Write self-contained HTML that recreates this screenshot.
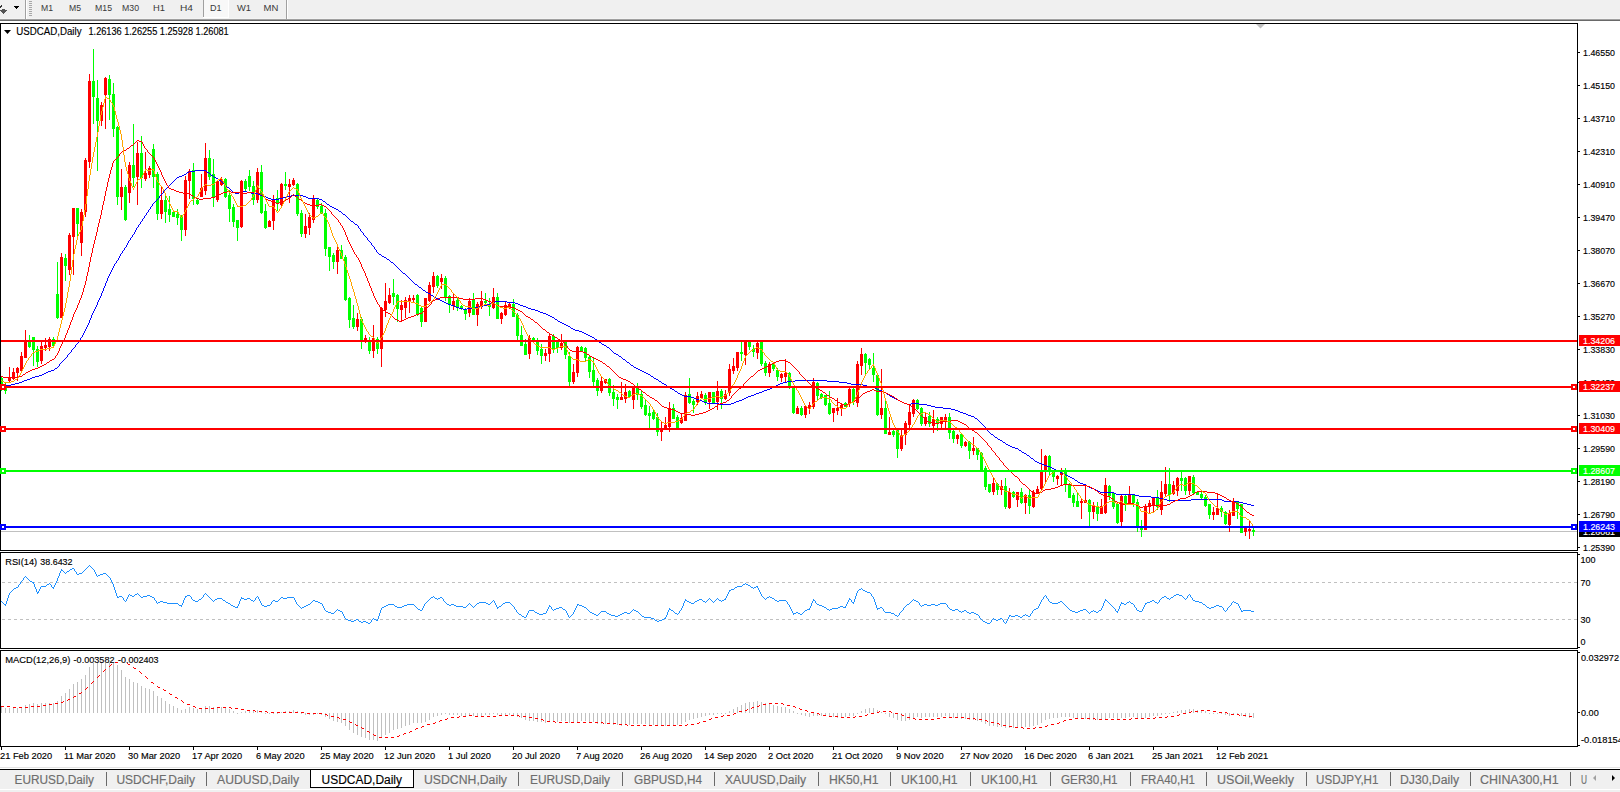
<!DOCTYPE html>
<html><head><meta charset="utf-8"><title>USDCAD,Daily</title>
<style>html,body{margin:0;padding:0;background:#fff;overflow:hidden;width:1620px;height:792px}svg{display:block}</style>
</head><body><svg width="1620" height="792" viewBox="0 0 1620 792" font-family='"Liberation Sans", sans-serif'><rect x="0" y="0" width="1620" height="19" fill="#f0f0f0"/><rect x="0" y="18" width="1620" height="1" fill="#f4f4f4"/><rect x="0" y="19" width="1620" height="1" fill="#a0a0a0"/><rect x="0" y="20" width="1620" height="1" fill="#696969"/><rect x="25" y="0" width="1" height="19" fill="#a0a0a0"/><rect x="26" y="0" width="1" height="19" fill="#ffffff"/><rect x="286" y="0" width="1" height="19" fill="#a0a0a0"/><rect x="287" y="0" width="1" height="19" fill="#ffffff"/><rect x="203" y="0" width="1" height="17" fill="#a0a0a0"/><rect x="29" y="1" width="3" height="1" fill="#a8a8a8"/><rect x="29" y="3" width="3" height="1" fill="#a8a8a8"/><rect x="29" y="5" width="3" height="1" fill="#a8a8a8"/><rect x="29" y="7" width="3" height="1" fill="#a8a8a8"/><rect x="29" y="9" width="3" height="1" fill="#a8a8a8"/><rect x="29" y="11" width="3" height="1" fill="#a8a8a8"/><rect x="29" y="13" width="3" height="1" fill="#a8a8a8"/><rect x="29" y="15" width="3" height="1" fill="#a8a8a8"/><rect x="204" y="0" width="24" height="17" fill="#f8f8f8"/><rect x="228" y="0" width="1" height="18" fill="#fff"/><rect x="203" y="17" width="26" height="1" fill="#fff"/><g shape-rendering="crispEdges" fill="#000"><rect x="14" y="6" width="5" height="1"/><rect x="15" y="7" width="3" height="1"/><rect x="16" y="8" width="1" height="1"/></g><g shape-rendering="crispEdges"><rect x="1" y="5" width="1" height="1" fill="#333"/><rect x="0" y="6" width="2" height="1" fill="#333"/><rect x="0" y="7" width="1" height="1" fill="#333"/><rect x="2" y="9" width="3" height="1" fill="#555"/><rect x="0" y="10" width="7" height="1" fill="#555"/><rect x="1" y="11" width="5" height="1" fill="#555"/><rect x="2" y="12" width="3" height="1" fill="#555"/><rect x="3" y="13" width="1" height="1" fill="#555"/></g><text x="41" y="11" font-size="9.6" fill="#3a3a3a" stroke="#3a3a3a" stroke-width="0" textLength="12.0" lengthAdjust="spacingAndGlyphs">M1</text><text x="69" y="11" font-size="9.6" fill="#3a3a3a" stroke="#3a3a3a" stroke-width="0" textLength="12.0" lengthAdjust="spacingAndGlyphs">M5</text><text x="95" y="11" font-size="9.6" fill="#3a3a3a" stroke="#3a3a3a" stroke-width="0" textLength="17.0" lengthAdjust="spacingAndGlyphs">M15</text><text x="122" y="11" font-size="9.6" fill="#3a3a3a" stroke="#3a3a3a" stroke-width="0" textLength="17.0" lengthAdjust="spacingAndGlyphs">M30</text><text x="153" y="11" font-size="9.6" fill="#3a3a3a" stroke="#3a3a3a" stroke-width="0" textLength="12.0" lengthAdjust="spacingAndGlyphs">H1</text><text x="180" y="11" font-size="9.6" fill="#3a3a3a" stroke="#3a3a3a" stroke-width="0" textLength="13.0" lengthAdjust="spacingAndGlyphs">H4</text><text x="210" y="11" font-size="9.6" fill="#3a3a3a" stroke="#3a3a3a" stroke-width="0" textLength="11.5" lengthAdjust="spacingAndGlyphs">D1</text><text x="237" y="11" font-size="9.6" fill="#3a3a3a" stroke="#3a3a3a" stroke-width="0" textLength="14.0" lengthAdjust="spacingAndGlyphs">W1</text><text x="263.5" y="11" font-size="9.6" fill="#3a3a3a" stroke="#3a3a3a" stroke-width="0" textLength="14.8" lengthAdjust="spacingAndGlyphs">MN</text><rect x="0" y="21" width="1620" height="746" fill="#ffffff"/><rect x="0" y="23" width="1578" height="1" fill="#000"/><rect x="0" y="550" width="1578" height="1" fill="#000"/><rect x="0" y="23" width="1" height="528" fill="#000"/><rect x="1577" y="23" width="1" height="528" fill="#000"/><rect x="0" y="552" width="1578" height="1" fill="#000"/><rect x="0" y="648" width="1578" height="1" fill="#000"/><rect x="0" y="552" width="1" height="97" fill="#000"/><rect x="1577" y="552" width="1" height="97" fill="#000"/><rect x="0" y="650" width="1578" height="1" fill="#000"/><rect x="0" y="746" width="1578" height="1" fill="#000"/><rect x="0" y="650" width="1" height="97" fill="#000"/><rect x="1577" y="650" width="1" height="97" fill="#000"/><path d="M1256 24 L1265 24 L1260.5 28.5 Z" fill="#c0c0c0"/><rect x="1578" y="52" width="2" height="1" fill="#000"/><text x="1583" y="56" font-size="9.5" fill="#000" stroke="#000" stroke-width="0.15" textLength="32.0" lengthAdjust="spacingAndGlyphs">1.46550</text><rect x="1578" y="85" width="2" height="1" fill="#000"/><text x="1583" y="89" font-size="9.5" fill="#000" stroke="#000" stroke-width="0.15" textLength="32.0" lengthAdjust="spacingAndGlyphs">1.45150</text><rect x="1578" y="118" width="2" height="1" fill="#000"/><text x="1583" y="122" font-size="9.5" fill="#000" stroke="#000" stroke-width="0.15" textLength="32.0" lengthAdjust="spacingAndGlyphs">1.43710</text><rect x="1578" y="151" width="2" height="1" fill="#000"/><text x="1583" y="155" font-size="9.5" fill="#000" stroke="#000" stroke-width="0.15" textLength="32.0" lengthAdjust="spacingAndGlyphs">1.42310</text><rect x="1578" y="184" width="2" height="1" fill="#000"/><text x="1583" y="188" font-size="9.5" fill="#000" stroke="#000" stroke-width="0.15" textLength="32.0" lengthAdjust="spacingAndGlyphs">1.40910</text><rect x="1578" y="217" width="2" height="1" fill="#000"/><text x="1583" y="221" font-size="9.5" fill="#000" stroke="#000" stroke-width="0.15" textLength="32.0" lengthAdjust="spacingAndGlyphs">1.39470</text><rect x="1578" y="250" width="2" height="1" fill="#000"/><text x="1583" y="254" font-size="9.5" fill="#000" stroke="#000" stroke-width="0.15" textLength="32.0" lengthAdjust="spacingAndGlyphs">1.38070</text><rect x="1578" y="283" width="2" height="1" fill="#000"/><text x="1583" y="287" font-size="9.5" fill="#000" stroke="#000" stroke-width="0.15" textLength="32.0" lengthAdjust="spacingAndGlyphs">1.36670</text><rect x="1578" y="316" width="2" height="1" fill="#000"/><text x="1583" y="320" font-size="9.5" fill="#000" stroke="#000" stroke-width="0.15" textLength="32.0" lengthAdjust="spacingAndGlyphs">1.35270</text><rect x="1578" y="349" width="2" height="1" fill="#000"/><text x="1583" y="353" font-size="9.5" fill="#000" stroke="#000" stroke-width="0.15" textLength="32.0" lengthAdjust="spacingAndGlyphs">1.33830</text><rect x="1578" y="382" width="2" height="1" fill="#000"/><text x="1583" y="386" font-size="9.5" fill="#000" stroke="#000" stroke-width="0.15" textLength="32.0" lengthAdjust="spacingAndGlyphs">1.32430</text><rect x="1578" y="415" width="2" height="1" fill="#000"/><text x="1583" y="419" font-size="9.5" fill="#000" stroke="#000" stroke-width="0.15" textLength="32.0" lengthAdjust="spacingAndGlyphs">1.31030</text><rect x="1578" y="448" width="2" height="1" fill="#000"/><text x="1583" y="452" font-size="9.5" fill="#000" stroke="#000" stroke-width="0.15" textLength="32.0" lengthAdjust="spacingAndGlyphs">1.29590</text><rect x="1578" y="481" width="2" height="1" fill="#000"/><text x="1583" y="485" font-size="9.5" fill="#000" stroke="#000" stroke-width="0.15" textLength="32.0" lengthAdjust="spacingAndGlyphs">1.28190</text><rect x="1578" y="514" width="2" height="1" fill="#000"/><text x="1583" y="518" font-size="9.5" fill="#000" stroke="#000" stroke-width="0.15" textLength="32.0" lengthAdjust="spacingAndGlyphs">1.26790</text><rect x="1578" y="547" width="2" height="1" fill="#000"/><text x="1583" y="551" font-size="9.5" fill="#000" stroke="#000" stroke-width="0.15" textLength="32.0" lengthAdjust="spacingAndGlyphs">1.25390</text><defs><clipPath id="cm"><rect x="1" y="24" width="1576" height="526"/></clipPath><clipPath id="cr"><rect x="1" y="553" width="1576" height="94"/></clipPath><clipPath id="cd"><rect x="1" y="651" width="1576" height="95"/></clipPath></defs><rect x="1" y="531" width="1576" height="1" fill="#c0c0c0"/><g clip-path="url(#cm)" shape-rendering="crispEdges"><rect x="1" y="376" width="1" height="15" fill="#00ff00"/><rect x="0" y="378" width="3" height="9" fill="#00ff00"/><rect x="5" y="383" width="1" height="11" fill="#00ff00"/><rect x="4" y="385" width="3" height="6" fill="#00ff00"/><rect x="9" y="367" width="1" height="16" fill="#ff0000"/><rect x="8" y="377" width="3" height="4" fill="#ff0000"/><rect x="13" y="368" width="1" height="12" fill="#ff0000"/><rect x="12" y="372" width="3" height="7" fill="#ff0000"/><rect x="17" y="367" width="1" height="14" fill="#ff0000"/><rect x="16" y="368" width="3" height="5" fill="#ff0000"/><rect x="21" y="352" width="1" height="19" fill="#ff0000"/><rect x="20" y="356" width="3" height="15" fill="#ff0000"/><rect x="25" y="330" width="1" height="28" fill="#ff0000"/><rect x="24" y="342" width="3" height="16" fill="#ff0000"/><rect x="29" y="335" width="1" height="13" fill="#00ff00"/><rect x="28" y="342" width="3" height="5" fill="#00ff00"/><rect x="33" y="337" width="1" height="29" fill="#00ff00"/><rect x="32" y="337" width="3" height="13" fill="#00ff00"/><rect x="37" y="346" width="1" height="21" fill="#00ff00"/><rect x="36" y="349" width="3" height="13" fill="#00ff00"/><rect x="41" y="342" width="1" height="22" fill="#ff0000"/><rect x="40" y="346" width="3" height="15" fill="#ff0000"/><rect x="45" y="338" width="1" height="13" fill="#ff0000"/><rect x="44" y="345" width="3" height="3" fill="#ff0000"/><rect x="49" y="337" width="1" height="14" fill="#ff0000"/><rect x="48" y="339" width="3" height="8" fill="#ff0000"/><rect x="53" y="337" width="1" height="9" fill="#00ff00"/><rect x="52" y="339" width="3" height="7" fill="#00ff00"/><rect x="57" y="262" width="1" height="57" fill="#00ff00"/><rect x="56" y="294" width="3" height="24" fill="#00ff00"/><rect x="61" y="253" width="1" height="65" fill="#ff0000"/><rect x="60" y="257" width="3" height="61" fill="#ff0000"/><rect x="65" y="254" width="1" height="27" fill="#00ff00"/><rect x="64" y="258" width="3" height="8" fill="#00ff00"/><rect x="69" y="233" width="1" height="42" fill="#ff0000"/><rect x="68" y="235" width="3" height="35" fill="#ff0000"/><rect x="73" y="208" width="1" height="67" fill="#ff0000"/><rect x="72" y="208" width="3" height="29" fill="#ff0000"/><rect x="77" y="208" width="1" height="28" fill="#00ff00"/><rect x="76" y="208" width="3" height="16" fill="#00ff00"/><rect x="81" y="209" width="1" height="47" fill="#ff0000"/><rect x="80" y="212" width="3" height="31" fill="#ff0000"/><rect x="85" y="158" width="1" height="59" fill="#ff0000"/><rect x="84" y="160" width="3" height="52" fill="#ff0000"/><rect x="89" y="74" width="1" height="94" fill="#ff0000"/><rect x="88" y="81" width="3" height="81" fill="#ff0000"/><rect x="93" y="49" width="1" height="75" fill="#00ff00"/><rect x="92" y="81" width="3" height="16" fill="#00ff00"/><rect x="97" y="80" width="1" height="91" fill="#00ff00"/><rect x="96" y="98" width="3" height="23" fill="#00ff00"/><rect x="101" y="102" width="1" height="24" fill="#ff0000"/><rect x="100" y="105" width="3" height="16" fill="#ff0000"/><rect x="105" y="77" width="1" height="52" fill="#ff0000"/><rect x="104" y="78" width="3" height="17" fill="#ff0000"/><rect x="109" y="75" width="1" height="45" fill="#00ff00"/><rect x="108" y="79" width="3" height="16" fill="#00ff00"/><rect x="113" y="83" width="1" height="54" fill="#00ff00"/><rect x="112" y="94" width="3" height="35" fill="#00ff00"/><rect x="117" y="126" width="1" height="79" fill="#00ff00"/><rect x="116" y="127" width="3" height="70" fill="#00ff00"/><rect x="121" y="169" width="1" height="41" fill="#ff0000"/><rect x="120" y="187" width="3" height="10" fill="#ff0000"/><rect x="125" y="185" width="1" height="36" fill="#00ff00"/><rect x="124" y="187" width="3" height="33" fill="#00ff00"/><rect x="129" y="162" width="1" height="41" fill="#ff0000"/><rect x="128" y="165" width="3" height="28" fill="#ff0000"/><rect x="133" y="124" width="1" height="63" fill="#00ff00"/><rect x="132" y="165" width="3" height="13" fill="#00ff00"/><rect x="137" y="142" width="1" height="63" fill="#ff0000"/><rect x="136" y="153" width="3" height="24" fill="#ff0000"/><rect x="141" y="136" width="1" height="52" fill="#00ff00"/><rect x="140" y="153" width="3" height="25" fill="#00ff00"/><rect x="145" y="152" width="1" height="29" fill="#ff0000"/><rect x="144" y="173" width="3" height="6" fill="#ff0000"/><rect x="149" y="166" width="1" height="12" fill="#ff0000"/><rect x="148" y="168" width="3" height="7" fill="#ff0000"/><rect x="153" y="144" width="1" height="44" fill="#00ff00"/><rect x="152" y="149" width="3" height="28" fill="#00ff00"/><rect x="157" y="172" width="1" height="48" fill="#00ff00"/><rect x="156" y="174" width="3" height="40" fill="#00ff00"/><rect x="161" y="186" width="1" height="33" fill="#ff0000"/><rect x="160" y="200" width="3" height="14" fill="#ff0000"/><rect x="165" y="194" width="1" height="29" fill="#00ff00"/><rect x="164" y="200" width="3" height="12" fill="#00ff00"/><rect x="169" y="196" width="1" height="26" fill="#00ff00"/><rect x="168" y="209" width="3" height="6" fill="#00ff00"/><rect x="173" y="212" width="1" height="5" fill="#00ff00"/><rect x="172" y="212" width="3" height="5" fill="#00ff00"/><rect x="177" y="209" width="1" height="16" fill="#00ff00"/><rect x="176" y="214" width="3" height="4" fill="#00ff00"/><rect x="181" y="215" width="1" height="26" fill="#00ff00"/><rect x="180" y="217" width="3" height="13" fill="#00ff00"/><rect x="185" y="176" width="1" height="60" fill="#ff0000"/><rect x="184" y="180" width="3" height="50" fill="#ff0000"/><rect x="189" y="169" width="1" height="30" fill="#ff0000"/><rect x="188" y="171" width="3" height="10" fill="#ff0000"/><rect x="193" y="163" width="1" height="42" fill="#00ff00"/><rect x="192" y="170" width="3" height="29" fill="#00ff00"/><rect x="197" y="198" width="1" height="7" fill="#00ff00"/><rect x="196" y="200" width="3" height="4" fill="#00ff00"/><rect x="201" y="174" width="1" height="21" fill="#ff0000"/><rect x="200" y="188" width="3" height="9" fill="#ff0000"/><rect x="205" y="143" width="1" height="52" fill="#ff0000"/><rect x="204" y="158" width="3" height="33" fill="#ff0000"/><rect x="209" y="150" width="1" height="30" fill="#00ff00"/><rect x="208" y="158" width="3" height="19" fill="#00ff00"/><rect x="213" y="159" width="1" height="48" fill="#00ff00"/><rect x="212" y="174" width="3" height="24" fill="#00ff00"/><rect x="217" y="181" width="1" height="21" fill="#ff0000"/><rect x="216" y="181" width="3" height="19" fill="#ff0000"/><rect x="221" y="177" width="1" height="9" fill="#ff0000"/><rect x="220" y="179" width="3" height="6" fill="#ff0000"/><rect x="225" y="178" width="1" height="20" fill="#00ff00"/><rect x="224" y="179" width="3" height="18" fill="#00ff00"/><rect x="229" y="190" width="1" height="32" fill="#00ff00"/><rect x="228" y="195" width="3" height="14" fill="#00ff00"/><rect x="233" y="204" width="1" height="23" fill="#00ff00"/><rect x="232" y="207" width="3" height="15" fill="#00ff00"/><rect x="237" y="220" width="1" height="21" fill="#00ff00"/><rect x="236" y="220" width="3" height="8" fill="#00ff00"/><rect x="241" y="180" width="1" height="48" fill="#ff0000"/><rect x="240" y="181" width="3" height="46" fill="#ff0000"/><rect x="245" y="179" width="1" height="12" fill="#00ff00"/><rect x="244" y="181" width="3" height="8" fill="#00ff00"/><rect x="249" y="170" width="1" height="21" fill="#00ff00"/><rect x="248" y="176" width="3" height="11" fill="#00ff00"/><rect x="253" y="181" width="1" height="24" fill="#00ff00"/><rect x="252" y="186" width="3" height="14" fill="#00ff00"/><rect x="257" y="168" width="1" height="35" fill="#ff0000"/><rect x="256" y="172" width="3" height="28" fill="#ff0000"/><rect x="261" y="165" width="1" height="49" fill="#00ff00"/><rect x="260" y="172" width="3" height="41" fill="#00ff00"/><rect x="265" y="204" width="1" height="25" fill="#00ff00"/><rect x="264" y="211" width="3" height="17" fill="#00ff00"/><rect x="269" y="220" width="1" height="7" fill="#ff0000"/><rect x="268" y="221" width="3" height="6" fill="#ff0000"/><rect x="273" y="195" width="1" height="35" fill="#ff0000"/><rect x="272" y="199" width="3" height="22" fill="#ff0000"/><rect x="277" y="190" width="1" height="21" fill="#00ff00"/><rect x="276" y="198" width="3" height="5" fill="#00ff00"/><rect x="281" y="183" width="1" height="23" fill="#ff0000"/><rect x="280" y="184" width="3" height="21" fill="#ff0000"/><rect x="285" y="172" width="1" height="18" fill="#00ff00"/><rect x="284" y="184" width="3" height="2" fill="#00ff00"/><rect x="289" y="179" width="1" height="24" fill="#ff0000"/><rect x="288" y="184" width="3" height="3" fill="#ff0000"/><rect x="293" y="178" width="1" height="8" fill="#ff0000"/><rect x="292" y="180" width="3" height="5" fill="#ff0000"/><rect x="297" y="183" width="1" height="33" fill="#00ff00"/><rect x="296" y="184" width="3" height="30" fill="#00ff00"/><rect x="301" y="210" width="1" height="27" fill="#00ff00"/><rect x="300" y="213" width="3" height="21" fill="#00ff00"/><rect x="305" y="214" width="1" height="24" fill="#ff0000"/><rect x="304" y="226" width="3" height="8" fill="#ff0000"/><rect x="309" y="213" width="1" height="22" fill="#ff0000"/><rect x="308" y="217" width="3" height="11" fill="#ff0000"/><rect x="313" y="195" width="1" height="28" fill="#ff0000"/><rect x="312" y="199" width="3" height="21" fill="#ff0000"/><rect x="317" y="199" width="1" height="10" fill="#00ff00"/><rect x="316" y="200" width="3" height="7" fill="#00ff00"/><rect x="321" y="203" width="1" height="11" fill="#00ff00"/><rect x="320" y="206" width="3" height="8" fill="#00ff00"/><rect x="325" y="209" width="1" height="47" fill="#00ff00"/><rect x="324" y="213" width="3" height="36" fill="#00ff00"/><rect x="329" y="247" width="1" height="24" fill="#00ff00"/><rect x="328" y="247" width="3" height="10" fill="#00ff00"/><rect x="333" y="253" width="1" height="16" fill="#00ff00"/><rect x="332" y="255" width="3" height="7" fill="#00ff00"/><rect x="337" y="247" width="1" height="27" fill="#ff0000"/><rect x="336" y="250" width="3" height="12" fill="#ff0000"/><rect x="341" y="245" width="1" height="14" fill="#00ff00"/><rect x="340" y="250" width="3" height="9" fill="#00ff00"/><rect x="345" y="255" width="1" height="46" fill="#00ff00"/><rect x="344" y="257" width="3" height="43" fill="#00ff00"/><rect x="349" y="297" width="1" height="31" fill="#00ff00"/><rect x="348" y="298" width="3" height="22" fill="#00ff00"/><rect x="353" y="305" width="1" height="24" fill="#00ff00"/><rect x="352" y="318" width="3" height="9" fill="#00ff00"/><rect x="357" y="313" width="1" height="18" fill="#ff0000"/><rect x="356" y="319" width="3" height="8" fill="#ff0000"/><rect x="361" y="317" width="1" height="32" fill="#00ff00"/><rect x="360" y="319" width="3" height="21" fill="#00ff00"/><rect x="365" y="335" width="1" height="8" fill="#ff0000"/><rect x="364" y="338" width="3" height="4" fill="#ff0000"/><rect x="369" y="337" width="1" height="17" fill="#00ff00"/><rect x="368" y="342" width="3" height="9" fill="#00ff00"/><rect x="373" y="325" width="1" height="33" fill="#ff0000"/><rect x="372" y="338" width="3" height="13" fill="#ff0000"/><rect x="377" y="337" width="1" height="17" fill="#00ff00"/><rect x="376" y="339" width="3" height="10" fill="#00ff00"/><rect x="381" y="307" width="1" height="60" fill="#ff0000"/><rect x="380" y="308" width="3" height="41" fill="#ff0000"/><rect x="385" y="283" width="1" height="34" fill="#ff0000"/><rect x="384" y="301" width="3" height="9" fill="#ff0000"/><rect x="389" y="288" width="1" height="16" fill="#ff0000"/><rect x="388" y="295" width="3" height="8" fill="#ff0000"/><rect x="393" y="279" width="1" height="26" fill="#00ff00"/><rect x="392" y="293" width="3" height="4" fill="#00ff00"/><rect x="397" y="294" width="1" height="28" fill="#00ff00"/><rect x="396" y="295" width="3" height="14" fill="#00ff00"/><rect x="401" y="300" width="1" height="21" fill="#ff0000"/><rect x="400" y="305" width="3" height="5" fill="#ff0000"/><rect x="405" y="297" width="1" height="21" fill="#ff0000"/><rect x="404" y="300" width="3" height="8" fill="#ff0000"/><rect x="409" y="295" width="1" height="18" fill="#ff0000"/><rect x="408" y="298" width="3" height="4" fill="#ff0000"/><rect x="413" y="295" width="1" height="7" fill="#ff0000"/><rect x="412" y="298" width="3" height="2" fill="#ff0000"/><rect x="417" y="294" width="1" height="22" fill="#00ff00"/><rect x="416" y="295" width="3" height="19" fill="#00ff00"/><rect x="421" y="307" width="1" height="20" fill="#00ff00"/><rect x="420" y="308" width="3" height="14" fill="#00ff00"/><rect x="425" y="298" width="1" height="24" fill="#ff0000"/><rect x="424" y="298" width="3" height="24" fill="#ff0000"/><rect x="429" y="282" width="1" height="20" fill="#ff0000"/><rect x="428" y="285" width="3" height="16" fill="#ff0000"/><rect x="433" y="272" width="1" height="21" fill="#ff0000"/><rect x="432" y="276" width="3" height="11" fill="#ff0000"/><rect x="437" y="275" width="1" height="13" fill="#00ff00"/><rect x="436" y="276" width="3" height="10" fill="#00ff00"/><rect x="441" y="274" width="1" height="15" fill="#ff0000"/><rect x="440" y="278" width="3" height="4" fill="#ff0000"/><rect x="445" y="276" width="1" height="25" fill="#00ff00"/><rect x="444" y="278" width="3" height="19" fill="#00ff00"/><rect x="449" y="295" width="1" height="18" fill="#00ff00"/><rect x="448" y="296" width="3" height="8" fill="#00ff00"/><rect x="453" y="294" width="1" height="16" fill="#ff0000"/><rect x="452" y="301" width="3" height="5" fill="#ff0000"/><rect x="457" y="298" width="1" height="13" fill="#00ff00"/><rect x="456" y="300" width="3" height="8" fill="#00ff00"/><rect x="461" y="305" width="1" height="5" fill="#00ff00"/><rect x="460" y="306" width="3" height="2" fill="#00ff00"/><rect x="465" y="308" width="1" height="12" fill="#00ff00"/><rect x="464" y="309" width="3" height="5" fill="#00ff00"/><rect x="469" y="298" width="1" height="19" fill="#ff0000"/><rect x="468" y="301" width="3" height="12" fill="#ff0000"/><rect x="473" y="293" width="1" height="22" fill="#00ff00"/><rect x="472" y="300" width="3" height="15" fill="#00ff00"/><rect x="477" y="302" width="1" height="24" fill="#ff0000"/><rect x="476" y="304" width="3" height="11" fill="#ff0000"/><rect x="481" y="291" width="1" height="18" fill="#ff0000"/><rect x="480" y="301" width="3" height="6" fill="#ff0000"/><rect x="485" y="293" width="1" height="11" fill="#00ff00"/><rect x="484" y="301" width="3" height="2" fill="#00ff00"/><rect x="489" y="298" width="1" height="18" fill="#00ff00"/><rect x="488" y="304" width="3" height="3" fill="#00ff00"/><rect x="493" y="288" width="1" height="21" fill="#ff0000"/><rect x="492" y="297" width="3" height="11" fill="#ff0000"/><rect x="497" y="293" width="1" height="26" fill="#00ff00"/><rect x="496" y="297" width="3" height="22" fill="#00ff00"/><rect x="501" y="312" width="1" height="12" fill="#ff0000"/><rect x="500" y="313" width="3" height="6" fill="#ff0000"/><rect x="505" y="302" width="1" height="14" fill="#ff0000"/><rect x="504" y="305" width="3" height="10" fill="#ff0000"/><rect x="509" y="303" width="1" height="6" fill="#ff0000"/><rect x="508" y="304" width="3" height="4" fill="#ff0000"/><rect x="513" y="299" width="1" height="18" fill="#00ff00"/><rect x="512" y="304" width="3" height="13" fill="#00ff00"/><rect x="517" y="313" width="1" height="27" fill="#00ff00"/><rect x="516" y="315" width="3" height="21" fill="#00ff00"/><rect x="521" y="326" width="1" height="20" fill="#00ff00"/><rect x="520" y="335" width="3" height="11" fill="#00ff00"/><rect x="525" y="339" width="1" height="16" fill="#00ff00"/><rect x="524" y="344" width="3" height="11" fill="#00ff00"/><rect x="529" y="335" width="1" height="24" fill="#ff0000"/><rect x="528" y="338" width="3" height="16" fill="#ff0000"/><rect x="533" y="337" width="1" height="4" fill="#00ff00"/><rect x="532" y="338" width="3" height="3" fill="#00ff00"/><rect x="537" y="338" width="1" height="17" fill="#00ff00"/><rect x="536" y="342" width="3" height="9" fill="#00ff00"/><rect x="541" y="344" width="1" height="20" fill="#00ff00"/><rect x="540" y="349" width="3" height="7" fill="#00ff00"/><rect x="545" y="349" width="1" height="12" fill="#ff0000"/><rect x="544" y="353" width="3" height="3" fill="#ff0000"/><rect x="549" y="333" width="1" height="29" fill="#ff0000"/><rect x="548" y="336" width="3" height="18" fill="#ff0000"/><rect x="553" y="334" width="1" height="19" fill="#00ff00"/><rect x="552" y="336" width="3" height="14" fill="#00ff00"/><rect x="557" y="340" width="1" height="13" fill="#00ff00"/><rect x="556" y="341" width="3" height="7" fill="#00ff00"/><rect x="561" y="334" width="1" height="16" fill="#ff0000"/><rect x="560" y="343" width="3" height="5" fill="#ff0000"/><rect x="565" y="342" width="1" height="17" fill="#00ff00"/><rect x="564" y="342" width="3" height="13" fill="#00ff00"/><rect x="569" y="352" width="1" height="34" fill="#00ff00"/><rect x="568" y="356" width="3" height="26" fill="#00ff00"/><rect x="573" y="364" width="1" height="20" fill="#ff0000"/><rect x="572" y="372" width="3" height="10" fill="#ff0000"/><rect x="577" y="346" width="1" height="31" fill="#ff0000"/><rect x="576" y="347" width="3" height="26" fill="#ff0000"/><rect x="581" y="346" width="1" height="6" fill="#00ff00"/><rect x="580" y="347" width="3" height="4" fill="#00ff00"/><rect x="585" y="347" width="1" height="14" fill="#00ff00"/><rect x="584" y="348" width="3" height="10" fill="#00ff00"/><rect x="589" y="355" width="1" height="23" fill="#00ff00"/><rect x="588" y="357" width="3" height="15" fill="#00ff00"/><rect x="593" y="358" width="1" height="29" fill="#00ff00"/><rect x="592" y="370" width="3" height="12" fill="#00ff00"/><rect x="597" y="378" width="1" height="18" fill="#00ff00"/><rect x="596" y="380" width="3" height="11" fill="#00ff00"/><rect x="601" y="376" width="1" height="17" fill="#ff0000"/><rect x="600" y="381" width="3" height="10" fill="#ff0000"/><rect x="605" y="379" width="1" height="5" fill="#ff0000"/><rect x="604" y="379" width="3" height="4" fill="#ff0000"/><rect x="609" y="378" width="1" height="18" fill="#00ff00"/><rect x="608" y="379" width="3" height="14" fill="#00ff00"/><rect x="613" y="385" width="1" height="21" fill="#00ff00"/><rect x="612" y="392" width="3" height="7" fill="#00ff00"/><rect x="617" y="394" width="1" height="15" fill="#00ff00"/><rect x="616" y="397" width="3" height="3" fill="#00ff00"/><rect x="621" y="382" width="1" height="18" fill="#ff0000"/><rect x="620" y="397" width="3" height="3" fill="#ff0000"/><rect x="625" y="384" width="1" height="19" fill="#ff0000"/><rect x="624" y="392" width="3" height="7" fill="#ff0000"/><rect x="629" y="390" width="1" height="8" fill="#00ff00"/><rect x="628" y="391" width="3" height="6" fill="#00ff00"/><rect x="633" y="387" width="1" height="22" fill="#ff0000"/><rect x="632" y="387" width="3" height="13" fill="#ff0000"/><rect x="637" y="383" width="1" height="17" fill="#00ff00"/><rect x="636" y="387" width="3" height="8" fill="#00ff00"/><rect x="641" y="391" width="1" height="18" fill="#00ff00"/><rect x="640" y="394" width="3" height="13" fill="#00ff00"/><rect x="645" y="399" width="1" height="17" fill="#00ff00"/><rect x="644" y="405" width="3" height="10" fill="#00ff00"/><rect x="649" y="406" width="1" height="23" fill="#00ff00"/><rect x="648" y="413" width="3" height="3" fill="#00ff00"/><rect x="653" y="410" width="1" height="10" fill="#00ff00"/><rect x="652" y="412" width="3" height="7" fill="#00ff00"/><rect x="657" y="413" width="1" height="23" fill="#00ff00"/><rect x="656" y="417" width="3" height="15" fill="#00ff00"/><rect x="661" y="422" width="1" height="19" fill="#ff0000"/><rect x="660" y="428" width="3" height="4" fill="#ff0000"/><rect x="665" y="417" width="1" height="13" fill="#ff0000"/><rect x="664" y="425" width="3" height="5" fill="#ff0000"/><rect x="669" y="402" width="1" height="30" fill="#ff0000"/><rect x="668" y="408" width="3" height="19" fill="#ff0000"/><rect x="673" y="404" width="1" height="15" fill="#00ff00"/><rect x="672" y="408" width="3" height="11" fill="#00ff00"/><rect x="677" y="415" width="1" height="14" fill="#00ff00"/><rect x="676" y="417" width="3" height="12" fill="#00ff00"/><rect x="681" y="413" width="1" height="11" fill="#ff0000"/><rect x="680" y="418" width="3" height="5" fill="#ff0000"/><rect x="685" y="392" width="1" height="29" fill="#ff0000"/><rect x="684" y="395" width="3" height="26" fill="#ff0000"/><rect x="689" y="378" width="1" height="26" fill="#00ff00"/><rect x="688" y="394" width="3" height="9" fill="#00ff00"/><rect x="693" y="399" width="1" height="14" fill="#00ff00"/><rect x="692" y="401" width="3" height="4" fill="#00ff00"/><rect x="697" y="392" width="1" height="13" fill="#ff0000"/><rect x="696" y="396" width="3" height="6" fill="#ff0000"/><rect x="701" y="391" width="1" height="8" fill="#ff0000"/><rect x="700" y="394" width="3" height="4" fill="#ff0000"/><rect x="705" y="393" width="1" height="12" fill="#00ff00"/><rect x="704" y="395" width="3" height="8" fill="#00ff00"/><rect x="709" y="392" width="1" height="17" fill="#ff0000"/><rect x="708" y="392" width="3" height="10" fill="#ff0000"/><rect x="713" y="392" width="1" height="11" fill="#00ff00"/><rect x="712" y="392" width="3" height="11" fill="#00ff00"/><rect x="717" y="381" width="1" height="29" fill="#ff0000"/><rect x="716" y="391" width="3" height="11" fill="#ff0000"/><rect x="721" y="389" width="1" height="20" fill="#00ff00"/><rect x="720" y="391" width="3" height="8" fill="#00ff00"/><rect x="725" y="390" width="1" height="10" fill="#ff0000"/><rect x="724" y="394" width="3" height="5" fill="#ff0000"/><rect x="729" y="364" width="1" height="32" fill="#ff0000"/><rect x="728" y="369" width="3" height="24" fill="#ff0000"/><rect x="733" y="358" width="1" height="16" fill="#ff0000"/><rect x="732" y="366" width="3" height="5" fill="#ff0000"/><rect x="737" y="352" width="1" height="19" fill="#ff0000"/><rect x="736" y="352" width="3" height="16" fill="#ff0000"/><rect x="741" y="342" width="1" height="19" fill="#00ff00"/><rect x="740" y="352" width="3" height="2" fill="#00ff00"/><rect x="745" y="341" width="1" height="24" fill="#ff0000"/><rect x="744" y="342" width="3" height="13" fill="#ff0000"/><rect x="749" y="342" width="1" height="8" fill="#00ff00"/><rect x="748" y="342" width="3" height="5" fill="#00ff00"/><rect x="753" y="345" width="1" height="12" fill="#00ff00"/><rect x="752" y="349" width="3" height="3" fill="#00ff00"/><rect x="757" y="342" width="1" height="17" fill="#ff0000"/><rect x="756" y="343" width="3" height="10" fill="#ff0000"/><rect x="761" y="342" width="1" height="24" fill="#00ff00"/><rect x="760" y="342" width="3" height="22" fill="#00ff00"/><rect x="765" y="361" width="1" height="15" fill="#00ff00"/><rect x="764" y="363" width="3" height="10" fill="#00ff00"/><rect x="769" y="362" width="1" height="15" fill="#ff0000"/><rect x="768" y="364" width="3" height="9" fill="#ff0000"/><rect x="773" y="363" width="1" height="8" fill="#00ff00"/><rect x="772" y="364" width="3" height="5" fill="#00ff00"/><rect x="777" y="368" width="1" height="13" fill="#00ff00"/><rect x="776" y="370" width="3" height="7" fill="#00ff00"/><rect x="781" y="373" width="1" height="9" fill="#ff0000"/><rect x="780" y="374" width="3" height="4" fill="#ff0000"/><rect x="785" y="359" width="1" height="23" fill="#ff0000"/><rect x="784" y="373" width="3" height="4" fill="#ff0000"/><rect x="789" y="372" width="1" height="17" fill="#00ff00"/><rect x="788" y="373" width="3" height="13" fill="#00ff00"/><rect x="793" y="386" width="1" height="28" fill="#00ff00"/><rect x="792" y="388" width="3" height="25" fill="#00ff00"/><rect x="797" y="406" width="1" height="8" fill="#ff0000"/><rect x="796" y="408" width="3" height="6" fill="#ff0000"/><rect x="801" y="406" width="1" height="10" fill="#00ff00"/><rect x="800" y="408" width="3" height="7" fill="#00ff00"/><rect x="805" y="406" width="1" height="12" fill="#ff0000"/><rect x="804" y="406" width="3" height="9" fill="#ff0000"/><rect x="809" y="402" width="1" height="12" fill="#ff0000"/><rect x="808" y="405" width="3" height="4" fill="#ff0000"/><rect x="813" y="378" width="1" height="31" fill="#ff0000"/><rect x="812" y="382" width="3" height="25" fill="#ff0000"/><rect x="817" y="382" width="1" height="18" fill="#00ff00"/><rect x="816" y="383" width="3" height="13" fill="#00ff00"/><rect x="821" y="393" width="1" height="6" fill="#00ff00"/><rect x="820" y="394" width="3" height="4" fill="#00ff00"/><rect x="825" y="395" width="1" height="11" fill="#00ff00"/><rect x="824" y="395" width="3" height="10" fill="#00ff00"/><rect x="829" y="391" width="1" height="24" fill="#00ff00"/><rect x="828" y="403" width="3" height="11" fill="#00ff00"/><rect x="833" y="408" width="1" height="14" fill="#ff0000"/><rect x="832" y="408" width="3" height="5" fill="#ff0000"/><rect x="837" y="398" width="1" height="17" fill="#ff0000"/><rect x="836" y="408" width="3" height="3" fill="#ff0000"/><rect x="841" y="404" width="1" height="12" fill="#ff0000"/><rect x="840" y="405" width="3" height="4" fill="#ff0000"/><rect x="845" y="402" width="1" height="5" fill="#00ff00"/><rect x="844" y="403" width="3" height="4" fill="#00ff00"/><rect x="849" y="388" width="1" height="19" fill="#ff0000"/><rect x="848" y="389" width="3" height="14" fill="#ff0000"/><rect x="853" y="388" width="1" height="17" fill="#00ff00"/><rect x="852" y="389" width="3" height="13" fill="#00ff00"/><rect x="857" y="361" width="1" height="46" fill="#ff0000"/><rect x="856" y="364" width="3" height="39" fill="#ff0000"/><rect x="861" y="348" width="1" height="27" fill="#ff0000"/><rect x="860" y="354" width="3" height="12" fill="#ff0000"/><rect x="865" y="353" width="1" height="22" fill="#00ff00"/><rect x="864" y="354" width="3" height="9" fill="#00ff00"/><rect x="869" y="358" width="1" height="12" fill="#00ff00"/><rect x="868" y="359" width="3" height="6" fill="#00ff00"/><rect x="873" y="353" width="1" height="29" fill="#00ff00"/><rect x="872" y="368" width="3" height="7" fill="#00ff00"/><rect x="877" y="374" width="1" height="42" fill="#00ff00"/><rect x="876" y="375" width="3" height="40" fill="#00ff00"/><rect x="881" y="369" width="1" height="50" fill="#ff0000"/><rect x="880" y="408" width="3" height="7" fill="#ff0000"/><rect x="885" y="401" width="1" height="33" fill="#00ff00"/><rect x="884" y="408" width="3" height="26" fill="#00ff00"/><rect x="889" y="417" width="1" height="18" fill="#ff0000"/><rect x="888" y="432" width="3" height="3" fill="#ff0000"/><rect x="893" y="429" width="1" height="8" fill="#00ff00"/><rect x="892" y="431" width="3" height="4" fill="#00ff00"/><rect x="897" y="430" width="1" height="28" fill="#00ff00"/><rect x="896" y="430" width="3" height="19" fill="#00ff00"/><rect x="901" y="428" width="1" height="23" fill="#ff0000"/><rect x="900" y="436" width="3" height="13" fill="#ff0000"/><rect x="905" y="421" width="1" height="24" fill="#ff0000"/><rect x="904" y="423" width="3" height="12" fill="#ff0000"/><rect x="909" y="404" width="1" height="26" fill="#ff0000"/><rect x="908" y="412" width="3" height="13" fill="#ff0000"/><rect x="913" y="399" width="1" height="18" fill="#ff0000"/><rect x="912" y="400" width="3" height="14" fill="#ff0000"/><rect x="917" y="399" width="1" height="11" fill="#00ff00"/><rect x="916" y="400" width="3" height="9" fill="#00ff00"/><rect x="921" y="407" width="1" height="19" fill="#00ff00"/><rect x="920" y="408" width="3" height="16" fill="#00ff00"/><rect x="925" y="413" width="1" height="13" fill="#ff0000"/><rect x="924" y="417" width="3" height="7" fill="#ff0000"/><rect x="929" y="412" width="1" height="15" fill="#00ff00"/><rect x="928" y="416" width="3" height="8" fill="#00ff00"/><rect x="933" y="410" width="1" height="23" fill="#ff0000"/><rect x="932" y="419" width="3" height="7" fill="#ff0000"/><rect x="937" y="417" width="1" height="14" fill="#00ff00"/><rect x="936" y="419" width="3" height="5" fill="#00ff00"/><rect x="941" y="417" width="1" height="11" fill="#ff0000"/><rect x="940" y="417" width="3" height="7" fill="#ff0000"/><rect x="945" y="414" width="1" height="15" fill="#ff0000"/><rect x="944" y="417" width="3" height="3" fill="#ff0000"/><rect x="949" y="413" width="1" height="26" fill="#00ff00"/><rect x="948" y="417" width="3" height="16" fill="#00ff00"/><rect x="953" y="430" width="1" height="13" fill="#00ff00"/><rect x="952" y="431" width="3" height="8" fill="#00ff00"/><rect x="957" y="434" width="1" height="10" fill="#ff0000"/><rect x="956" y="435" width="3" height="4" fill="#ff0000"/><rect x="961" y="434" width="1" height="14" fill="#00ff00"/><rect x="960" y="434" width="3" height="12" fill="#00ff00"/><rect x="965" y="441" width="1" height="6" fill="#ff0000"/><rect x="964" y="442" width="3" height="4" fill="#ff0000"/><rect x="969" y="441" width="1" height="18" fill="#00ff00"/><rect x="968" y="442" width="3" height="9" fill="#00ff00"/><rect x="973" y="437" width="1" height="18" fill="#ff0000"/><rect x="972" y="448" width="3" height="3" fill="#ff0000"/><rect x="977" y="448" width="1" height="12" fill="#00ff00"/><rect x="976" y="448" width="3" height="7" fill="#00ff00"/><rect x="981" y="452" width="1" height="20" fill="#00ff00"/><rect x="980" y="453" width="3" height="19" fill="#00ff00"/><rect x="985" y="466" width="1" height="24" fill="#00ff00"/><rect x="984" y="468" width="3" height="19" fill="#00ff00"/><rect x="989" y="484" width="1" height="9" fill="#00ff00"/><rect x="988" y="484" width="3" height="8" fill="#00ff00"/><rect x="993" y="478" width="1" height="17" fill="#ff0000"/><rect x="992" y="483" width="3" height="9" fill="#ff0000"/><rect x="997" y="483" width="1" height="12" fill="#00ff00"/><rect x="996" y="484" width="3" height="6" fill="#00ff00"/><rect x="1001" y="480" width="1" height="15" fill="#ff0000"/><rect x="1000" y="486" width="3" height="4" fill="#ff0000"/><rect x="1005" y="478" width="1" height="31" fill="#00ff00"/><rect x="1004" y="486" width="3" height="21" fill="#00ff00"/><rect x="1009" y="488" width="1" height="21" fill="#ff0000"/><rect x="1008" y="492" width="3" height="16" fill="#ff0000"/><rect x="1013" y="491" width="1" height="7" fill="#00ff00"/><rect x="1012" y="492" width="3" height="5" fill="#00ff00"/><rect x="1017" y="492" width="1" height="15" fill="#ff0000"/><rect x="1016" y="492" width="3" height="8" fill="#ff0000"/><rect x="1021" y="488" width="1" height="16" fill="#00ff00"/><rect x="1020" y="492" width="3" height="11" fill="#00ff00"/><rect x="1025" y="494" width="1" height="20" fill="#ff0000"/><rect x="1024" y="495" width="3" height="8" fill="#ff0000"/><rect x="1029" y="489" width="1" height="25" fill="#00ff00"/><rect x="1028" y="495" width="3" height="11" fill="#00ff00"/><rect x="1033" y="490" width="1" height="18" fill="#ff0000"/><rect x="1032" y="492" width="3" height="15" fill="#ff0000"/><rect x="1037" y="486" width="1" height="8" fill="#ff0000"/><rect x="1036" y="489" width="3" height="4" fill="#ff0000"/><rect x="1041" y="449" width="1" height="41" fill="#ff0000"/><rect x="1040" y="470" width="3" height="19" fill="#ff0000"/><rect x="1045" y="455" width="1" height="27" fill="#ff0000"/><rect x="1044" y="456" width="3" height="15" fill="#ff0000"/><rect x="1049" y="455" width="1" height="20" fill="#00ff00"/><rect x="1048" y="456" width="3" height="16" fill="#00ff00"/><rect x="1053" y="471" width="1" height="11" fill="#00ff00"/><rect x="1052" y="472" width="3" height="5" fill="#00ff00"/><rect x="1057" y="475" width="1" height="10" fill="#ff0000"/><rect x="1056" y="476" width="3" height="3" fill="#ff0000"/><rect x="1061" y="468" width="1" height="17" fill="#ff0000"/><rect x="1060" y="471" width="3" height="4" fill="#ff0000"/><rect x="1065" y="468" width="1" height="24" fill="#00ff00"/><rect x="1064" y="472" width="3" height="13" fill="#00ff00"/><rect x="1069" y="483" width="1" height="15" fill="#00ff00"/><rect x="1068" y="484" width="3" height="14" fill="#00ff00"/><rect x="1073" y="493" width="1" height="14" fill="#00ff00"/><rect x="1072" y="495" width="3" height="8" fill="#00ff00"/><rect x="1077" y="493" width="1" height="14" fill="#00ff00"/><rect x="1076" y="501" width="3" height="6" fill="#00ff00"/><rect x="1081" y="499" width="1" height="20" fill="#ff0000"/><rect x="1080" y="501" width="3" height="2" fill="#ff0000"/><rect x="1085" y="485" width="1" height="18" fill="#ff0000"/><rect x="1084" y="500" width="3" height="3" fill="#ff0000"/><rect x="1089" y="499" width="1" height="28" fill="#00ff00"/><rect x="1088" y="500" width="3" height="12" fill="#00ff00"/><rect x="1093" y="502" width="1" height="17" fill="#ff0000"/><rect x="1092" y="505" width="3" height="7" fill="#ff0000"/><rect x="1097" y="502" width="1" height="19" fill="#00ff00"/><rect x="1096" y="506" width="3" height="8" fill="#00ff00"/><rect x="1101" y="499" width="1" height="15" fill="#ff0000"/><rect x="1100" y="506" width="3" height="8" fill="#ff0000"/><rect x="1105" y="478" width="1" height="36" fill="#ff0000"/><rect x="1104" y="485" width="3" height="28" fill="#ff0000"/><rect x="1109" y="485" width="1" height="15" fill="#00ff00"/><rect x="1108" y="486" width="3" height="10" fill="#00ff00"/><rect x="1113" y="492" width="1" height="17" fill="#00ff00"/><rect x="1112" y="493" width="3" height="14" fill="#00ff00"/><rect x="1117" y="503" width="1" height="21" fill="#00ff00"/><rect x="1116" y="504" width="3" height="19" fill="#00ff00"/><rect x="1121" y="495" width="1" height="32" fill="#ff0000"/><rect x="1120" y="496" width="3" height="26" fill="#ff0000"/><rect x="1125" y="495" width="1" height="16" fill="#00ff00"/><rect x="1124" y="496" width="3" height="9" fill="#00ff00"/><rect x="1129" y="486" width="1" height="19" fill="#ff0000"/><rect x="1128" y="495" width="3" height="9" fill="#ff0000"/><rect x="1133" y="494" width="1" height="13" fill="#00ff00"/><rect x="1132" y="495" width="3" height="8" fill="#00ff00"/><rect x="1137" y="499" width="1" height="33" fill="#00ff00"/><rect x="1136" y="502" width="3" height="25" fill="#00ff00"/><rect x="1141" y="520" width="1" height="17" fill="#00ff00"/><rect x="1140" y="527" width="3" height="3" fill="#00ff00"/><rect x="1145" y="504" width="1" height="26" fill="#ff0000"/><rect x="1144" y="506" width="3" height="24" fill="#ff0000"/><rect x="1149" y="500" width="1" height="13" fill="#ff0000"/><rect x="1148" y="503" width="3" height="4" fill="#ff0000"/><rect x="1153" y="497" width="1" height="16" fill="#ff0000"/><rect x="1152" y="498" width="3" height="8" fill="#ff0000"/><rect x="1157" y="490" width="1" height="20" fill="#00ff00"/><rect x="1156" y="497" width="3" height="10" fill="#00ff00"/><rect x="1161" y="481" width="1" height="34" fill="#ff0000"/><rect x="1160" y="492" width="3" height="18" fill="#ff0000"/><rect x="1165" y="467" width="1" height="30" fill="#ff0000"/><rect x="1164" y="484" width="3" height="10" fill="#ff0000"/><rect x="1169" y="468" width="1" height="34" fill="#00ff00"/><rect x="1168" y="484" width="3" height="11" fill="#00ff00"/><rect x="1173" y="481" width="1" height="14" fill="#ff0000"/><rect x="1172" y="485" width="3" height="9" fill="#ff0000"/><rect x="1177" y="477" width="1" height="19" fill="#ff0000"/><rect x="1176" y="478" width="3" height="13" fill="#ff0000"/><rect x="1181" y="472" width="1" height="19" fill="#00ff00"/><rect x="1180" y="478" width="3" height="3" fill="#00ff00"/><rect x="1185" y="477" width="1" height="18" fill="#00ff00"/><rect x="1184" y="478" width="3" height="13" fill="#00ff00"/><rect x="1189" y="476" width="1" height="19" fill="#ff0000"/><rect x="1188" y="476" width="3" height="15" fill="#ff0000"/><rect x="1193" y="475" width="1" height="19" fill="#00ff00"/><rect x="1192" y="477" width="3" height="16" fill="#00ff00"/><rect x="1197" y="491" width="1" height="4" fill="#00ff00"/><rect x="1196" y="492" width="3" height="3" fill="#00ff00"/><rect x="1201" y="492" width="1" height="8" fill="#00ff00"/><rect x="1200" y="494" width="3" height="4" fill="#00ff00"/><rect x="1205" y="495" width="1" height="12" fill="#00ff00"/><rect x="1204" y="497" width="3" height="9" fill="#00ff00"/><rect x="1209" y="504" width="1" height="15" fill="#00ff00"/><rect x="1208" y="504" width="3" height="11" fill="#00ff00"/><rect x="1213" y="507" width="1" height="13" fill="#ff0000"/><rect x="1212" y="512" width="3" height="3" fill="#ff0000"/><rect x="1217" y="493" width="1" height="22" fill="#ff0000"/><rect x="1216" y="508" width="3" height="7" fill="#ff0000"/><rect x="1221" y="506" width="1" height="11" fill="#00ff00"/><rect x="1220" y="508" width="3" height="4" fill="#00ff00"/><rect x="1225" y="511" width="1" height="14" fill="#00ff00"/><rect x="1224" y="512" width="3" height="12" fill="#00ff00"/><rect x="1229" y="510" width="1" height="22" fill="#ff0000"/><rect x="1228" y="513" width="3" height="12" fill="#ff0000"/><rect x="1233" y="498" width="1" height="18" fill="#ff0000"/><rect x="1232" y="502" width="3" height="14" fill="#ff0000"/><rect x="1237" y="501" width="1" height="18" fill="#00ff00"/><rect x="1236" y="502" width="3" height="7" fill="#00ff00"/><rect x="1241" y="504" width="1" height="29" fill="#00ff00"/><rect x="1240" y="504" width="3" height="29" fill="#00ff00"/><rect x="1245" y="528" width="1" height="8" fill="#ff0000"/><rect x="1244" y="528" width="3" height="4" fill="#ff0000"/><rect x="1249" y="520" width="1" height="19" fill="#ff0000"/><rect x="1248" y="529" width="3" height="2" fill="#ff0000"/><rect x="1253" y="527" width="1" height="9" fill="#00ff00"/><rect x="1252" y="530" width="3" height="2" fill="#00ff00"/></g><g clip-path="url(#cm)"><path d="M1 386h1v1h-1zM2 386h1v1h-1zM3 385h1v1h-1zM4 385h1v1h-1zM5 385h1v1h-1zM6 385h1v1h-1zM7 385h1v1h-1zM8 385h1v1h-1zM9 385h1v1h-1zM10 385h1v1h-1zM11 384h1v1h-1zM12 384h1v1h-1zM13 384h1v1h-1zM14 384h1v1h-1zM15 383h1v1h-1zM16 383h1v1h-1zM17 383h1v1h-1zM18 383h1v1h-1zM19 382h1v1h-1zM20 382h1v1h-1zM21 382h1v1h-1zM22 381h1v1h-1zM23 381h1v1h-1zM24 380h1v1h-1zM25 380h1v1h-1zM26 380h1v1h-1zM27 379h1v1h-1zM28 379h1v1h-1zM29 379h1v1h-1zM30 378h1v1h-1zM31 378h1v1h-1zM32 377h1v1h-1zM33 377h1v1h-1zM34 377h1v1h-1zM35 376h1v1h-1zM36 376h1v1h-1zM37 376h1v1h-1zM38 376h1v1h-1zM39 375h1v1h-1zM40 375h1v1h-1zM41 375h1v1h-1zM42 374h1v1h-1zM43 374h1v1h-1zM44 373h1v1h-1zM45 373h1v1h-1zM46 372h1v1h-1zM47 372h1v1h-1zM48 371h1v1h-1zM49 371h1v1h-1zM50 371h1v1h-1zM51 370h1v1h-1zM52 370h1v1h-1zM53 370h1v1h-1zM54 369h1v1h-1zM55 368h1v1h-1zM56 368h1v1h-1zM57 367h1v1h-1zM58 366h1v1h-1zM59 364h1v2h-1zM60 363h1v1h-1zM61 362h1v1h-1zM62 361h1v1h-1zM63 360h1v1h-1zM64 359h1v1h-1zM65 358h1v1h-1zM66 357h1v1h-1zM67 355h1v2h-1zM68 354h1v1h-1zM69 353h1v1h-1zM70 352h1v1h-1zM71 350h1v2h-1zM72 349h1v1h-1zM73 348h1v1h-1zM74 347h1v1h-1zM75 345h1v2h-1zM76 344h1v1h-1zM77 343h1v1h-1zM78 341h1v2h-1zM79 340h1v1h-1zM80 338h1v2h-1zM81 337h1v1h-1zM82 335h1v2h-1zM83 333h1v2h-1zM84 331h1v2h-1zM85 329h1v2h-1zM86 327h1v2h-1zM87 325h1v2h-1zM88 323h1v2h-1zM89 320h1v3h-1zM90 318h1v2h-1zM91 315h1v3h-1zM92 313h1v2h-1zM93 311h1v2h-1zM94 309h1v2h-1zM95 307h1v2h-1zM96 305h1v2h-1zM97 302h1v3h-1zM98 300h1v2h-1zM99 298h1v2h-1zM100 296h1v2h-1zM101 293h1v3h-1zM102 291h1v2h-1zM103 288h1v3h-1zM104 286h1v2h-1zM105 283h1v3h-1zM106 281h1v2h-1zM107 278h1v3h-1zM108 276h1v2h-1zM109 274h1v2h-1zM110 272h1v2h-1zM111 270h1v2h-1zM112 268h1v2h-1zM113 266h1v2h-1zM114 264h1v2h-1zM115 263h1v1h-1zM116 261h1v2h-1zM117 260h1v1h-1zM118 258h1v2h-1zM119 256h1v2h-1zM120 254h1v2h-1zM121 253h1v1h-1zM122 251h1v2h-1zM123 250h1v1h-1zM124 248h1v2h-1zM125 247h1v1h-1zM126 245h1v2h-1zM127 243h1v2h-1zM128 241h1v2h-1zM129 240h1v1h-1zM130 238h1v2h-1zM131 237h1v1h-1zM132 235h1v2h-1zM133 234h1v1h-1zM134 232h1v2h-1zM135 230h1v2h-1zM136 228h1v2h-1zM137 227h1v1h-1zM138 225h1v2h-1zM139 224h1v1h-1zM140 222h1v2h-1zM141 221h1v1h-1zM142 219h1v2h-1zM143 218h1v1h-1zM144 216h1v2h-1zM145 215h1v1h-1zM146 213h1v2h-1zM147 212h1v1h-1zM148 210h1v2h-1zM149 209h1v1h-1zM150 207h1v2h-1zM151 206h1v1h-1zM152 204h1v2h-1zM153 203h1v1h-1zM154 202h1v1h-1zM155 201h1v1h-1zM156 200h1v1h-1zM157 199h1v1h-1zM158 198h1v1h-1zM159 196h1v2h-1zM160 195h1v1h-1zM161 194h1v1h-1zM162 193h1v1h-1zM163 191h1v2h-1zM164 190h1v1h-1zM165 189h1v1h-1zM166 188h1v1h-1zM167 187h1v1h-1zM168 186h1v1h-1zM169 185h1v1h-1zM170 184h1v1h-1zM171 183h1v1h-1zM172 182h1v1h-1zM173 181h1v1h-1zM174 180h1v1h-1zM175 179h1v1h-1zM176 178h1v1h-1zM177 177h1v1h-1zM178 177h1v1h-1zM179 176h1v1h-1zM180 176h1v1h-1zM181 176h1v1h-1zM182 175h1v1h-1zM183 175h1v1h-1zM184 174h1v1h-1zM185 174h1v1h-1zM186 173h1v1h-1zM187 172h1v1h-1zM188 172h1v1h-1zM189 171h1v1h-1zM190 171h1v1h-1zM191 171h1v1h-1zM192 171h1v1h-1zM193 171h1v1h-1zM194 171h1v1h-1zM195 170h1v1h-1zM196 170h1v1h-1zM197 170h1v1h-1zM198 170h1v1h-1zM199 170h1v1h-1zM200 170h1v1h-1zM201 170h1v1h-1zM202 170h1v1h-1zM203 170h1v1h-1zM204 170h1v1h-1zM205 170h1v1h-1zM206 171h1v1h-1zM207 172h1v1h-1zM208 172h1v1h-1zM209 173h1v1h-1zM210 174h1v1h-1zM211 175h1v1h-1zM212 175h1v1h-1zM213 176h1v1h-1zM214 177h1v1h-1zM215 177h1v1h-1zM216 178h1v1h-1zM217 178h1v1h-1zM218 179h1v1h-1zM219 180h1v1h-1zM220 180h1v1h-1zM221 181h1v1h-1zM222 182h1v1h-1zM223 183h1v1h-1zM224 184h1v1h-1zM225 185h1v1h-1zM226 186h1v1h-1zM227 187h1v1h-1zM228 187h1v1h-1zM229 188h1v1h-1zM230 189h1v1h-1zM231 190h1v1h-1zM232 191h1v1h-1zM233 192h1v1h-1zM234 192h1v1h-1zM235 193h1v1h-1zM236 193h1v1h-1zM237 193h1v1h-1zM238 193h1v1h-1zM239 192h1v1h-1zM240 192h1v1h-1zM241 192h1v1h-1zM242 192h1v1h-1zM243 191h1v1h-1zM244 191h1v1h-1zM245 191h1v1h-1zM246 191h1v1h-1zM247 192h1v1h-1zM248 192h1v1h-1zM249 192h1v1h-1zM250 192h1v1h-1zM251 193h1v1h-1zM252 193h1v1h-1zM253 193h1v1h-1zM254 193h1v1h-1zM255 193h1v1h-1zM256 193h1v1h-1zM257 193h1v1h-1zM258 194h1v1h-1zM259 194h1v1h-1zM260 195h1v1h-1zM261 195h1v1h-1zM262 195h1v1h-1zM263 196h1v1h-1zM264 196h1v1h-1zM265 196h1v1h-1zM266 197h1v1h-1zM267 197h1v1h-1zM268 198h1v1h-1zM269 198h1v1h-1zM270 198h1v1h-1zM271 199h1v1h-1zM272 199h1v1h-1zM273 199h1v1h-1zM274 199h1v1h-1zM275 199h1v1h-1zM276 199h1v1h-1zM277 199h1v1h-1zM278 199h1v1h-1zM279 198h1v1h-1zM280 198h1v1h-1zM281 198h1v1h-1zM282 198h1v1h-1zM283 197h1v1h-1zM284 197h1v1h-1zM285 197h1v1h-1zM286 197h1v1h-1zM287 196h1v1h-1zM288 196h1v1h-1zM289 196h1v1h-1zM290 196h1v1h-1zM291 195h1v1h-1zM292 195h1v1h-1zM293 195h1v1h-1zM294 195h1v1h-1zM295 195h1v1h-1zM296 195h1v1h-1zM297 195h1v1h-1zM298 195h1v1h-1zM299 195h1v1h-1zM300 195h1v1h-1zM301 195h1v1h-1zM302 195h1v1h-1zM303 196h1v1h-1zM304 196h1v1h-1zM305 196h1v1h-1zM306 197h1v1h-1zM307 197h1v1h-1zM308 198h1v1h-1zM309 198h1v1h-1zM310 198h1v1h-1zM311 198h1v1h-1zM312 198h1v1h-1zM313 198h1v1h-1zM314 198h1v1h-1zM315 198h1v1h-1zM316 198h1v1h-1zM317 198h1v1h-1zM318 198h1v1h-1zM319 199h1v1h-1zM320 199h1v1h-1zM321 199h1v1h-1zM322 200h1v1h-1zM323 201h1v1h-1zM324 201h1v1h-1zM325 202h1v1h-1zM326 203h1v1h-1zM327 204h1v1h-1zM328 204h1v1h-1zM329 205h1v1h-1zM330 206h1v1h-1zM331 206h1v1h-1zM332 207h1v1h-1zM333 207h1v1h-1zM334 208h1v1h-1zM335 208h1v1h-1zM336 209h1v1h-1zM337 209h1v1h-1zM338 210h1v1h-1zM339 211h1v1h-1zM340 211h1v1h-1zM341 212h1v1h-1zM342 213h1v1h-1zM343 214h1v1h-1zM344 214h1v1h-1zM345 215h1v1h-1zM346 216h1v1h-1zM347 217h1v1h-1zM348 218h1v1h-1zM349 219h1v1h-1zM350 220h1v1h-1zM351 221h1v1h-1zM352 221h1v1h-1zM353 222h1v1h-1zM354 223h1v1h-1zM355 224h1v1h-1zM356 224h1v1h-1zM357 225h1v1h-1zM358 226h1v2h-1zM359 228h1v1h-1zM360 229h1v2h-1zM361 231h1v1h-1zM362 232h1v1h-1zM363 233h1v2h-1zM364 235h1v1h-1zM365 236h1v1h-1zM366 237h1v1h-1zM367 238h1v2h-1zM368 240h1v1h-1zM369 241h1v1h-1zM370 242h1v1h-1zM371 243h1v2h-1zM372 245h1v1h-1zM373 246h1v1h-1zM374 247h1v2h-1zM375 249h1v1h-1zM376 250h1v2h-1zM377 252h1v1h-1zM378 253h1v1h-1zM379 254h1v1h-1zM380 254h1v1h-1zM381 255h1v1h-1zM382 256h1v1h-1zM383 256h1v1h-1zM384 257h1v1h-1zM385 257h1v1h-1zM386 258h1v1h-1zM387 259h1v1h-1zM388 259h1v1h-1zM389 260h1v1h-1zM390 261h1v1h-1zM391 262h1v1h-1zM392 262h1v1h-1zM393 263h1v1h-1zM394 264h1v1h-1zM395 265h1v1h-1zM396 266h1v1h-1zM397 267h1v1h-1zM398 268h1v1h-1zM399 269h1v1h-1zM400 270h1v1h-1zM401 271h1v1h-1zM402 272h1v1h-1zM403 273h1v1h-1zM404 273h1v1h-1zM405 274h1v1h-1zM406 275h1v1h-1zM407 276h1v1h-1zM408 277h1v1h-1zM409 278h1v1h-1zM410 279h1v1h-1zM411 280h1v1h-1zM412 281h1v1h-1zM413 282h1v1h-1zM414 283h1v1h-1zM415 284h1v1h-1zM416 284h1v1h-1zM417 285h1v1h-1zM418 286h1v1h-1zM419 287h1v1h-1zM420 287h1v1h-1zM421 288h1v1h-1zM422 289h1v1h-1zM423 290h1v1h-1zM424 290h1v1h-1zM425 291h1v1h-1zM426 292h1v1h-1zM427 292h1v1h-1zM428 293h1v1h-1zM429 293h1v1h-1zM430 294h1v1h-1zM431 295h1v1h-1zM432 295h1v1h-1zM433 296h1v1h-1zM434 297h1v1h-1zM435 297h1v1h-1zM436 298h1v1h-1zM437 298h1v1h-1zM438 299h1v1h-1zM439 299h1v1h-1zM440 300h1v1h-1zM441 300h1v1h-1zM442 301h1v1h-1zM443 301h1v1h-1zM444 302h1v1h-1zM445 302h1v1h-1zM446 303h1v1h-1zM447 303h1v1h-1zM448 304h1v1h-1zM449 304h1v1h-1zM450 304h1v1h-1zM451 305h1v1h-1zM452 305h1v1h-1zM453 305h1v1h-1zM454 306h1v1h-1zM455 306h1v1h-1zM456 307h1v1h-1zM457 307h1v1h-1zM458 307h1v1h-1zM459 308h1v1h-1zM460 308h1v1h-1zM461 308h1v1h-1zM462 308h1v1h-1zM463 309h1v1h-1zM464 309h1v1h-1zM465 309h1v1h-1zM466 309h1v1h-1zM467 308h1v1h-1zM468 308h1v1h-1zM469 308h1v1h-1zM470 308h1v1h-1zM471 308h1v1h-1zM472 308h1v1h-1zM473 308h1v1h-1zM474 308h1v1h-1zM475 307h1v1h-1zM476 307h1v1h-1zM477 307h1v1h-1zM478 307h1v1h-1zM479 306h1v1h-1zM480 306h1v1h-1zM481 306h1v1h-1zM482 306h1v1h-1zM483 305h1v1h-1zM484 305h1v1h-1zM485 305h1v1h-1zM486 305h1v1h-1zM487 304h1v1h-1zM488 304h1v1h-1zM489 304h1v1h-1zM490 303h1v1h-1zM491 303h1v1h-1zM492 302h1v1h-1zM493 302h1v1h-1zM494 302h1v1h-1zM495 301h1v1h-1zM496 301h1v1h-1zM497 301h1v1h-1zM498 301h1v1h-1zM499 301h1v1h-1zM500 301h1v1h-1zM501 301h1v1h-1zM502 301h1v1h-1zM503 301h1v1h-1zM504 301h1v1h-1zM505 301h1v1h-1zM506 301h1v1h-1zM507 302h1v1h-1zM508 302h1v1h-1zM509 302h1v1h-1zM510 302h1v1h-1zM511 302h1v1h-1zM512 302h1v1h-1zM513 302h1v1h-1zM514 302h1v1h-1zM515 303h1v1h-1zM516 303h1v1h-1zM517 303h1v1h-1zM518 304h1v1h-1zM519 304h1v1h-1zM520 305h1v1h-1zM521 305h1v1h-1zM522 305h1v1h-1zM523 306h1v1h-1zM524 306h1v1h-1zM525 306h1v1h-1zM526 307h1v1h-1zM527 307h1v1h-1zM528 308h1v1h-1zM529 308h1v1h-1zM530 308h1v1h-1zM531 309h1v1h-1zM532 309h1v1h-1zM533 309h1v1h-1zM534 309h1v1h-1zM535 310h1v1h-1zM536 310h1v1h-1zM537 310h1v1h-1zM538 311h1v1h-1zM539 311h1v1h-1zM540 312h1v1h-1zM541 312h1v1h-1zM542 312h1v1h-1zM543 313h1v1h-1zM544 313h1v1h-1zM545 313h1v1h-1zM546 314h1v1h-1zM547 314h1v1h-1zM548 315h1v1h-1zM549 315h1v1h-1zM550 316h1v1h-1zM551 316h1v1h-1zM552 317h1v1h-1zM553 317h1v1h-1zM554 318h1v1h-1zM555 319h1v1h-1zM556 319h1v1h-1zM557 320h1v1h-1zM558 321h1v1h-1zM559 321h1v1h-1zM560 322h1v1h-1zM561 322h1v1h-1zM562 323h1v1h-1zM563 323h1v1h-1zM564 324h1v1h-1zM565 324h1v1h-1zM566 325h1v1h-1zM567 325h1v1h-1zM568 326h1v1h-1zM569 326h1v1h-1zM570 327h1v1h-1zM571 328h1v1h-1zM572 328h1v1h-1zM573 329h1v1h-1zM574 329h1v1h-1zM575 330h1v1h-1zM576 330h1v1h-1zM577 330h1v1h-1zM578 330h1v1h-1zM579 331h1v1h-1zM580 331h1v1h-1zM581 331h1v1h-1zM582 332h1v1h-1zM583 332h1v1h-1zM584 333h1v1h-1zM585 333h1v1h-1zM586 334h1v1h-1zM587 334h1v1h-1zM588 335h1v1h-1zM589 335h1v1h-1zM590 336h1v1h-1zM591 336h1v1h-1zM592 337h1v1h-1zM593 337h1v1h-1zM594 338h1v1h-1zM595 339h1v1h-1zM596 339h1v1h-1zM597 340h1v1h-1zM598 341h1v1h-1zM599 342h1v1h-1zM600 342h1v1h-1zM601 343h1v1h-1zM602 344h1v1h-1zM603 344h1v1h-1zM604 345h1v1h-1zM605 345h1v1h-1zM606 346h1v1h-1zM607 347h1v1h-1zM608 347h1v1h-1zM609 348h1v1h-1zM610 349h1v1h-1zM611 350h1v1h-1zM612 351h1v1h-1zM613 352h1v1h-1zM614 353h1v1h-1zM615 353h1v1h-1zM616 354h1v1h-1zM617 354h1v1h-1zM618 355h1v1h-1zM619 356h1v1h-1zM620 356h1v1h-1zM621 357h1v1h-1zM622 358h1v1h-1zM623 359h1v1h-1zM624 359h1v1h-1zM625 360h1v1h-1zM626 361h1v1h-1zM627 362h1v1h-1zM628 362h1v1h-1zM629 363h1v1h-1zM630 364h1v1h-1zM631 365h1v1h-1zM632 365h1v1h-1zM633 366h1v1h-1zM634 367h1v1h-1zM635 367h1v1h-1zM636 368h1v1h-1zM637 368h1v1h-1zM638 369h1v1h-1zM639 369h1v1h-1zM640 370h1v1h-1zM641 370h1v1h-1zM642 371h1v1h-1zM643 371h1v1h-1zM644 372h1v1h-1zM645 372h1v1h-1zM646 373h1v1h-1zM647 373h1v1h-1zM648 374h1v1h-1zM649 374h1v1h-1zM650 375h1v1h-1zM651 376h1v1h-1zM652 376h1v1h-1zM653 377h1v1h-1zM654 378h1v1h-1zM655 378h1v1h-1zM656 379h1v1h-1zM657 379h1v1h-1zM658 380h1v1h-1zM659 381h1v1h-1zM660 381h1v1h-1zM661 382h1v1h-1zM662 383h1v1h-1zM663 383h1v1h-1zM664 384h1v1h-1zM665 384h1v1h-1zM666 385h1v1h-1zM667 386h1v1h-1zM668 386h1v1h-1zM669 387h1v1h-1zM670 388h1v1h-1zM671 388h1v1h-1zM672 389h1v1h-1zM673 389h1v1h-1zM674 390h1v1h-1zM675 391h1v1h-1zM676 391h1v1h-1zM677 392h1v1h-1zM678 393h1v1h-1zM679 393h1v1h-1zM680 394h1v1h-1zM681 394h1v1h-1zM682 395h1v1h-1zM683 395h1v1h-1zM684 396h1v1h-1zM685 396h1v1h-1zM686 396h1v1h-1zM687 396h1v1h-1zM688 396h1v1h-1zM689 396h1v1h-1zM690 396h1v1h-1zM691 397h1v1h-1zM692 397h1v1h-1zM693 397h1v1h-1zM694 398h1v1h-1zM695 398h1v1h-1zM696 399h1v1h-1zM697 399h1v1h-1zM698 399h1v1h-1zM699 400h1v1h-1zM700 400h1v1h-1zM701 400h1v1h-1zM702 401h1v1h-1zM703 401h1v1h-1zM704 402h1v1h-1zM705 402h1v1h-1zM706 402h1v1h-1zM707 403h1v1h-1zM708 403h1v1h-1zM709 403h1v1h-1zM710 403h1v1h-1zM711 403h1v1h-1zM712 403h1v1h-1zM713 403h1v1h-1zM714 403h1v1h-1zM715 403h1v1h-1zM716 403h1v1h-1zM717 403h1v1h-1zM718 403h1v1h-1zM719 404h1v1h-1zM720 404h1v1h-1zM721 404h1v1h-1zM722 404h1v1h-1zM723 404h1v1h-1zM724 404h1v1h-1zM725 404h1v1h-1zM726 404h1v1h-1zM727 404h1v1h-1zM728 404h1v1h-1zM729 404h1v1h-1zM730 404h1v1h-1zM731 403h1v1h-1zM732 403h1v1h-1zM733 403h1v1h-1zM734 402h1v1h-1zM735 402h1v1h-1zM736 401h1v1h-1zM737 401h1v1h-1zM738 401h1v1h-1zM739 400h1v1h-1zM740 400h1v1h-1zM741 400h1v1h-1zM742 399h1v1h-1zM743 399h1v1h-1zM744 398h1v1h-1zM745 398h1v1h-1zM746 397h1v1h-1zM747 397h1v1h-1zM748 396h1v1h-1zM749 396h1v1h-1zM750 396h1v1h-1zM751 395h1v1h-1zM752 395h1v1h-1zM753 395h1v1h-1zM754 394h1v1h-1zM755 394h1v1h-1zM756 393h1v1h-1zM757 393h1v1h-1zM758 393h1v1h-1zM759 392h1v1h-1zM760 392h1v1h-1zM761 392h1v1h-1zM762 391h1v1h-1zM763 391h1v1h-1zM764 390h1v1h-1zM765 390h1v1h-1zM766 390h1v1h-1zM767 389h1v1h-1zM768 389h1v1h-1zM769 389h1v1h-1zM770 388h1v1h-1zM771 388h1v1h-1zM772 387h1v1h-1zM773 387h1v1h-1zM774 386h1v1h-1zM775 386h1v1h-1zM776 385h1v1h-1zM777 385h1v1h-1zM778 384h1v1h-1zM779 384h1v1h-1zM780 383h1v1h-1zM781 383h1v1h-1zM782 383h1v1h-1zM783 382h1v1h-1zM784 382h1v1h-1zM785 382h1v1h-1zM786 382h1v1h-1zM787 381h1v1h-1zM788 381h1v1h-1zM789 381h1v1h-1zM790 381h1v1h-1zM791 381h1v1h-1zM792 381h1v1h-1zM793 381h1v1h-1zM794 381h1v1h-1zM795 380h1v1h-1zM796 380h1v1h-1zM797 380h1v1h-1zM798 380h1v1h-1zM799 380h1v1h-1zM800 380h1v1h-1zM801 380h1v1h-1zM802 380h1v1h-1zM803 380h1v1h-1zM804 380h1v1h-1zM805 380h1v1h-1zM806 380h1v1h-1zM807 380h1v1h-1zM808 380h1v1h-1zM809 380h1v1h-1zM810 380h1v1h-1zM811 380h1v1h-1zM812 380h1v1h-1zM813 380h1v1h-1zM814 380h1v1h-1zM815 380h1v1h-1zM816 380h1v1h-1zM817 380h1v1h-1zM818 380h1v1h-1zM819 380h1v1h-1zM820 380h1v1h-1zM821 380h1v1h-1zM822 380h1v1h-1zM823 380h1v1h-1zM824 380h1v1h-1zM825 380h1v1h-1zM826 380h1v1h-1zM827 381h1v1h-1zM828 381h1v1h-1zM829 381h1v1h-1zM830 381h1v1h-1zM831 381h1v1h-1zM832 381h1v1h-1zM833 381h1v1h-1zM834 381h1v1h-1zM835 381h1v1h-1zM836 381h1v1h-1zM837 381h1v1h-1zM838 381h1v1h-1zM839 382h1v1h-1zM840 382h1v1h-1zM841 382h1v1h-1zM842 382h1v1h-1zM843 382h1v1h-1zM844 382h1v1h-1zM845 382h1v1h-1zM846 382h1v1h-1zM847 383h1v1h-1zM848 383h1v1h-1zM849 383h1v1h-1zM850 383h1v1h-1zM851 384h1v1h-1zM852 384h1v1h-1zM853 384h1v1h-1zM854 384h1v1h-1zM855 384h1v1h-1zM856 384h1v1h-1zM857 384h1v1h-1zM858 384h1v1h-1zM859 384h1v1h-1zM860 384h1v1h-1zM861 384h1v1h-1zM862 384h1v1h-1zM863 385h1v1h-1zM864 385h1v1h-1zM865 385h1v1h-1zM866 385h1v1h-1zM867 386h1v1h-1zM868 386h1v1h-1zM869 386h1v1h-1zM870 386h1v1h-1zM871 386h1v1h-1zM872 386h1v1h-1zM873 386h1v1h-1zM874 387h1v1h-1zM875 388h1v1h-1zM876 388h1v1h-1zM877 389h1v1h-1zM878 389h1v1h-1zM879 390h1v1h-1zM880 390h1v1h-1zM881 390h1v1h-1zM882 391h1v1h-1zM883 391h1v1h-1zM884 392h1v1h-1zM885 392h1v1h-1zM886 393h1v1h-1zM887 394h1v1h-1zM888 394h1v1h-1zM889 395h1v1h-1zM890 396h1v1h-1zM891 396h1v1h-1zM892 397h1v1h-1zM893 397h1v1h-1zM894 398h1v1h-1zM895 398h1v1h-1zM896 399h1v1h-1zM897 399h1v1h-1zM898 400h1v1h-1zM899 400h1v1h-1zM900 401h1v1h-1zM901 401h1v1h-1zM902 402h1v1h-1zM903 402h1v1h-1zM904 403h1v1h-1zM905 403h1v1h-1zM906 403h1v1h-1zM907 404h1v1h-1zM908 404h1v1h-1zM909 404h1v1h-1zM910 404h1v1h-1zM911 403h1v1h-1zM912 403h1v1h-1zM913 403h1v1h-1zM914 403h1v1h-1zM915 403h1v1h-1zM916 403h1v1h-1zM917 403h1v1h-1zM918 403h1v1h-1zM919 404h1v1h-1zM920 404h1v1h-1zM921 404h1v1h-1zM922 404h1v1h-1zM923 404h1v1h-1zM924 404h1v1h-1zM925 404h1v1h-1zM926 404h1v1h-1zM927 405h1v1h-1zM928 405h1v1h-1zM929 405h1v1h-1zM930 405h1v1h-1zM931 406h1v1h-1zM932 406h1v1h-1zM933 406h1v1h-1zM934 406h1v1h-1zM935 407h1v1h-1zM936 407h1v1h-1zM937 407h1v1h-1zM938 407h1v1h-1zM939 407h1v1h-1zM940 407h1v1h-1zM941 407h1v1h-1zM942 407h1v1h-1zM943 408h1v1h-1zM944 408h1v1h-1zM945 408h1v1h-1zM946 408h1v1h-1zM947 408h1v1h-1zM948 408h1v1h-1zM949 408h1v1h-1zM950 408h1v1h-1zM951 409h1v1h-1zM952 409h1v1h-1zM953 409h1v1h-1zM954 409h1v1h-1zM955 410h1v1h-1zM956 410h1v1h-1zM957 410h1v1h-1zM958 411h1v1h-1zM959 411h1v1h-1zM960 412h1v1h-1zM961 412h1v1h-1zM962 412h1v1h-1zM963 413h1v1h-1zM964 413h1v1h-1zM965 413h1v1h-1zM966 414h1v1h-1zM967 414h1v1h-1zM968 415h1v1h-1zM969 415h1v1h-1zM970 415h1v1h-1zM971 416h1v1h-1zM972 416h1v1h-1zM973 416h1v1h-1zM974 417h1v1h-1zM975 418h1v1h-1zM976 418h1v1h-1zM977 419h1v1h-1zM978 420h1v1h-1zM979 421h1v1h-1zM980 422h1v1h-1zM981 423h1v1h-1zM982 424h1v1h-1zM983 425h1v1h-1zM984 426h1v1h-1zM985 427h1v1h-1zM986 428h1v1h-1zM987 429h1v2h-1zM988 431h1v1h-1zM989 432h1v1h-1zM990 433h1v1h-1zM991 434h1v1h-1zM992 434h1v1h-1zM993 435h1v1h-1zM994 436h1v1h-1zM995 437h1v1h-1zM996 437h1v1h-1zM997 438h1v1h-1zM998 439h1v1h-1zM999 439h1v1h-1zM1000 440h1v1h-1zM1001 440h1v1h-1zM1002 441h1v1h-1zM1003 442h1v1h-1zM1004 442h1v1h-1zM1005 443h1v1h-1zM1006 444h1v1h-1zM1007 444h1v1h-1zM1008 445h1v1h-1zM1009 445h1v1h-1zM1010 446h1v1h-1zM1011 446h1v1h-1zM1012 447h1v1h-1zM1013 447h1v1h-1zM1014 447h1v1h-1zM1015 448h1v1h-1zM1016 448h1v1h-1zM1017 448h1v1h-1zM1018 449h1v1h-1zM1019 450h1v1h-1zM1020 450h1v1h-1zM1021 451h1v1h-1zM1022 452h1v1h-1zM1023 452h1v1h-1zM1024 453h1v1h-1zM1025 453h1v1h-1zM1026 454h1v1h-1zM1027 455h1v1h-1zM1028 455h1v1h-1zM1029 456h1v1h-1zM1030 457h1v1h-1zM1031 458h1v1h-1zM1032 458h1v1h-1zM1033 459h1v1h-1zM1034 460h1v1h-1zM1035 461h1v1h-1zM1036 461h1v1h-1zM1037 462h1v1h-1zM1038 462h1v1h-1zM1039 463h1v1h-1zM1040 463h1v1h-1zM1041 463h1v1h-1zM1042 464h1v1h-1zM1043 464h1v1h-1zM1044 465h1v1h-1zM1045 465h1v1h-1zM1046 465h1v1h-1zM1047 466h1v1h-1zM1048 466h1v1h-1zM1049 466h1v1h-1zM1050 467h1v1h-1zM1051 467h1v1h-1zM1052 468h1v1h-1zM1053 468h1v1h-1zM1054 469h1v1h-1zM1055 469h1v1h-1zM1056 470h1v1h-1zM1057 470h1v1h-1zM1058 471h1v1h-1zM1059 471h1v1h-1zM1060 472h1v1h-1zM1061 472h1v1h-1zM1062 473h1v1h-1zM1063 473h1v1h-1zM1064 474h1v1h-1zM1065 474h1v1h-1zM1066 475h1v1h-1zM1067 475h1v1h-1zM1068 476h1v1h-1zM1069 476h1v1h-1zM1070 477h1v1h-1zM1071 477h1v1h-1zM1072 478h1v1h-1zM1073 478h1v1h-1zM1074 479h1v1h-1zM1075 480h1v1h-1zM1076 480h1v1h-1zM1077 481h1v1h-1zM1078 482h1v1h-1zM1079 482h1v1h-1zM1080 483h1v1h-1zM1081 483h1v1h-1zM1082 483h1v1h-1zM1083 484h1v1h-1zM1084 484h1v1h-1zM1085 484h1v1h-1zM1086 485h1v1h-1zM1087 486h1v1h-1zM1088 486h1v1h-1zM1089 487h1v1h-1zM1090 487h1v1h-1zM1091 488h1v1h-1zM1092 488h1v1h-1zM1093 488h1v1h-1zM1094 489h1v1h-1zM1095 489h1v1h-1zM1096 490h1v1h-1zM1097 490h1v1h-1zM1098 491h1v1h-1zM1099 491h1v1h-1zM1100 492h1v1h-1zM1101 492h1v1h-1zM1102 492h1v1h-1zM1103 492h1v1h-1zM1104 492h1v1h-1zM1105 492h1v1h-1zM1106 492h1v1h-1zM1107 492h1v1h-1zM1108 492h1v1h-1zM1109 492h1v1h-1zM1110 492h1v1h-1zM1111 492h1v1h-1zM1112 492h1v1h-1zM1113 492h1v1h-1zM1114 493h1v1h-1zM1115 493h1v1h-1zM1116 494h1v1h-1zM1117 494h1v1h-1zM1118 494h1v1h-1zM1119 494h1v1h-1zM1120 494h1v1h-1zM1121 494h1v1h-1zM1122 494h1v1h-1zM1123 494h1v1h-1zM1124 494h1v1h-1zM1125 494h1v1h-1zM1126 494h1v1h-1zM1127 494h1v1h-1zM1128 494h1v1h-1zM1129 494h1v1h-1zM1130 494h1v1h-1zM1131 494h1v1h-1zM1132 494h1v1h-1zM1133 494h1v1h-1zM1134 494h1v1h-1zM1135 495h1v1h-1zM1136 495h1v1h-1zM1137 495h1v1h-1zM1138 495h1v1h-1zM1139 496h1v1h-1zM1140 496h1v1h-1zM1141 496h1v1h-1zM1142 496h1v1h-1zM1143 496h1v1h-1zM1144 496h1v1h-1zM1145 496h1v1h-1zM1146 496h1v1h-1zM1147 496h1v1h-1zM1148 496h1v1h-1zM1149 496h1v1h-1zM1150 496h1v1h-1zM1151 497h1v1h-1zM1152 497h1v1h-1zM1153 497h1v1h-1zM1154 497h1v1h-1zM1155 497h1v1h-1zM1156 497h1v1h-1zM1157 497h1v1h-1zM1158 497h1v1h-1zM1159 498h1v1h-1zM1160 498h1v1h-1zM1161 498h1v1h-1zM1162 498h1v1h-1zM1163 499h1v1h-1zM1164 499h1v1h-1zM1165 499h1v1h-1zM1166 499h1v1h-1zM1167 500h1v1h-1zM1168 500h1v1h-1zM1169 500h1v1h-1zM1170 500h1v1h-1zM1171 500h1v1h-1zM1172 500h1v1h-1zM1173 500h1v1h-1zM1174 500h1v1h-1zM1175 500h1v1h-1zM1176 500h1v1h-1zM1177 500h1v1h-1zM1178 500h1v1h-1zM1179 500h1v1h-1zM1180 500h1v1h-1zM1181 500h1v1h-1zM1182 500h1v1h-1zM1183 500h1v1h-1zM1184 500h1v1h-1zM1185 500h1v1h-1zM1186 500h1v1h-1zM1187 500h1v1h-1zM1188 500h1v1h-1zM1189 500h1v1h-1zM1190 500h1v1h-1zM1191 499h1v1h-1zM1192 499h1v1h-1zM1193 499h1v1h-1zM1194 499h1v1h-1zM1195 499h1v1h-1zM1196 499h1v1h-1zM1197 499h1v1h-1zM1198 499h1v1h-1zM1199 499h1v1h-1zM1200 499h1v1h-1zM1201 499h1v1h-1zM1202 499h1v1h-1zM1203 499h1v1h-1zM1204 499h1v1h-1zM1205 499h1v1h-1zM1206 499h1v1h-1zM1207 499h1v1h-1zM1208 499h1v1h-1zM1209 499h1v1h-1zM1210 499h1v1h-1zM1211 499h1v1h-1zM1212 499h1v1h-1zM1213 499h1v1h-1zM1214 499h1v1h-1zM1215 499h1v1h-1zM1216 499h1v1h-1zM1217 499h1v1h-1zM1218 499h1v1h-1zM1219 499h1v1h-1zM1220 499h1v1h-1zM1221 499h1v1h-1zM1222 500h1v1h-1zM1223 500h1v1h-1zM1224 501h1v1h-1zM1225 501h1v1h-1zM1226 501h1v1h-1zM1227 501h1v1h-1zM1228 501h1v1h-1zM1229 501h1v1h-1zM1230 501h1v1h-1zM1231 501h1v1h-1zM1232 501h1v1h-1zM1233 501h1v1h-1zM1234 501h1v1h-1zM1235 501h1v1h-1zM1236 501h1v1h-1zM1237 501h1v1h-1zM1238 501h1v1h-1zM1239 502h1v1h-1zM1240 502h1v1h-1zM1241 502h1v1h-1zM1242 502h1v1h-1zM1243 503h1v1h-1zM1244 503h1v1h-1zM1245 503h1v1h-1zM1246 503h1v1h-1zM1247 504h1v1h-1zM1248 504h1v1h-1zM1249 504h1v1h-1zM1250 504h1v1h-1zM1251 505h1v1h-1zM1252 505h1v1h-1zM1253 505h1v1h-1z" fill="#0000ff" shape-rendering="crispEdges"/><path d="M1 376h1v1h-1zM2 376h1v1h-1zM3 377h1v1h-1zM4 377h1v1h-1zM5 377h1v1h-1zM6 377h1v1h-1zM7 377h1v1h-1zM8 377h1v1h-1zM9 377h1v1h-1zM10 377h1v1h-1zM11 377h1v1h-1zM12 377h1v1h-1zM13 377h1v1h-1zM14 377h1v1h-1zM15 377h1v1h-1zM16 377h1v1h-1zM17 377h1v1h-1zM18 377h1v1h-1zM19 376h1v1h-1zM20 376h1v1h-1zM21 376h1v1h-1zM22 375h1v1h-1zM23 374h1v1h-1zM24 374h1v1h-1zM25 373h1v1h-1zM26 372h1v1h-1zM27 372h1v1h-1zM28 371h1v1h-1zM29 371h1v1h-1zM30 370h1v1h-1zM31 370h1v1h-1zM32 369h1v1h-1zM33 369h1v1h-1zM34 369h1v1h-1zM35 368h1v1h-1zM36 368h1v1h-1zM37 368h1v1h-1zM38 367h1v1h-1zM39 367h1v1h-1zM40 366h1v1h-1zM41 366h1v1h-1zM42 365h1v1h-1zM43 365h1v1h-1zM44 364h1v1h-1zM45 364h1v1h-1zM46 363h1v1h-1zM47 362h1v1h-1zM48 362h1v1h-1zM49 361h1v1h-1zM50 360h1v1h-1zM51 360h1v1h-1zM52 359h1v1h-1zM53 359h1v1h-1zM54 358h1v1h-1zM55 356h1v2h-1zM56 355h1v1h-1zM57 353h1v2h-1zM58 351h1v2h-1zM59 348h1v3h-1zM60 346h1v2h-1zM61 344h1v2h-1zM62 342h1v2h-1zM63 340h1v2h-1zM64 338h1v2h-1zM65 335h1v3h-1zM66 333h1v2h-1zM67 330h1v3h-1zM68 328h1v2h-1zM69 325h1v3h-1zM70 322h1v3h-1zM71 320h1v2h-1zM72 317h1v3h-1zM73 314h1v3h-1zM74 312h1v2h-1zM75 310h1v2h-1zM76 308h1v2h-1zM77 305h1v3h-1zM78 303h1v2h-1zM79 300h1v3h-1zM80 298h1v2h-1zM81 295h1v3h-1zM82 292h1v3h-1zM83 288h1v4h-1zM84 285h1v3h-1zM85 281h1v4h-1zM86 276h1v5h-1zM87 272h1v4h-1zM88 267h1v5h-1zM89 262h1v5h-1zM90 257h1v5h-1zM91 253h1v4h-1zM92 248h1v5h-1zM93 244h1v4h-1zM94 240h1v4h-1zM95 236h1v4h-1zM96 232h1v4h-1zM97 227h1v5h-1zM98 223h1v4h-1zM99 219h1v4h-1zM100 215h1v4h-1zM101 210h1v5h-1zM102 205h1v5h-1zM103 201h1v4h-1zM104 196h1v5h-1zM105 191h1v5h-1zM106 187h1v4h-1zM107 182h1v5h-1zM108 178h1v4h-1zM109 174h1v4h-1zM110 170h1v4h-1zM111 167h1v3h-1zM112 163h1v4h-1zM113 161h1v2h-1zM114 160h1v1h-1zM115 159h1v1h-1zM116 158h1v1h-1zM117 157h1v1h-1zM118 156h1v1h-1zM119 154h1v2h-1zM120 153h1v1h-1zM121 152h1v1h-1zM122 151h1v1h-1zM123 151h1v1h-1zM124 150h1v1h-1zM125 150h1v1h-1zM126 149h1v1h-1zM127 148h1v1h-1zM128 148h1v1h-1zM129 147h1v1h-1zM130 146h1v1h-1zM131 145h1v1h-1zM132 145h1v1h-1zM133 144h1v1h-1zM134 143h1v1h-1zM135 142h1v1h-1zM136 141h1v1h-1zM137 140h1v1h-1zM138 140h1v1h-1zM139 141h1v1h-1zM140 141h1v1h-1zM141 141h1v1h-1zM142 142h1v2h-1zM143 144h1v2h-1zM144 146h1v2h-1zM145 148h1v1h-1zM146 149h1v1h-1zM147 150h1v2h-1zM148 152h1v1h-1zM149 153h1v1h-1zM150 154h1v1h-1zM151 155h1v1h-1zM152 156h1v1h-1zM153 157h1v1h-1zM154 158h1v2h-1zM155 160h1v2h-1zM156 162h1v2h-1zM157 164h1v2h-1zM158 166h1v2h-1zM159 168h1v2h-1zM160 170h1v2h-1zM161 172h1v3h-1zM162 175h1v2h-1zM163 177h1v2h-1zM164 179h1v2h-1zM165 181h1v2h-1zM166 183h1v2h-1zM167 185h1v1h-1zM168 186h1v2h-1zM169 188h1v1h-1zM170 188h1v1h-1zM171 189h1v1h-1zM172 189h1v1h-1zM173 189h1v1h-1zM174 190h1v1h-1zM175 190h1v1h-1zM176 191h1v1h-1zM177 191h1v1h-1zM178 191h1v1h-1zM179 192h1v1h-1zM180 192h1v1h-1zM181 192h1v1h-1zM182 192h1v1h-1zM183 193h1v1h-1zM184 193h1v1h-1zM185 193h1v1h-1zM186 193h1v1h-1zM187 193h1v1h-1zM188 193h1v1h-1zM189 193h1v1h-1zM190 194h1v1h-1zM191 195h1v1h-1zM192 195h1v1h-1zM193 196h1v1h-1zM194 197h1v1h-1zM195 197h1v1h-1zM196 198h1v1h-1zM197 198h1v1h-1zM198 198h1v1h-1zM199 199h1v1h-1zM200 199h1v1h-1zM201 199h1v1h-1zM202 199h1v1h-1zM203 198h1v1h-1zM204 198h1v1h-1zM205 198h1v1h-1zM206 198h1v1h-1zM207 198h1v1h-1zM208 198h1v1h-1zM209 198h1v1h-1zM210 198h1v1h-1zM211 197h1v1h-1zM212 197h1v1h-1zM213 197h1v1h-1zM214 197h1v1h-1zM215 196h1v1h-1zM216 196h1v1h-1zM217 196h1v1h-1zM218 195h1v1h-1zM219 194h1v1h-1zM220 194h1v1h-1zM221 193h1v1h-1zM222 193h1v1h-1zM223 192h1v1h-1zM224 192h1v1h-1zM225 192h1v1h-1zM226 192h1v1h-1zM227 191h1v1h-1zM228 191h1v1h-1zM229 191h1v1h-1zM230 191h1v1h-1zM231 192h1v1h-1zM232 192h1v1h-1zM233 192h1v1h-1zM234 192h1v1h-1zM235 192h1v1h-1zM236 192h1v1h-1zM237 192h1v1h-1zM238 192h1v1h-1zM239 192h1v1h-1zM240 192h1v1h-1zM241 192h1v1h-1zM242 192h1v1h-1zM243 193h1v1h-1zM244 193h1v1h-1zM245 193h1v1h-1zM246 193h1v1h-1zM247 192h1v1h-1zM248 192h1v1h-1zM249 192h1v1h-1zM250 192h1v1h-1zM251 192h1v1h-1zM252 192h1v1h-1zM253 192h1v1h-1zM254 192h1v1h-1zM255 191h1v1h-1zM256 191h1v1h-1zM257 191h1v1h-1zM258 192h1v1h-1zM259 193h1v1h-1zM260 193h1v1h-1zM261 194h1v1h-1zM262 195h1v1h-1zM263 196h1v1h-1zM264 197h1v1h-1zM265 198h1v1h-1zM266 199h1v1h-1zM267 199h1v1h-1zM268 200h1v1h-1zM269 200h1v1h-1zM270 200h1v1h-1zM271 201h1v1h-1zM272 201h1v1h-1zM273 201h1v1h-1zM274 202h1v1h-1zM275 202h1v1h-1zM276 203h1v1h-1zM277 203h1v1h-1zM278 203h1v1h-1zM279 202h1v1h-1zM280 202h1v1h-1zM281 202h1v1h-1zM282 201h1v1h-1zM283 201h1v1h-1zM284 200h1v1h-1zM285 200h1v1h-1zM286 199h1v1h-1zM287 199h1v1h-1zM288 198h1v1h-1zM289 198h1v1h-1zM290 197h1v1h-1zM291 196h1v1h-1zM292 195h1v1h-1zM293 194h1v1h-1zM294 195h1v1h-1zM295 196h1v1h-1zM296 196h1v1h-1zM297 197h1v1h-1zM298 198h1v1h-1zM299 199h1v1h-1zM300 199h1v1h-1zM301 200h1v1h-1zM302 201h1v1h-1zM303 202h1v1h-1zM304 202h1v1h-1zM305 203h1v1h-1zM306 203h1v1h-1zM307 204h1v1h-1zM308 204h1v1h-1zM309 204h1v1h-1zM310 205h1v1h-1zM311 205h1v1h-1zM312 206h1v1h-1zM313 206h1v1h-1zM314 206h1v1h-1zM315 205h1v1h-1zM316 205h1v1h-1zM317 205h1v1h-1zM318 205h1v1h-1zM319 204h1v1h-1zM320 204h1v1h-1zM321 204h1v1h-1zM322 205h1v1h-1zM323 205h1v1h-1zM324 206h1v1h-1zM325 206h1v1h-1zM326 207h1v1h-1zM327 208h1v1h-1zM328 209h1v1h-1zM329 210h1v1h-1zM330 211h1v1h-1zM331 212h1v2h-1zM332 214h1v1h-1zM333 215h1v1h-1zM334 216h1v1h-1zM335 217h1v1h-1zM336 218h1v1h-1zM337 219h1v1h-1zM338 220h1v2h-1zM339 222h1v1h-1zM340 223h1v2h-1zM341 225h1v1h-1zM342 226h1v2h-1zM343 228h1v2h-1zM344 230h1v2h-1zM345 232h1v3h-1zM346 235h1v2h-1zM347 237h1v3h-1zM348 240h1v2h-1zM349 242h1v2h-1zM350 244h1v2h-1zM351 246h1v2h-1zM352 248h1v2h-1zM353 250h1v2h-1zM354 252h1v2h-1zM355 254h1v1h-1zM356 255h1v2h-1zM357 257h1v1h-1zM358 258h1v2h-1zM359 260h1v2h-1zM360 262h1v2h-1zM361 264h1v3h-1zM362 267h1v2h-1zM363 269h1v2h-1zM364 271h1v2h-1zM365 273h1v3h-1zM366 276h1v2h-1zM367 278h1v3h-1zM368 281h1v2h-1zM369 283h1v3h-1zM370 286h1v2h-1zM371 288h1v3h-1zM372 291h1v2h-1zM373 293h1v3h-1zM374 296h1v2h-1zM375 298h1v2h-1zM376 300h1v2h-1zM377 302h1v2h-1zM378 304h1v1h-1zM379 305h1v2h-1zM380 307h1v1h-1zM381 308h1v1h-1zM382 309h1v1h-1zM383 310h1v1h-1zM384 310h1v1h-1zM385 311h1v1h-1zM386 312h1v1h-1zM387 312h1v1h-1zM388 313h1v1h-1zM389 313h1v1h-1zM390 314h1v1h-1zM391 315h1v1h-1zM392 316h1v1h-1zM393 317h1v1h-1zM394 318h1v1h-1zM395 319h1v1h-1zM396 319h1v1h-1zM397 320h1v1h-1zM398 320h1v1h-1zM399 321h1v1h-1zM400 321h1v1h-1zM401 321h1v1h-1zM402 320h1v1h-1zM403 320h1v1h-1zM404 319h1v1h-1zM405 319h1v1h-1zM406 318h1v1h-1zM407 318h1v1h-1zM408 317h1v1h-1zM409 317h1v1h-1zM410 317h1v1h-1zM411 316h1v1h-1zM412 316h1v1h-1zM413 316h1v1h-1zM414 315h1v1h-1zM415 315h1v1h-1zM416 314h1v1h-1zM417 314h1v1h-1zM418 314h1v1h-1zM419 313h1v1h-1zM420 313h1v1h-1zM421 313h1v1h-1zM422 312h1v1h-1zM423 311h1v1h-1zM424 310h1v1h-1zM425 309h1v1h-1zM426 308h1v1h-1zM427 307h1v1h-1zM428 306h1v1h-1zM429 305h1v1h-1zM430 304h1v1h-1zM431 302h1v2h-1zM432 301h1v1h-1zM433 300h1v1h-1zM434 300h1v1h-1zM435 299h1v1h-1zM436 299h1v1h-1zM437 299h1v1h-1zM438 298h1v1h-1zM439 298h1v1h-1zM440 297h1v1h-1zM441 297h1v1h-1zM442 297h1v1h-1zM443 297h1v1h-1zM444 297h1v1h-1zM445 297h1v1h-1zM446 297h1v1h-1zM447 297h1v1h-1zM448 297h1v1h-1zM449 297h1v1h-1zM450 297h1v1h-1zM451 297h1v1h-1zM452 297h1v1h-1zM453 297h1v1h-1zM454 297h1v1h-1zM455 297h1v1h-1zM456 297h1v1h-1zM457 297h1v1h-1zM458 297h1v1h-1zM459 298h1v1h-1zM460 298h1v1h-1zM461 298h1v1h-1zM462 298h1v1h-1zM463 299h1v1h-1zM464 299h1v1h-1zM465 299h1v1h-1zM466 299h1v1h-1zM467 299h1v1h-1zM468 299h1v1h-1zM469 299h1v1h-1zM470 299h1v1h-1zM471 299h1v1h-1zM472 299h1v1h-1zM473 299h1v1h-1zM474 299h1v1h-1zM475 298h1v1h-1zM476 298h1v1h-1zM477 298h1v1h-1zM478 298h1v1h-1zM479 298h1v1h-1zM480 298h1v1h-1zM481 298h1v1h-1zM482 298h1v1h-1zM483 299h1v1h-1zM484 299h1v1h-1zM485 299h1v1h-1zM486 300h1v1h-1zM487 300h1v1h-1zM488 301h1v1h-1zM489 301h1v1h-1zM490 301h1v1h-1zM491 302h1v1h-1zM492 302h1v1h-1zM493 302h1v1h-1zM494 303h1v1h-1zM495 304h1v1h-1zM496 304h1v1h-1zM497 305h1v1h-1zM498 305h1v1h-1zM499 306h1v1h-1zM500 306h1v1h-1zM501 306h1v1h-1zM502 306h1v1h-1zM503 306h1v1h-1zM504 306h1v1h-1zM505 306h1v1h-1zM506 306h1v1h-1zM507 306h1v1h-1zM508 306h1v1h-1zM509 306h1v1h-1zM510 306h1v1h-1zM511 307h1v1h-1zM512 307h1v1h-1zM513 307h1v1h-1zM514 308h1v1h-1zM515 308h1v1h-1zM516 309h1v1h-1zM517 309h1v1h-1zM518 310h1v1h-1zM519 310h1v1h-1zM520 311h1v1h-1zM521 311h1v1h-1zM522 312h1v1h-1zM523 313h1v1h-1zM524 314h1v1h-1zM525 315h1v1h-1zM526 316h1v1h-1zM527 316h1v1h-1zM528 317h1v1h-1zM529 317h1v1h-1zM530 318h1v1h-1zM531 319h1v1h-1zM532 319h1v1h-1zM533 320h1v1h-1zM534 321h1v1h-1zM535 322h1v1h-1zM536 322h1v1h-1zM537 323h1v1h-1zM538 324h1v1h-1zM539 325h1v1h-1zM540 326h1v1h-1zM541 327h1v1h-1zM542 328h1v1h-1zM543 329h1v1h-1zM544 329h1v1h-1zM545 330h1v1h-1zM546 331h1v1h-1zM547 332h1v1h-1zM548 332h1v1h-1zM549 333h1v1h-1zM550 334h1v1h-1zM551 334h1v1h-1zM552 335h1v1h-1zM553 335h1v1h-1zM554 336h1v1h-1zM555 337h1v1h-1zM556 337h1v1h-1zM557 338h1v1h-1zM558 339h1v1h-1zM559 339h1v1h-1zM560 340h1v1h-1zM561 340h1v1h-1zM562 341h1v1h-1zM563 342h1v1h-1zM564 343h1v1h-1zM565 344h1v1h-1zM566 345h1v1h-1zM567 346h1v2h-1zM568 348h1v1h-1zM569 349h1v1h-1zM570 350h1v1h-1zM571 350h1v1h-1zM572 351h1v1h-1zM573 351h1v1h-1zM574 351h1v1h-1zM575 351h1v1h-1zM576 351h1v1h-1zM577 351h1v1h-1zM578 351h1v1h-1zM579 351h1v1h-1zM580 351h1v1h-1zM581 351h1v1h-1zM582 351h1v1h-1zM583 352h1v1h-1zM584 352h1v1h-1zM585 352h1v1h-1zM586 353h1v1h-1zM587 354h1v1h-1zM588 354h1v1h-1zM589 355h1v1h-1zM590 356h1v1h-1zM591 356h1v1h-1zM592 357h1v1h-1zM593 357h1v1h-1zM594 358h1v1h-1zM595 358h1v1h-1zM596 359h1v1h-1zM597 359h1v1h-1zM598 360h1v1h-1zM599 360h1v1h-1zM600 361h1v1h-1zM601 361h1v1h-1zM602 362h1v1h-1zM603 363h1v1h-1zM604 363h1v1h-1zM605 364h1v1h-1zM606 365h1v1h-1zM607 366h1v1h-1zM608 366h1v1h-1zM609 367h1v1h-1zM610 368h1v1h-1zM611 369h1v1h-1zM612 370h1v1h-1zM613 371h1v1h-1zM614 372h1v1h-1zM615 373h1v1h-1zM616 374h1v1h-1zM617 375h1v1h-1zM618 376h1v1h-1zM619 377h1v1h-1zM620 377h1v1h-1zM621 378h1v1h-1zM622 378h1v1h-1zM623 379h1v1h-1zM624 379h1v1h-1zM625 379h1v1h-1zM626 380h1v1h-1zM627 380h1v1h-1zM628 381h1v1h-1zM629 381h1v1h-1zM630 382h1v1h-1zM631 383h1v1h-1zM632 383h1v1h-1zM633 384h1v1h-1zM634 385h1v1h-1zM635 386h1v1h-1zM636 386h1v1h-1zM637 387h1v1h-1zM638 388h1v1h-1zM639 389h1v1h-1zM640 389h1v1h-1zM641 390h1v1h-1zM642 391h1v1h-1zM643 392h1v1h-1zM644 392h1v1h-1zM645 393h1v1h-1zM646 394h1v1h-1zM647 395h1v1h-1zM648 395h1v1h-1zM649 396h1v1h-1zM650 397h1v1h-1zM651 397h1v1h-1zM652 398h1v1h-1zM653 398h1v1h-1zM654 399h1v1h-1zM655 400h1v1h-1zM656 400h1v1h-1zM657 401h1v1h-1zM658 402h1v1h-1zM659 403h1v1h-1zM660 404h1v1h-1zM661 405h1v1h-1zM662 406h1v1h-1zM663 406h1v1h-1zM664 407h1v1h-1zM665 407h1v1h-1zM666 407h1v1h-1zM667 408h1v1h-1zM668 408h1v1h-1zM669 408h1v1h-1zM670 408h1v1h-1zM671 409h1v1h-1zM672 409h1v1h-1zM673 409h1v1h-1zM674 410h1v1h-1zM675 410h1v1h-1zM676 411h1v1h-1zM677 411h1v1h-1zM678 412h1v1h-1zM679 412h1v1h-1zM680 413h1v1h-1zM681 413h1v1h-1zM682 413h1v1h-1zM683 413h1v1h-1zM684 413h1v1h-1zM685 413h1v1h-1zM686 413h1v1h-1zM687 414h1v1h-1zM688 414h1v1h-1zM689 414h1v1h-1zM690 414h1v1h-1zM691 415h1v1h-1zM692 415h1v1h-1zM693 415h1v1h-1zM694 415h1v1h-1zM695 414h1v1h-1zM696 414h1v1h-1zM697 414h1v1h-1zM698 414h1v1h-1zM699 413h1v1h-1zM700 413h1v1h-1zM701 413h1v1h-1zM702 413h1v1h-1zM703 412h1v1h-1zM704 412h1v1h-1zM705 412h1v1h-1zM706 411h1v1h-1zM707 411h1v1h-1zM708 410h1v1h-1zM709 410h1v1h-1zM710 409h1v1h-1zM711 409h1v1h-1zM712 408h1v1h-1zM713 408h1v1h-1zM714 407h1v1h-1zM715 406h1v1h-1zM716 406h1v1h-1zM717 405h1v1h-1zM718 404h1v1h-1zM719 404h1v1h-1zM720 403h1v1h-1zM721 403h1v1h-1zM722 403h1v1h-1zM723 402h1v1h-1zM724 402h1v1h-1zM725 402h1v1h-1zM726 401h1v1h-1zM727 400h1v1h-1zM728 400h1v1h-1zM729 399h1v1h-1zM730 398h1v1h-1zM731 396h1v2h-1zM732 395h1v1h-1zM733 394h1v1h-1zM734 393h1v1h-1zM735 392h1v1h-1zM736 391h1v1h-1zM737 390h1v1h-1zM738 389h1v1h-1zM739 388h1v1h-1zM740 388h1v1h-1zM741 387h1v1h-1zM742 386h1v1h-1zM743 384h1v2h-1zM744 383h1v1h-1zM745 382h1v1h-1zM746 381h1v1h-1zM747 380h1v1h-1zM748 379h1v1h-1zM749 378h1v1h-1zM750 377h1v1h-1zM751 376h1v1h-1zM752 376h1v1h-1zM753 375h1v1h-1zM754 374h1v1h-1zM755 373h1v1h-1zM756 372h1v1h-1zM757 371h1v1h-1zM758 370h1v1h-1zM759 370h1v1h-1zM760 369h1v1h-1zM761 369h1v1h-1zM762 368h1v1h-1zM763 368h1v1h-1zM764 367h1v1h-1zM765 367h1v1h-1zM766 366h1v1h-1zM767 366h1v1h-1zM768 365h1v1h-1zM769 365h1v1h-1zM770 364h1v1h-1zM771 364h1v1h-1zM772 363h1v1h-1zM773 363h1v1h-1zM774 362h1v1h-1zM775 362h1v1h-1zM776 361h1v1h-1zM777 361h1v1h-1zM778 361h1v1h-1zM779 360h1v1h-1zM780 360h1v1h-1zM781 360h1v1h-1zM782 360h1v1h-1zM783 360h1v1h-1zM784 360h1v1h-1zM785 360h1v1h-1zM786 361h1v1h-1zM787 361h1v1h-1zM788 362h1v1h-1zM789 362h1v1h-1zM790 363h1v1h-1zM791 364h1v1h-1zM792 365h1v1h-1zM793 366h1v1h-1zM794 367h1v1h-1zM795 368h1v1h-1zM796 369h1v1h-1zM797 370h1v1h-1zM798 371h1v1h-1zM799 372h1v2h-1zM800 374h1v1h-1zM801 375h1v1h-1zM802 376h1v1h-1zM803 377h1v1h-1zM804 378h1v1h-1zM805 379h1v1h-1zM806 380h1v1h-1zM807 381h1v1h-1zM808 382h1v1h-1zM809 383h1v1h-1zM810 384h1v1h-1zM811 385h1v1h-1zM812 385h1v1h-1zM813 386h1v1h-1zM814 387h1v1h-1zM815 387h1v1h-1zM816 388h1v1h-1zM817 388h1v1h-1zM818 389h1v1h-1zM819 389h1v1h-1zM820 390h1v1h-1zM821 390h1v1h-1zM822 391h1v1h-1zM823 392h1v1h-1zM824 392h1v1h-1zM825 393h1v1h-1zM826 394h1v1h-1zM827 395h1v1h-1zM828 395h1v1h-1zM829 396h1v1h-1zM830 397h1v1h-1zM831 397h1v1h-1zM832 398h1v1h-1zM833 398h1v1h-1zM834 399h1v1h-1zM835 400h1v1h-1zM836 400h1v1h-1zM837 401h1v1h-1zM838 402h1v1h-1zM839 402h1v1h-1zM840 403h1v1h-1zM841 403h1v1h-1zM842 404h1v1h-1zM843 404h1v1h-1zM844 405h1v1h-1zM845 405h1v1h-1zM846 404h1v1h-1zM847 404h1v1h-1zM848 403h1v1h-1zM849 403h1v1h-1zM850 403h1v1h-1zM851 402h1v1h-1zM852 402h1v1h-1zM853 402h1v1h-1zM854 401h1v1h-1zM855 400h1v1h-1zM856 400h1v1h-1zM857 399h1v1h-1zM858 398h1v1h-1zM859 397h1v1h-1zM860 396h1v1h-1zM861 395h1v1h-1zM862 394h1v1h-1zM863 393h1v1h-1zM864 393h1v1h-1zM865 392h1v1h-1zM866 392h1v1h-1zM867 391h1v1h-1zM868 391h1v1h-1zM869 391h1v1h-1zM870 390h1v1h-1zM871 390h1v1h-1zM872 389h1v1h-1zM873 389h1v1h-1zM874 390h1v1h-1zM875 390h1v1h-1zM876 391h1v1h-1zM877 391h1v1h-1zM878 391h1v1h-1zM879 391h1v1h-1zM880 391h1v1h-1zM881 391h1v1h-1zM882 391h1v1h-1zM883 392h1v1h-1zM884 392h1v1h-1zM885 392h1v1h-1zM886 393h1v1h-1zM887 393h1v1h-1zM888 394h1v1h-1zM889 394h1v1h-1zM890 395h1v1h-1zM891 395h1v1h-1zM892 396h1v1h-1zM893 396h1v1h-1zM894 397h1v1h-1zM895 398h1v1h-1zM896 398h1v1h-1zM897 399h1v1h-1zM898 400h1v1h-1zM899 400h1v1h-1zM900 401h1v1h-1zM901 401h1v1h-1zM902 402h1v1h-1zM903 402h1v1h-1zM904 403h1v1h-1zM905 403h1v1h-1zM906 403h1v1h-1zM907 404h1v1h-1zM908 404h1v1h-1zM909 404h1v1h-1zM910 405h1v1h-1zM911 406h1v1h-1zM912 406h1v1h-1zM913 407h1v1h-1zM914 408h1v1h-1zM915 409h1v1h-1zM916 410h1v1h-1zM917 411h1v1h-1zM918 412h1v1h-1zM919 413h1v1h-1zM920 414h1v1h-1zM921 415h1v1h-1zM922 416h1v1h-1zM923 417h1v1h-1zM924 418h1v1h-1zM925 419h1v1h-1zM926 420h1v1h-1zM927 421h1v1h-1zM928 421h1v1h-1zM929 422h1v1h-1zM930 422h1v1h-1zM931 422h1v1h-1zM932 422h1v1h-1zM933 422h1v1h-1zM934 422h1v1h-1zM935 423h1v1h-1zM936 423h1v1h-1zM937 423h1v1h-1zM938 423h1v1h-1zM939 422h1v1h-1zM940 422h1v1h-1zM941 422h1v1h-1zM942 422h1v1h-1zM943 421h1v1h-1zM944 421h1v1h-1zM945 421h1v1h-1zM946 421h1v1h-1zM947 421h1v1h-1zM948 421h1v1h-1zM949 421h1v1h-1zM950 421h1v1h-1zM951 420h1v1h-1zM952 420h1v1h-1zM953 420h1v1h-1zM954 420h1v1h-1zM955 420h1v1h-1zM956 420h1v1h-1zM957 420h1v1h-1zM958 421h1v1h-1zM959 421h1v1h-1zM960 422h1v1h-1zM961 422h1v1h-1zM962 423h1v1h-1zM963 423h1v1h-1zM964 424h1v1h-1zM965 424h1v1h-1zM966 425h1v1h-1zM967 426h1v1h-1zM968 427h1v1h-1zM969 428h1v1h-1zM970 429h1v1h-1zM971 429h1v1h-1zM972 430h1v1h-1zM973 430h1v1h-1zM974 431h1v1h-1zM975 432h1v1h-1zM976 432h1v1h-1zM977 433h1v1h-1zM978 434h1v1h-1zM979 435h1v1h-1zM980 436h1v1h-1zM981 437h1v1h-1zM982 438h1v1h-1zM983 439h1v1h-1zM984 440h1v1h-1zM985 441h1v1h-1zM986 442h1v1h-1zM987 443h1v2h-1zM988 445h1v1h-1zM989 446h1v1h-1zM990 447h1v1h-1zM991 448h1v2h-1zM992 450h1v1h-1zM993 451h1v1h-1zM994 452h1v1h-1zM995 453h1v2h-1zM996 455h1v1h-1zM997 456h1v1h-1zM998 457h1v1h-1zM999 458h1v2h-1zM1000 460h1v1h-1zM1001 461h1v1h-1zM1002 462h1v1h-1zM1003 463h1v2h-1zM1004 465h1v1h-1zM1005 466h1v1h-1zM1006 467h1v1h-1zM1007 468h1v1h-1zM1008 469h1v1h-1zM1009 470h1v1h-1zM1010 471h1v1h-1zM1011 472h1v1h-1zM1012 473h1v1h-1zM1013 474h1v1h-1zM1014 475h1v1h-1zM1015 476h1v1h-1zM1016 476h1v1h-1zM1017 477h1v1h-1zM1018 478h1v1h-1zM1019 479h1v2h-1zM1020 481h1v1h-1zM1021 482h1v1h-1zM1022 483h1v1h-1zM1023 484h1v1h-1zM1024 484h1v1h-1zM1025 485h1v1h-1zM1026 486h1v1h-1zM1027 487h1v1h-1zM1028 488h1v1h-1zM1029 489h1v1h-1zM1030 490h1v1h-1zM1031 491h1v1h-1zM1032 491h1v1h-1zM1033 492h1v1h-1zM1034 492h1v1h-1zM1035 493h1v1h-1zM1036 493h1v1h-1zM1037 493h1v1h-1zM1038 493h1v1h-1zM1039 492h1v1h-1zM1040 492h1v1h-1zM1041 492h1v1h-1zM1042 491h1v1h-1zM1043 490h1v1h-1zM1044 490h1v1h-1zM1045 489h1v1h-1zM1046 489h1v1h-1zM1047 489h1v1h-1zM1048 489h1v1h-1zM1049 489h1v1h-1zM1050 489h1v1h-1zM1051 488h1v1h-1zM1052 488h1v1h-1zM1053 488h1v1h-1zM1054 488h1v1h-1zM1055 487h1v1h-1zM1056 487h1v1h-1zM1057 487h1v1h-1zM1058 486h1v1h-1zM1059 486h1v1h-1zM1060 485h1v1h-1zM1061 485h1v1h-1zM1062 485h1v1h-1zM1063 484h1v1h-1zM1064 484h1v1h-1zM1065 484h1v1h-1zM1066 484h1v1h-1zM1067 484h1v1h-1zM1068 484h1v1h-1zM1069 484h1v1h-1zM1070 484h1v1h-1zM1071 485h1v1h-1zM1072 485h1v1h-1zM1073 485h1v1h-1zM1074 485h1v1h-1zM1075 485h1v1h-1zM1076 485h1v1h-1zM1077 485h1v1h-1zM1078 485h1v1h-1zM1079 485h1v1h-1zM1080 485h1v1h-1zM1081 485h1v1h-1zM1082 485h1v1h-1zM1083 485h1v1h-1zM1084 485h1v1h-1zM1085 485h1v1h-1zM1086 485h1v1h-1zM1087 486h1v1h-1zM1088 486h1v1h-1zM1089 486h1v1h-1zM1090 487h1v1h-1zM1091 487h1v1h-1zM1092 488h1v1h-1zM1093 488h1v1h-1zM1094 489h1v1h-1zM1095 490h1v1h-1zM1096 490h1v1h-1zM1097 491h1v1h-1zM1098 492h1v1h-1zM1099 493h1v1h-1zM1100 493h1v1h-1zM1101 494h1v1h-1zM1102 494h1v1h-1zM1103 495h1v1h-1zM1104 495h1v1h-1zM1105 495h1v1h-1zM1106 495h1v1h-1zM1107 496h1v1h-1zM1108 496h1v1h-1zM1109 496h1v1h-1zM1110 497h1v1h-1zM1111 498h1v1h-1zM1112 498h1v1h-1zM1113 499h1v1h-1zM1114 500h1v1h-1zM1115 501h1v1h-1zM1116 501h1v1h-1zM1117 502h1v1h-1zM1118 502h1v1h-1zM1119 503h1v1h-1zM1120 503h1v1h-1zM1121 503h1v1h-1zM1122 503h1v1h-1zM1123 504h1v1h-1zM1124 504h1v1h-1zM1125 504h1v1h-1zM1126 504h1v1h-1zM1127 503h1v1h-1zM1128 503h1v1h-1zM1129 503h1v1h-1zM1130 503h1v1h-1zM1131 503h1v1h-1zM1132 503h1v1h-1zM1133 503h1v1h-1zM1134 504h1v1h-1zM1135 504h1v1h-1zM1136 505h1v1h-1zM1137 505h1v1h-1zM1138 506h1v1h-1zM1139 506h1v1h-1zM1140 507h1v1h-1zM1141 507h1v1h-1zM1142 507h1v1h-1zM1143 506h1v1h-1zM1144 506h1v1h-1zM1145 506h1v1h-1zM1146 506h1v1h-1zM1147 506h1v1h-1zM1148 506h1v1h-1zM1149 506h1v1h-1zM1150 506h1v1h-1zM1151 505h1v1h-1zM1152 505h1v1h-1zM1153 505h1v1h-1zM1154 505h1v1h-1zM1155 505h1v1h-1zM1156 505h1v1h-1zM1157 505h1v1h-1zM1158 505h1v1h-1zM1159 506h1v1h-1zM1160 506h1v1h-1zM1161 506h1v1h-1zM1162 506h1v1h-1zM1163 505h1v1h-1zM1164 505h1v1h-1zM1165 505h1v1h-1zM1166 505h1v1h-1zM1167 504h1v1h-1zM1168 504h1v1h-1zM1169 504h1v1h-1zM1170 503h1v1h-1zM1171 502h1v1h-1zM1172 502h1v1h-1zM1173 501h1v1h-1zM1174 501h1v1h-1zM1175 500h1v1h-1zM1176 500h1v1h-1zM1177 500h1v1h-1zM1178 499h1v1h-1zM1179 499h1v1h-1zM1180 498h1v1h-1zM1181 498h1v1h-1zM1182 498h1v1h-1zM1183 498h1v1h-1zM1184 498h1v1h-1zM1185 498h1v1h-1zM1186 497h1v1h-1zM1187 497h1v1h-1zM1188 496h1v1h-1zM1189 496h1v1h-1zM1190 495h1v1h-1zM1191 495h1v1h-1zM1192 494h1v1h-1zM1193 494h1v1h-1zM1194 493h1v1h-1zM1195 492h1v1h-1zM1196 492h1v1h-1zM1197 491h1v1h-1zM1198 491h1v1h-1zM1199 491h1v1h-1zM1200 491h1v1h-1zM1201 491h1v1h-1zM1202 491h1v1h-1zM1203 491h1v1h-1zM1204 491h1v1h-1zM1205 491h1v1h-1zM1206 491h1v1h-1zM1207 492h1v1h-1zM1208 492h1v1h-1zM1209 492h1v1h-1zM1210 492h1v1h-1zM1211 492h1v1h-1zM1212 492h1v1h-1zM1213 492h1v1h-1zM1214 492h1v1h-1zM1215 493h1v1h-1zM1216 493h1v1h-1zM1217 493h1v1h-1zM1218 494h1v1h-1zM1219 494h1v1h-1zM1220 495h1v1h-1zM1221 495h1v1h-1zM1222 496h1v1h-1zM1223 496h1v1h-1zM1224 497h1v1h-1zM1225 497h1v1h-1zM1226 498h1v1h-1zM1227 499h1v1h-1zM1228 499h1v1h-1zM1229 500h1v1h-1zM1230 500h1v1h-1zM1231 501h1v1h-1zM1232 501h1v1h-1zM1233 501h1v1h-1zM1234 502h1v1h-1zM1235 502h1v1h-1zM1236 503h1v1h-1zM1237 503h1v1h-1zM1238 504h1v1h-1zM1239 505h1v1h-1zM1240 505h1v1h-1zM1241 506h1v1h-1zM1242 507h1v1h-1zM1243 508h1v1h-1zM1244 509h1v1h-1zM1245 510h1v1h-1zM1246 511h1v1h-1zM1247 512h1v1h-1zM1248 512h1v1h-1zM1249 513h1v1h-1zM1250 514h1v1h-1zM1251 514h1v1h-1zM1252 515h1v1h-1zM1253 515h1v1h-1z" fill="#ff0000" shape-rendering="crispEdges"/><path d="M1 380h1v1h-1zM2 381h1v1h-1zM3 381h1v1h-1zM4 382h1v1h-1zM5 382h1v1h-1zM6 382h1v1h-1zM7 382h1v1h-1zM8 382h1v1h-1zM9 382h1v1h-1zM10 382h1v1h-1zM11 381h1v1h-1zM12 381h1v1h-1zM13 381h1v1h-1zM14 380h1v1h-1zM15 379h1v1h-1zM16 379h1v1h-1zM17 378h1v1h-1zM18 376h1v2h-1zM19 375h1v1h-1zM20 373h1v2h-1zM21 371h1v2h-1zM22 369h1v2h-1zM23 367h1v2h-1zM24 365h1v2h-1zM25 363h1v2h-1zM26 361h1v2h-1zM27 360h1v1h-1zM28 358h1v2h-1zM29 357h1v1h-1zM30 356h1v1h-1zM31 354h1v2h-1zM32 353h1v1h-1zM33 352h1v1h-1zM34 352h1v1h-1zM35 351h1v1h-1zM36 351h1v1h-1zM37 351h1v1h-1zM38 350h1v1h-1zM39 350h1v1h-1zM40 349h1v1h-1zM41 349h1v1h-1zM42 349h1v1h-1zM43 349h1v1h-1zM44 349h1v1h-1zM45 349h1v1h-1zM46 349h1v1h-1zM47 348h1v1h-1zM48 348h1v1h-1zM49 348h1v1h-1zM50 348h1v1h-1zM51 347h1v1h-1zM52 347h1v1h-1zM53 346h1v2h-1zM54 344h1v2h-1zM55 342h1v2h-1zM56 340h1v2h-1zM57 336h1v4h-1zM58 332h1v4h-1zM59 328h1v4h-1zM60 324h1v4h-1zM61 320h1v4h-1zM62 316h1v4h-1zM63 312h1v4h-1zM64 308h1v4h-1zM65 303h1v5h-1zM66 298h1v5h-1zM67 292h1v6h-1zM68 287h1v5h-1zM69 281h1v6h-1zM70 274h1v7h-1zM71 267h1v7h-1zM72 260h1v7h-1zM73 254h1v6h-1zM74 249h1v5h-1zM75 245h1v4h-1zM76 240h1v5h-1zM77 236h1v4h-1zM78 234h1v2h-1zM79 232h1v2h-1zM80 230h1v2h-1zM81 226h1v4h-1zM82 221h1v5h-1zM83 215h1v6h-1zM84 210h1v5h-1zM85 204h1v6h-1zM86 196h1v8h-1zM87 189h1v7h-1zM88 181h1v8h-1zM89 175h1v6h-1zM90 169h1v6h-1zM91 163h1v6h-1zM92 157h1v6h-1zM93 152h1v5h-1zM94 147h1v5h-1zM95 142h1v5h-1zM96 137h1v5h-1zM97 132h1v5h-1zM98 126h1v6h-1zM99 121h1v5h-1zM100 115h1v6h-1zM101 111h1v4h-1zM102 107h1v4h-1zM103 103h1v4h-1zM104 99h1v4h-1zM105 96h1v3h-1zM106 97h1v1h-1zM107 98h1v1h-1zM108 98h1v1h-1zM109 99h1v1h-1zM110 100h1v2h-1zM111 102h1v1h-1zM112 103h1v2h-1zM113 105h1v2h-1zM114 107h1v4h-1zM115 111h1v4h-1zM116 115h1v4h-1zM117 119h1v3h-1zM118 122h1v4h-1zM119 126h1v4h-1zM120 130h1v4h-1zM121 134h1v6h-1zM122 140h1v7h-1zM123 147h1v8h-1zM124 155h1v7h-1zM125 162h1v5h-1zM126 167h1v4h-1zM127 171h1v3h-1zM128 174h1v4h-1zM129 178h1v3h-1zM130 181h1v2h-1zM131 183h1v3h-1zM132 186h1v2h-1zM133 188h1v2h-1zM133 188h1v1h-1zM134 186h1v2h-1zM135 184h1v2h-1zM136 182h1v2h-1zM137 180h1v2h-1zM138 179h1v1h-1zM139 179h1v1h-1zM140 178h1v1h-1zM141 177h1v2h-1zM142 175h1v2h-1zM143 173h1v2h-1zM144 171h1v2h-1zM145 169h1v2h-1zM146 169h1v1h-1zM147 170h1v1h-1zM148 170h1v1h-1zM149 170h1v1h-1zM150 170h1v1h-1zM151 169h1v1h-1zM152 169h1v1h-1zM153 169h1v2h-1zM154 171h1v3h-1zM155 174h1v3h-1zM156 177h1v3h-1zM157 180h1v2h-1zM158 182h1v1h-1zM159 183h1v2h-1zM160 185h1v1h-1zM161 186h1v1h-1zM162 187h1v2h-1zM163 189h1v2h-1zM164 191h1v2h-1zM165 193h1v3h-1zM166 196h1v2h-1zM167 198h1v2h-1zM168 200h1v2h-1zM169 202h1v2h-1zM170 204h1v2h-1zM171 206h1v2h-1zM172 208h1v2h-1zM173 210h1v2h-1zM174 211h1v1h-1zM175 211h1v1h-1zM176 211h1v1h-1zM177 211h1v1h-1zM178 212h1v2h-1zM179 214h1v1h-1zM180 215h1v2h-1zM181 217h1v1h-1zM182 215h1v2h-1zM183 214h1v1h-1zM184 212h1v2h-1zM185 210h1v2h-1zM186 208h1v2h-1zM187 206h1v2h-1zM188 204h1v2h-1zM189 202h1v2h-1zM190 201h1v1h-1zM191 200h1v1h-1zM192 200h1v1h-1zM193 199h1v1h-1zM194 198h1v1h-1zM195 197h1v1h-1zM196 197h1v1h-1zM197 196h1v1h-1zM198 194h1v2h-1zM199 192h1v2h-1zM200 190h1v2h-1zM201 188h1v2h-1zM202 187h1v1h-1zM203 186h1v1h-1zM204 185h1v1h-1zM205 184h1v1h-1zM206 184h1v1h-1zM207 185h1v1h-1zM208 185h1v1h-1zM209 185h1v1h-1zM210 185h1v1h-1zM211 184h1v1h-1zM212 184h1v1h-1zM213 184h1v1h-1zM214 183h1v1h-1zM215 182h1v1h-1zM216 181h1v1h-1zM217 180h1v1h-1zM218 179h1v1h-1zM219 179h1v1h-1zM220 178h1v1h-1zM221 178h1v1h-1zM222 179h1v2h-1zM223 181h1v2h-1zM224 183h1v2h-1zM225 185h1v2h-1zM226 187h1v2h-1zM227 189h1v1h-1zM228 190h1v2h-1zM229 192h1v1h-1zM230 193h1v1h-1zM231 194h1v2h-1zM232 196h1v1h-1zM233 197h1v2h-1zM234 199h1v2h-1zM235 201h1v2h-1zM236 203h1v2h-1zM237 205h1v2h-1zM238 206h1v1h-1zM239 206h1v1h-1zM240 206h1v1h-1zM241 206h1v1h-1zM242 206h1v1h-1zM243 205h1v1h-1zM244 205h1v1h-1zM245 205h1v1h-1zM246 204h1v1h-1zM247 203h1v1h-1zM248 202h1v1h-1zM249 201h1v1h-1zM250 200h1v1h-1zM251 198h1v2h-1zM252 197h1v1h-1zM253 195h1v2h-1zM254 192h1v3h-1zM255 190h1v2h-1zM256 187h1v3h-1zM257 185h1v2h-1zM258 186h1v2h-1zM259 188h1v1h-1zM260 189h1v2h-1zM261 191h1v1h-1zM262 192h1v2h-1zM263 194h1v2h-1zM264 196h1v2h-1zM265 198h1v2h-1zM266 200h1v2h-1zM267 202h1v2h-1zM268 204h1v2h-1zM269 206h1v1h-1zM270 206h1v1h-1zM271 206h1v1h-1zM272 206h1v1h-1zM273 206h1v1h-1zM274 207h1v2h-1zM275 209h1v1h-1zM276 210h1v2h-1zM277 212h1v1h-1zM278 211h1v1h-1zM279 209h1v2h-1zM280 208h1v1h-1zM281 206h1v2h-1zM282 204h1v2h-1zM283 202h1v2h-1zM284 200h1v2h-1zM285 198h1v2h-1zM286 196h1v2h-1zM287 194h1v2h-1zM288 192h1v2h-1zM289 191h1v1h-1zM290 190h1v1h-1zM291 189h1v1h-1zM292 188h1v1h-1zM293 187h1v1h-1zM294 188h1v1h-1zM295 188h1v1h-1zM296 189h1v1h-1zM297 189h1v2h-1zM298 191h1v2h-1zM299 193h1v3h-1zM300 196h1v2h-1zM301 198h1v2h-1zM302 200h1v2h-1zM303 202h1v2h-1zM304 204h1v2h-1zM305 206h1v2h-1zM306 208h1v2h-1zM307 210h1v2h-1zM308 212h1v2h-1zM309 214h1v1h-1zM310 215h1v1h-1zM311 216h1v1h-1zM312 217h1v1h-1zM313 218h1v1h-1zM314 217h1v1h-1zM315 217h1v1h-1zM316 216h1v1h-1zM317 216h1v1h-1zM318 215h1v1h-1zM319 214h1v1h-1zM320 213h1v1h-1zM321 212h1v1h-1zM322 213h1v1h-1zM323 214h1v2h-1zM324 216h1v1h-1zM325 217h1v1h-1zM326 218h1v2h-1zM327 220h1v2h-1zM328 222h1v2h-1zM329 224h1v3h-1zM330 227h1v3h-1zM331 230h1v3h-1zM332 233h1v3h-1zM333 236h1v2h-1zM334 238h1v2h-1zM335 240h1v2h-1zM336 242h1v2h-1zM337 244h1v3h-1zM338 247h1v2h-1zM339 249h1v2h-1zM340 251h1v2h-1zM341 253h1v3h-1zM342 256h1v3h-1zM343 259h1v2h-1zM344 261h1v3h-1zM345 264h1v3h-1zM346 267h1v3h-1zM347 270h1v3h-1zM348 273h1v3h-1zM349 276h1v3h-1zM350 279h1v3h-1zM351 282h1v4h-1zM352 286h1v3h-1zM353 289h1v3h-1zM354 292h1v4h-1zM355 296h1v3h-1zM356 299h1v4h-1zM357 303h1v3h-1zM358 306h1v4h-1zM359 310h1v4h-1zM360 314h1v4h-1zM361 318h1v3h-1zM362 321h1v2h-1zM363 323h1v2h-1zM364 325h1v2h-1zM365 327h1v2h-1zM366 329h1v2h-1zM367 331h1v1h-1zM368 332h1v2h-1zM369 334h1v1h-1zM370 335h1v1h-1zM371 336h1v1h-1zM372 336h1v1h-1zM373 337h1v1h-1zM374 338h1v2h-1zM375 340h1v1h-1zM376 341h1v2h-1zM377 343h1v1h-1zM378 341h1v2h-1zM379 340h1v1h-1zM380 338h1v2h-1zM381 337h1v1h-1zM382 335h1v2h-1zM383 333h1v2h-1zM384 331h1v2h-1zM385 328h1v3h-1zM386 325h1v3h-1zM387 323h1v2h-1zM388 320h1v3h-1zM389 318h1v2h-1zM390 316h1v2h-1zM391 314h1v2h-1zM392 312h1v2h-1zM393 309h1v3h-1zM394 307h1v2h-1zM395 305h1v2h-1zM396 303h1v2h-1zM397 301h1v2h-1zM398 301h1v1h-1zM399 301h1v1h-1zM400 301h1v1h-1zM401 301h1v1h-1zM402 301h1v1h-1zM403 301h1v1h-1zM404 301h1v1h-1zM405 301h1v1h-1zM406 301h1v1h-1zM407 301h1v1h-1zM408 301h1v1h-1zM409 301h1v1h-1zM410 301h1v1h-1zM411 302h1v1h-1zM412 302h1v1h-1zM413 302h1v1h-1zM414 302h1v1h-1zM415 303h1v1h-1zM416 303h1v1h-1zM417 303h1v1h-1zM418 304h1v1h-1zM419 305h1v1h-1zM420 305h1v1h-1zM421 306h1v1h-1zM422 306h1v1h-1zM423 306h1v1h-1zM424 306h1v1h-1zM425 306h1v1h-1zM426 305h1v1h-1zM427 304h1v1h-1zM428 304h1v1h-1zM429 303h1v1h-1zM430 302h1v1h-1zM431 301h1v1h-1zM432 300h1v1h-1zM433 299h1v1h-1zM434 297h1v2h-1zM435 296h1v1h-1zM436 294h1v2h-1zM437 292h1v2h-1zM438 290h1v2h-1zM439 288h1v2h-1zM440 286h1v2h-1zM441 284h1v2h-1zM442 284h1v1h-1zM443 284h1v1h-1zM444 284h1v1h-1zM445 284h1v1h-1zM446 285h1v1h-1zM447 286h1v1h-1zM448 287h1v1h-1zM449 288h1v1h-1zM450 289h1v1h-1zM451 290h1v2h-1zM452 292h1v1h-1zM453 293h1v1h-1zM454 294h1v1h-1zM455 295h1v1h-1zM456 296h1v1h-1zM457 297h1v1h-1zM458 298h1v2h-1zM459 300h1v1h-1zM460 301h1v2h-1zM461 303h1v1h-1zM462 304h1v1h-1zM463 305h1v1h-1zM464 305h1v1h-1zM465 306h1v1h-1zM466 306h1v1h-1zM467 306h1v1h-1zM468 306h1v1h-1zM469 306h1v1h-1zM470 307h1v1h-1zM471 307h1v1h-1zM472 308h1v1h-1zM473 308h1v1h-1zM474 308h1v1h-1zM475 308h1v1h-1zM476 308h1v1h-1zM477 308h1v1h-1zM478 307h1v1h-1zM479 307h1v1h-1zM480 306h1v1h-1zM481 306h1v1h-1zM482 305h1v1h-1zM483 305h1v1h-1zM484 304h1v1h-1zM485 304h1v1h-1zM486 304h1v1h-1zM487 305h1v1h-1zM488 305h1v1h-1zM489 305h1v1h-1zM490 304h1v1h-1zM491 303h1v1h-1zM492 303h1v1h-1zM493 302h1v1h-1zM494 303h1v1h-1zM495 304h1v1h-1zM496 304h1v1h-1zM497 305h1v1h-1zM498 306h1v1h-1zM499 306h1v1h-1zM500 307h1v1h-1zM501 307h1v1h-1zM502 307h1v1h-1zM503 308h1v1h-1zM504 308h1v1h-1zM505 308h1v1h-1zM506 308h1v1h-1zM507 307h1v1h-1zM508 307h1v1h-1zM509 307h1v1h-1zM510 308h1v1h-1zM511 309h1v1h-1zM512 310h1v1h-1zM513 311h1v1h-1zM514 312h1v1h-1zM515 313h1v1h-1zM516 314h1v1h-1zM517 315h1v1h-1zM518 316h1v2h-1zM519 318h1v1h-1zM520 319h1v2h-1zM521 321h1v2h-1zM522 323h1v2h-1zM523 325h1v3h-1zM524 328h1v2h-1zM525 330h1v2h-1zM526 332h1v2h-1zM527 334h1v2h-1zM528 336h1v2h-1zM529 338h1v1h-1zM530 339h1v1h-1zM531 340h1v1h-1zM532 341h1v1h-1zM533 342h1v1h-1zM534 343h1v1h-1zM535 344h1v1h-1zM536 344h1v1h-1zM537 345h1v1h-1zM538 346h1v1h-1zM539 346h1v1h-1zM540 347h1v1h-1zM541 347h1v1h-1zM542 347h1v1h-1zM543 347h1v1h-1zM544 347h1v1h-1zM545 347h1v1h-1zM546 347h1v1h-1zM547 347h1v1h-1zM548 347h1v1h-1zM549 347h1v1h-1zM550 348h1v1h-1zM551 348h1v1h-1zM552 349h1v1h-1zM553 349h1v1h-1zM554 349h1v1h-1zM555 348h1v1h-1zM556 348h1v1h-1zM557 348h1v1h-1zM558 347h1v1h-1zM559 347h1v1h-1zM560 346h1v1h-1zM561 346h1v1h-1zM562 346h1v1h-1zM563 346h1v1h-1zM564 346h1v1h-1zM565 346h1v2h-1zM566 348h1v2h-1zM567 350h1v2h-1zM568 352h1v2h-1zM569 354h1v2h-1zM570 356h1v1h-1zM571 357h1v1h-1zM572 358h1v1h-1zM573 359h1v1h-1zM574 359h1v1h-1zM575 359h1v1h-1zM576 359h1v1h-1zM577 359h1v1h-1zM578 360h1v1h-1zM579 360h1v1h-1zM580 361h1v1h-1zM581 361h1v1h-1zM582 361h1v1h-1zM583 361h1v1h-1zM584 361h1v1h-1zM585 361h1v1h-1zM586 360h1v1h-1zM587 360h1v1h-1zM588 359h1v1h-1zM589 359h1v1h-1zM590 360h1v1h-1zM591 360h1v1h-1zM592 361h1v1h-1zM593 361h1v2h-1zM594 363h1v2h-1zM595 365h1v2h-1zM596 367h1v2h-1zM597 369h1v2h-1zM598 371h1v2h-1zM599 373h1v1h-1zM600 374h1v2h-1zM601 376h1v1h-1zM602 377h1v1h-1zM603 378h1v1h-1zM604 379h1v1h-1zM605 380h1v1h-1zM606 381h1v1h-1zM607 382h1v2h-1zM608 384h1v1h-1zM609 385h1v1h-1zM610 386h1v1h-1zM611 387h1v1h-1zM612 387h1v1h-1zM613 388h1v1h-1zM614 389h1v1h-1zM615 389h1v1h-1zM616 390h1v1h-1zM617 390h1v1h-1zM618 391h1v1h-1zM619 392h1v1h-1zM620 392h1v1h-1zM621 393h1v1h-1zM622 394h1v1h-1zM623 395h1v1h-1zM624 395h1v1h-1zM625 396h1v1h-1zM626 396h1v1h-1zM627 397h1v1h-1zM628 397h1v1h-1zM629 397h1v1h-1zM630 396h1v1h-1zM631 395h1v1h-1zM632 395h1v1h-1zM633 394h1v1h-1zM634 394h1v1h-1zM635 393h1v1h-1zM636 393h1v1h-1zM637 393h1v1h-1zM638 394h1v1h-1zM639 394h1v1h-1zM640 395h1v1h-1zM641 395h1v1h-1zM642 396h1v1h-1zM643 397h1v1h-1zM644 398h1v1h-1zM645 399h1v1h-1zM646 400h1v1h-1zM647 401h1v1h-1zM648 402h1v1h-1zM649 403h1v1h-1zM650 404h1v2h-1zM651 406h1v1h-1zM652 407h1v2h-1zM653 409h1v1h-1zM654 410h1v2h-1zM655 412h1v2h-1zM656 414h1v2h-1zM657 416h1v2h-1zM658 418h1v1h-1zM659 419h1v1h-1zM660 420h1v1h-1zM661 421h1v1h-1zM662 422h1v1h-1zM663 422h1v1h-1zM664 423h1v1h-1zM665 423h1v1h-1zM666 423h1v1h-1zM667 422h1v1h-1zM668 422h1v1h-1zM669 422h1v1h-1zM670 422h1v1h-1zM671 422h1v1h-1zM672 422h1v1h-1zM673 422h1v1h-1zM674 422h1v1h-1zM675 421h1v1h-1zM676 421h1v1h-1zM677 421h1v1h-1zM678 420h1v1h-1zM679 420h1v1h-1zM680 419h1v1h-1zM681 419h1v1h-1zM682 417h1v2h-1zM683 416h1v1h-1zM684 414h1v2h-1zM685 413h1v1h-1zM686 413h1v1h-1zM687 412h1v1h-1zM688 412h1v1h-1zM689 412h1v1h-1zM690 411h1v1h-1zM691 410h1v1h-1zM692 410h1v1h-1zM693 409h1v1h-1zM694 407h1v2h-1zM695 406h1v1h-1zM696 404h1v2h-1zM697 403h1v1h-1zM698 402h1v1h-1zM699 400h1v2h-1zM700 399h1v1h-1zM701 398h1v1h-1zM702 398h1v1h-1zM703 399h1v1h-1zM704 399h1v1h-1zM705 399h1v1h-1zM706 399h1v1h-1zM707 398h1v1h-1zM708 398h1v1h-1zM709 398h1v1h-1zM710 398h1v1h-1zM711 397h1v1h-1zM712 397h1v1h-1zM713 397h1v1h-1zM714 397h1v1h-1zM715 396h1v1h-1zM716 396h1v1h-1zM717 396h1v1h-1zM718 396h1v1h-1zM719 397h1v1h-1zM720 397h1v1h-1zM721 397h1v1h-1zM722 396h1v1h-1zM723 396h1v1h-1zM724 395h1v1h-1zM725 395h1v1h-1zM726 394h1v1h-1zM727 393h1v1h-1zM728 392h1v1h-1zM729 391h1v1h-1zM730 389h1v2h-1zM731 387h1v2h-1zM732 385h1v2h-1zM733 384h1v1h-1zM734 382h1v2h-1zM735 380h1v2h-1zM736 378h1v2h-1zM737 375h1v3h-1zM738 373h1v2h-1zM739 371h1v2h-1zM740 369h1v2h-1zM741 366h1v3h-1zM742 363h1v3h-1zM743 361h1v2h-1zM744 358h1v3h-1zM745 356h1v2h-1zM746 355h1v1h-1zM747 354h1v1h-1zM748 353h1v1h-1zM749 352h1v1h-1zM750 351h1v1h-1zM751 350h1v1h-1zM752 350h1v1h-1zM753 349h1v1h-1zM754 348h1v1h-1zM755 348h1v1h-1zM756 347h1v1h-1zM757 347h1v1h-1zM758 348h1v1h-1zM759 348h1v1h-1zM760 349h1v1h-1zM761 349h1v1h-1zM762 350h1v2h-1zM763 352h1v1h-1zM764 353h1v2h-1zM765 355h1v1h-1zM766 356h1v1h-1zM767 357h1v1h-1zM768 358h1v1h-1zM769 359h1v1h-1zM770 360h1v1h-1zM771 361h1v1h-1zM772 361h1v1h-1zM773 362h1v1h-1zM774 363h1v2h-1zM775 365h1v2h-1zM776 367h1v2h-1zM777 369h1v1h-1zM778 370h1v1h-1zM779 370h1v1h-1zM780 371h1v1h-1zM781 371h1v1h-1zM782 371h1v1h-1zM783 371h1v1h-1zM784 371h1v1h-1zM785 371h1v1h-1zM786 372h1v1h-1zM787 373h1v1h-1zM788 374h1v1h-1zM789 375h1v2h-1zM790 377h1v2h-1zM791 379h1v2h-1zM792 381h1v2h-1zM793 383h1v2h-1zM794 385h1v2h-1zM795 387h1v1h-1zM796 388h1v2h-1zM797 390h1v1h-1zM798 391h1v2h-1zM799 393h1v2h-1zM800 395h1v2h-1zM801 397h1v2h-1zM802 399h1v2h-1zM803 401h1v2h-1zM804 403h1v2h-1zM805 405h1v1h-1zM806 406h1v1h-1zM807 407h1v1h-1zM808 408h1v1h-1zM809 409h1v1h-1zM810 407h1v2h-1zM811 406h1v1h-1zM812 404h1v2h-1zM813 403h1v1h-1zM814 402h1v1h-1zM815 401h1v1h-1zM816 401h1v1h-1zM817 400h1v1h-1zM818 399h1v1h-1zM819 398h1v1h-1zM820 398h1v1h-1zM821 397h1v1h-1zM822 397h1v1h-1zM823 397h1v1h-1zM824 397h1v1h-1zM825 397h1v1h-1zM826 397h1v1h-1zM827 398h1v1h-1zM828 398h1v1h-1zM829 398h1v1h-1zM830 399h1v1h-1zM831 400h1v2h-1zM832 402h1v1h-1zM833 403h1v1h-1zM834 404h1v1h-1zM835 405h1v1h-1zM836 405h1v1h-1zM837 406h1v1h-1zM838 407h1v1h-1zM839 407h1v1h-1zM840 408h1v1h-1zM841 408h1v1h-1zM842 408h1v1h-1zM843 408h1v1h-1zM844 408h1v1h-1zM845 408h1v1h-1zM846 407h1v1h-1zM847 405h1v2h-1zM848 404h1v1h-1zM849 403h1v1h-1zM850 403h1v1h-1zM851 402h1v1h-1zM852 402h1v1h-1zM853 401h1v2h-1zM854 399h1v2h-1zM855 397h1v2h-1zM856 395h1v2h-1zM857 392h1v3h-1zM858 390h1v2h-1zM859 387h1v3h-1zM860 385h1v2h-1zM861 382h1v3h-1zM862 380h1v2h-1zM863 378h1v2h-1zM864 376h1v2h-1zM865 374h1v2h-1zM866 373h1v1h-1zM867 371h1v2h-1zM868 370h1v1h-1zM869 369h1v1h-1zM870 368h1v1h-1zM871 366h1v2h-1zM872 365h1v1h-1zM873 364h1v2h-1zM874 366h1v2h-1zM875 368h1v3h-1zM876 371h1v2h-1zM877 373h1v3h-1zM878 376h1v2h-1zM879 378h1v3h-1zM880 381h1v2h-1zM881 383h1v3h-1zM882 386h1v4h-1zM883 390h1v4h-1zM884 394h1v4h-1zM885 398h1v3h-1zM886 401h1v3h-1zM887 404h1v4h-1zM888 408h1v3h-1zM889 411h1v3h-1zM890 414h1v3h-1zM891 417h1v3h-1zM892 420h1v3h-1zM893 423h1v2h-1zM894 425h1v2h-1zM895 427h1v2h-1zM896 429h1v2h-1zM897 431h1v1h-1zM898 432h1v1h-1zM899 433h1v2h-1zM900 435h1v1h-1zM901 436h1v1h-1zM902 435h1v1h-1zM903 435h1v1h-1zM904 434h1v1h-1zM905 434h1v1h-1zM906 433h1v1h-1zM907 432h1v1h-1zM908 431h1v1h-1zM909 430h1v1h-1zM910 428h1v2h-1zM911 427h1v1h-1zM912 425h1v2h-1zM913 424h1v1h-1zM914 422h1v2h-1zM915 420h1v2h-1zM916 418h1v2h-1zM917 416h1v2h-1zM918 415h1v1h-1zM919 414h1v1h-1zM920 414h1v1h-1zM921 413h1v1h-1zM922 413h1v1h-1zM923 412h1v1h-1zM924 412h1v1h-1zM925 412h1v1h-1zM926 413h1v1h-1zM927 413h1v1h-1zM928 414h1v1h-1zM929 414h1v1h-1zM930 415h1v1h-1zM931 416h1v1h-1zM932 417h1v1h-1zM933 418h1v1h-1zM934 419h1v1h-1zM935 420h1v1h-1zM936 420h1v1h-1zM937 421h1v1h-1zM938 421h1v1h-1zM939 420h1v1h-1zM940 420h1v1h-1zM941 420h1v1h-1zM942 420h1v1h-1zM943 420h1v1h-1zM944 420h1v1h-1zM945 420h1v1h-1zM946 420h1v1h-1zM947 421h1v1h-1zM948 421h1v1h-1zM949 421h1v1h-1zM950 422h1v1h-1zM951 423h1v1h-1zM952 424h1v1h-1zM953 425h1v1h-1zM954 426h1v1h-1zM955 427h1v1h-1zM956 427h1v1h-1zM957 428h1v1h-1zM958 429h1v1h-1zM959 430h1v2h-1zM960 432h1v1h-1zM961 433h1v1h-1zM962 434h1v1h-1zM963 435h1v2h-1zM964 437h1v1h-1zM965 438h1v1h-1zM966 439h1v1h-1zM967 440h1v1h-1zM968 441h1v1h-1zM969 442h1v1h-1zM970 443h1v1h-1zM971 443h1v1h-1zM972 444h1v1h-1zM973 444h1v1h-1zM974 445h1v1h-1zM975 446h1v1h-1zM976 447h1v1h-1zM977 448h1v1h-1zM978 449h1v1h-1zM979 450h1v2h-1zM980 452h1v1h-1zM981 453h1v2h-1zM982 455h1v2h-1zM983 457h1v2h-1zM984 459h1v2h-1zM985 461h1v2h-1zM986 463h1v2h-1zM987 465h1v2h-1zM988 467h1v2h-1zM989 469h1v2h-1zM990 471h1v2h-1zM991 473h1v2h-1zM992 475h1v2h-1zM993 477h1v1h-1zM994 478h1v2h-1zM995 480h1v2h-1zM996 482h1v2h-1zM997 484h1v1h-1zM998 485h1v1h-1zM999 486h1v1h-1zM1000 486h1v1h-1zM1001 487h1v1h-1zM1002 488h1v1h-1zM1003 489h1v1h-1zM1004 490h1v1h-1zM1005 491h1v1h-1zM1006 491h1v1h-1zM1007 491h1v1h-1zM1008 491h1v1h-1zM1009 491h1v1h-1zM1010 492h1v1h-1zM1011 493h1v1h-1zM1012 493h1v1h-1zM1013 494h1v1h-1zM1014 494h1v1h-1zM1015 494h1v1h-1zM1016 494h1v1h-1zM1017 494h1v1h-1zM1018 495h1v1h-1zM1019 496h1v1h-1zM1020 497h1v1h-1zM1021 498h1v1h-1zM1022 497h1v1h-1zM1023 496h1v1h-1zM1024 496h1v1h-1zM1025 495h1v1h-1zM1026 496h1v1h-1zM1027 497h1v1h-1zM1028 497h1v1h-1zM1029 498h1v1h-1zM1030 498h1v1h-1zM1031 497h1v1h-1zM1032 497h1v1h-1zM1033 497h1v1h-1zM1034 497h1v1h-1zM1035 497h1v1h-1zM1036 497h1v1h-1zM1037 497h1v1h-1zM1038 495h1v2h-1zM1039 493h1v2h-1zM1040 491h1v2h-1zM1041 490h1v1h-1zM1042 488h1v2h-1zM1043 486h1v2h-1zM1044 484h1v2h-1zM1045 482h1v2h-1zM1046 480h1v2h-1zM1047 478h1v2h-1zM1048 476h1v2h-1zM1049 475h1v1h-1zM1050 474h1v1h-1zM1051 473h1v1h-1zM1052 473h1v1h-1zM1053 472h1v1h-1zM1054 471h1v1h-1zM1055 471h1v1h-1zM1056 470h1v1h-1zM1057 470h1v1h-1zM1058 470h1v1h-1zM1059 470h1v1h-1zM1060 470h1v1h-1zM1061 470h1v1h-1zM1062 471h1v2h-1zM1063 473h1v1h-1zM1064 474h1v2h-1zM1065 476h1v1h-1zM1066 477h1v1h-1zM1067 478h1v2h-1zM1068 480h1v1h-1zM1069 481h1v1h-1zM1070 482h1v1h-1zM1071 483h1v2h-1zM1072 485h1v1h-1zM1073 486h1v1h-1zM1074 487h1v2h-1zM1075 489h1v1h-1zM1076 490h1v2h-1zM1077 492h1v1h-1zM1078 493h1v2h-1zM1079 495h1v1h-1zM1080 496h1v2h-1zM1081 498h1v1h-1zM1082 499h1v1h-1zM1083 500h1v1h-1zM1084 500h1v1h-1zM1085 501h1v1h-1zM1086 502h1v1h-1zM1087 503h1v1h-1zM1088 503h1v1h-1zM1089 504h1v1h-1zM1090 504h1v1h-1zM1091 505h1v1h-1zM1092 505h1v1h-1zM1093 505h1v1h-1zM1094 505h1v1h-1zM1095 506h1v1h-1zM1096 506h1v1h-1zM1097 506h1v1h-1zM1098 506h1v1h-1zM1099 507h1v1h-1zM1100 507h1v1h-1zM1101 507h1v1h-1zM1102 506h1v1h-1zM1103 505h1v1h-1zM1104 505h1v1h-1zM1105 504h1v1h-1zM1106 503h1v1h-1zM1107 502h1v1h-1zM1108 502h1v1h-1zM1109 501h1v1h-1zM1110 501h1v1h-1zM1111 501h1v1h-1zM1112 501h1v1h-1zM1113 501h1v1h-1zM1114 502h1v1h-1zM1115 502h1v1h-1zM1116 503h1v1h-1zM1117 503h1v1h-1zM1118 502h1v1h-1zM1119 502h1v1h-1zM1120 501h1v1h-1zM1121 501h1v1h-1zM1122 502h1v1h-1zM1123 503h1v1h-1zM1124 503h1v1h-1zM1125 504h1v1h-1zM1126 504h1v1h-1zM1127 504h1v1h-1zM1128 504h1v1h-1zM1129 504h1v1h-1zM1130 504h1v1h-1zM1131 504h1v1h-1zM1132 504h1v1h-1zM1133 504h1v1h-1zM1134 504h1v1h-1zM1135 504h1v1h-1zM1136 504h1v1h-1zM1137 504h1v1h-1zM1138 505h1v2h-1zM1139 507h1v2h-1zM1140 509h1v2h-1zM1141 511h1v1h-1zM1142 511h1v1h-1zM1143 511h1v1h-1zM1144 511h1v1h-1zM1145 511h1v1h-1zM1146 512h1v1h-1zM1147 512h1v1h-1zM1148 513h1v1h-1zM1149 513h1v1h-1zM1150 513h1v1h-1zM1151 512h1v1h-1zM1152 512h1v1h-1zM1153 512h1v1h-1zM1154 511h1v1h-1zM1155 510h1v1h-1zM1156 509h1v1h-1zM1157 508h1v1h-1zM1158 506h1v2h-1zM1159 504h1v2h-1zM1160 502h1v2h-1zM1161 501h1v1h-1zM1162 500h1v1h-1zM1163 498h1v2h-1zM1164 497h1v1h-1zM1165 496h1v1h-1zM1166 496h1v1h-1zM1167 495h1v1h-1zM1168 495h1v1h-1zM1169 495h1v1h-1zM1170 494h1v1h-1zM1171 493h1v1h-1zM1172 493h1v1h-1zM1173 492h1v1h-1zM1174 490h1v2h-1zM1175 489h1v1h-1zM1176 487h1v2h-1zM1177 486h1v1h-1zM1178 485h1v1h-1zM1179 485h1v1h-1zM1180 484h1v1h-1zM1181 484h1v1h-1zM1182 484h1v1h-1zM1183 485h1v1h-1zM1184 485h1v1h-1zM1185 485h1v1h-1zM1186 484h1v1h-1zM1187 483h1v1h-1zM1188 483h1v1h-1zM1189 482h1v1h-1zM1190 482h1v1h-1zM1191 483h1v1h-1zM1192 483h1v1h-1zM1193 483h1v1h-1zM1194 484h1v1h-1zM1195 485h1v1h-1zM1196 485h1v1h-1zM1197 486h1v1h-1zM1198 487h1v1h-1zM1199 488h1v1h-1zM1200 489h1v1h-1zM1201 490h1v1h-1zM1202 491h1v1h-1zM1203 492h1v1h-1zM1204 492h1v1h-1zM1205 493h1v1h-1zM1206 494h1v2h-1zM1207 496h1v2h-1zM1208 498h1v2h-1zM1209 500h1v1h-1zM1210 501h1v1h-1zM1211 502h1v1h-1zM1212 503h1v1h-1zM1213 504h1v1h-1zM1214 505h1v1h-1zM1215 506h1v1h-1zM1216 506h1v1h-1zM1217 507h1v1h-1zM1218 508h1v1h-1zM1219 509h1v1h-1zM1220 509h1v1h-1zM1221 510h1v1h-1zM1222 511h1v1h-1zM1223 512h1v1h-1zM1224 513h1v1h-1zM1225 514h1v1h-1zM1226 514h1v1h-1zM1227 513h1v1h-1zM1228 513h1v1h-1zM1229 513h1v1h-1zM1230 512h1v1h-1zM1231 512h1v1h-1zM1232 511h1v1h-1zM1233 511h1v1h-1zM1234 511h1v1h-1zM1235 511h1v1h-1zM1236 511h1v1h-1zM1237 511h1v1h-1zM1238 512h1v1h-1zM1239 513h1v2h-1zM1240 515h1v1h-1zM1241 516h1v1h-1zM1242 516h1v1h-1zM1243 517h1v1h-1zM1244 517h1v1h-1zM1245 517h1v1h-1zM1246 518h1v1h-1zM1247 519h1v1h-1zM1248 519h1v1h-1zM1249 520h1v1h-1zM1250 521h1v2h-1zM1251 523h1v1h-1zM1252 524h1v2h-1zM1253 526h1v1h-1z" fill="#ffa500" shape-rendering="crispEdges"/></g><rect x="1579" y="526" width="41" height="11" fill="#000"/><text x="1583" y="535" font-size="9.5" fill="#fff" stroke="#fff" stroke-width="0.15" textLength="32.0" lengthAdjust="spacingAndGlyphs">1.26081</text><rect x="1" y="340" width="1576" height="2" fill="#ff0000"/><rect x="1579" y="335" width="41" height="11" fill="#ff0000"/><text x="1583" y="344" font-size="9.5" fill="#fff" stroke="#fff" stroke-width="0.15" textLength="32.0" lengthAdjust="spacingAndGlyphs">1.34206</text><rect x="1" y="386" width="1576" height="2" fill="#ff0000"/><rect x="0" y="384" width="6" height="6" fill="#ff0000"/><rect x="2" y="386" width="2" height="2" fill="#fff"/><rect x="1571" y="384" width="6" height="6" fill="#ff0000"/><rect x="1573" y="386" width="2" height="2" fill="#fff"/><rect x="1579" y="381" width="41" height="11" fill="#ff0000"/><text x="1583" y="390" font-size="9.5" fill="#fff" stroke="#fff" stroke-width="0.15" textLength="32.0" lengthAdjust="spacingAndGlyphs">1.32237</text><rect x="1" y="428" width="1576" height="2" fill="#ff0000"/><rect x="0" y="426" width="6" height="6" fill="#ff0000"/><rect x="2" y="428" width="2" height="2" fill="#fff"/><rect x="1571" y="426" width="6" height="6" fill="#ff0000"/><rect x="1573" y="428" width="2" height="2" fill="#fff"/><rect x="1579" y="423" width="41" height="11" fill="#ff0000"/><text x="1583" y="432" font-size="9.5" fill="#fff" stroke="#fff" stroke-width="0.15" textLength="32.0" lengthAdjust="spacingAndGlyphs">1.30409</text><rect x="1" y="470" width="1576" height="2" fill="#00ff00"/><rect x="0" y="468" width="6" height="6" fill="#00ff00"/><rect x="2" y="470" width="2" height="2" fill="#fff"/><rect x="1571" y="468" width="6" height="6" fill="#00ff00"/><rect x="1573" y="470" width="2" height="2" fill="#fff"/><rect x="1579" y="465" width="41" height="11" fill="#00ff00"/><text x="1583" y="474" font-size="9.5" fill="#fff" stroke="#fff" stroke-width="0.15" textLength="32.0" lengthAdjust="spacingAndGlyphs">1.28607</text><rect x="1" y="526" width="1576" height="2" fill="#0000ff"/><rect x="0" y="524" width="6" height="6" fill="#0000ff"/><rect x="2" y="526" width="2" height="2" fill="#fff"/><rect x="1571" y="524" width="6" height="6" fill="#0000ff"/><rect x="1573" y="526" width="2" height="2" fill="#fff"/><rect x="1579" y="521" width="41" height="11" fill="#0000ff"/><text x="1583" y="530" font-size="9.5" fill="#fff" stroke="#fff" stroke-width="0.15" textLength="32.0" lengthAdjust="spacingAndGlyphs">1.26243</text><path d="M4 30 L11 30 L7.5 34 Z" fill="#000"/><text x="16.3" y="35" font-size="10" fill="#000" stroke="#000" stroke-width="0.15" textLength="65.2" lengthAdjust="spacingAndGlyphs">USDCAD,Daily</text><text x="88.5" y="35" font-size="10" fill="#000" stroke="#000" stroke-width="0.15" textLength="140.2" lengthAdjust="spacingAndGlyphs">1.26136 1.26255 1.25928 1.26081</text><g fill="#c0c0c0"><rect x="2" y="582" width="3" height="1"/><rect x="2" y="619" width="3" height="1"/><rect x="8" y="582" width="3" height="1"/><rect x="8" y="619" width="3" height="1"/><rect x="14" y="582" width="3" height="1"/><rect x="14" y="619" width="3" height="1"/><rect x="20" y="582" width="3" height="1"/><rect x="20" y="619" width="3" height="1"/><rect x="26" y="582" width="3" height="1"/><rect x="26" y="619" width="3" height="1"/><rect x="32" y="582" width="3" height="1"/><rect x="32" y="619" width="3" height="1"/><rect x="38" y="582" width="3" height="1"/><rect x="38" y="619" width="3" height="1"/><rect x="44" y="582" width="3" height="1"/><rect x="44" y="619" width="3" height="1"/><rect x="50" y="582" width="3" height="1"/><rect x="50" y="619" width="3" height="1"/><rect x="56" y="582" width="3" height="1"/><rect x="56" y="619" width="3" height="1"/><rect x="62" y="582" width="3" height="1"/><rect x="62" y="619" width="3" height="1"/><rect x="68" y="582" width="3" height="1"/><rect x="68" y="619" width="3" height="1"/><rect x="74" y="582" width="3" height="1"/><rect x="74" y="619" width="3" height="1"/><rect x="80" y="582" width="3" height="1"/><rect x="80" y="619" width="3" height="1"/><rect x="86" y="582" width="3" height="1"/><rect x="86" y="619" width="3" height="1"/><rect x="92" y="582" width="3" height="1"/><rect x="92" y="619" width="3" height="1"/><rect x="98" y="582" width="3" height="1"/><rect x="98" y="619" width="3" height="1"/><rect x="104" y="582" width="3" height="1"/><rect x="104" y="619" width="3" height="1"/><rect x="110" y="582" width="3" height="1"/><rect x="110" y="619" width="3" height="1"/><rect x="116" y="582" width="3" height="1"/><rect x="116" y="619" width="3" height="1"/><rect x="122" y="582" width="3" height="1"/><rect x="122" y="619" width="3" height="1"/><rect x="128" y="582" width="3" height="1"/><rect x="128" y="619" width="3" height="1"/><rect x="134" y="582" width="3" height="1"/><rect x="134" y="619" width="3" height="1"/><rect x="140" y="582" width="3" height="1"/><rect x="140" y="619" width="3" height="1"/><rect x="146" y="582" width="3" height="1"/><rect x="146" y="619" width="3" height="1"/><rect x="152" y="582" width="3" height="1"/><rect x="152" y="619" width="3" height="1"/><rect x="158" y="582" width="3" height="1"/><rect x="158" y="619" width="3" height="1"/><rect x="164" y="582" width="3" height="1"/><rect x="164" y="619" width="3" height="1"/><rect x="170" y="582" width="3" height="1"/><rect x="170" y="619" width="3" height="1"/><rect x="176" y="582" width="3" height="1"/><rect x="176" y="619" width="3" height="1"/><rect x="182" y="582" width="3" height="1"/><rect x="182" y="619" width="3" height="1"/><rect x="188" y="582" width="3" height="1"/><rect x="188" y="619" width="3" height="1"/><rect x="194" y="582" width="3" height="1"/><rect x="194" y="619" width="3" height="1"/><rect x="200" y="582" width="3" height="1"/><rect x="200" y="619" width="3" height="1"/><rect x="206" y="582" width="3" height="1"/><rect x="206" y="619" width="3" height="1"/><rect x="212" y="582" width="3" height="1"/><rect x="212" y="619" width="3" height="1"/><rect x="218" y="582" width="3" height="1"/><rect x="218" y="619" width="3" height="1"/><rect x="224" y="582" width="3" height="1"/><rect x="224" y="619" width="3" height="1"/><rect x="230" y="582" width="3" height="1"/><rect x="230" y="619" width="3" height="1"/><rect x="236" y="582" width="3" height="1"/><rect x="236" y="619" width="3" height="1"/><rect x="242" y="582" width="3" height="1"/><rect x="242" y="619" width="3" height="1"/><rect x="248" y="582" width="3" height="1"/><rect x="248" y="619" width="3" height="1"/><rect x="254" y="582" width="3" height="1"/><rect x="254" y="619" width="3" height="1"/><rect x="260" y="582" width="3" height="1"/><rect x="260" y="619" width="3" height="1"/><rect x="266" y="582" width="3" height="1"/><rect x="266" y="619" width="3" height="1"/><rect x="272" y="582" width="3" height="1"/><rect x="272" y="619" width="3" height="1"/><rect x="278" y="582" width="3" height="1"/><rect x="278" y="619" width="3" height="1"/><rect x="284" y="582" width="3" height="1"/><rect x="284" y="619" width="3" height="1"/><rect x="290" y="582" width="3" height="1"/><rect x="290" y="619" width="3" height="1"/><rect x="296" y="582" width="3" height="1"/><rect x="296" y="619" width="3" height="1"/><rect x="302" y="582" width="3" height="1"/><rect x="302" y="619" width="3" height="1"/><rect x="308" y="582" width="3" height="1"/><rect x="308" y="619" width="3" height="1"/><rect x="314" y="582" width="3" height="1"/><rect x="314" y="619" width="3" height="1"/><rect x="320" y="582" width="3" height="1"/><rect x="320" y="619" width="3" height="1"/><rect x="326" y="582" width="3" height="1"/><rect x="326" y="619" width="3" height="1"/><rect x="332" y="582" width="3" height="1"/><rect x="332" y="619" width="3" height="1"/><rect x="338" y="582" width="3" height="1"/><rect x="338" y="619" width="3" height="1"/><rect x="344" y="582" width="3" height="1"/><rect x="344" y="619" width="3" height="1"/><rect x="350" y="582" width="3" height="1"/><rect x="350" y="619" width="3" height="1"/><rect x="356" y="582" width="3" height="1"/><rect x="356" y="619" width="3" height="1"/><rect x="362" y="582" width="3" height="1"/><rect x="362" y="619" width="3" height="1"/><rect x="368" y="582" width="3" height="1"/><rect x="368" y="619" width="3" height="1"/><rect x="374" y="582" width="3" height="1"/><rect x="374" y="619" width="3" height="1"/><rect x="380" y="582" width="3" height="1"/><rect x="380" y="619" width="3" height="1"/><rect x="386" y="582" width="3" height="1"/><rect x="386" y="619" width="3" height="1"/><rect x="392" y="582" width="3" height="1"/><rect x="392" y="619" width="3" height="1"/><rect x="398" y="582" width="3" height="1"/><rect x="398" y="619" width="3" height="1"/><rect x="404" y="582" width="3" height="1"/><rect x="404" y="619" width="3" height="1"/><rect x="410" y="582" width="3" height="1"/><rect x="410" y="619" width="3" height="1"/><rect x="416" y="582" width="3" height="1"/><rect x="416" y="619" width="3" height="1"/><rect x="422" y="582" width="3" height="1"/><rect x="422" y="619" width="3" height="1"/><rect x="428" y="582" width="3" height="1"/><rect x="428" y="619" width="3" height="1"/><rect x="434" y="582" width="3" height="1"/><rect x="434" y="619" width="3" height="1"/><rect x="440" y="582" width="3" height="1"/><rect x="440" y="619" width="3" height="1"/><rect x="446" y="582" width="3" height="1"/><rect x="446" y="619" width="3" height="1"/><rect x="452" y="582" width="3" height="1"/><rect x="452" y="619" width="3" height="1"/><rect x="458" y="582" width="3" height="1"/><rect x="458" y="619" width="3" height="1"/><rect x="464" y="582" width="3" height="1"/><rect x="464" y="619" width="3" height="1"/><rect x="470" y="582" width="3" height="1"/><rect x="470" y="619" width="3" height="1"/><rect x="476" y="582" width="3" height="1"/><rect x="476" y="619" width="3" height="1"/><rect x="482" y="582" width="3" height="1"/><rect x="482" y="619" width="3" height="1"/><rect x="488" y="582" width="3" height="1"/><rect x="488" y="619" width="3" height="1"/><rect x="494" y="582" width="3" height="1"/><rect x="494" y="619" width="3" height="1"/><rect x="500" y="582" width="3" height="1"/><rect x="500" y="619" width="3" height="1"/><rect x="506" y="582" width="3" height="1"/><rect x="506" y="619" width="3" height="1"/><rect x="512" y="582" width="3" height="1"/><rect x="512" y="619" width="3" height="1"/><rect x="518" y="582" width="3" height="1"/><rect x="518" y="619" width="3" height="1"/><rect x="524" y="582" width="3" height="1"/><rect x="524" y="619" width="3" height="1"/><rect x="530" y="582" width="3" height="1"/><rect x="530" y="619" width="3" height="1"/><rect x="536" y="582" width="3" height="1"/><rect x="536" y="619" width="3" height="1"/><rect x="542" y="582" width="3" height="1"/><rect x="542" y="619" width="3" height="1"/><rect x="548" y="582" width="3" height="1"/><rect x="548" y="619" width="3" height="1"/><rect x="554" y="582" width="3" height="1"/><rect x="554" y="619" width="3" height="1"/><rect x="560" y="582" width="3" height="1"/><rect x="560" y="619" width="3" height="1"/><rect x="566" y="582" width="3" height="1"/><rect x="566" y="619" width="3" height="1"/><rect x="572" y="582" width="3" height="1"/><rect x="572" y="619" width="3" height="1"/><rect x="578" y="582" width="3" height="1"/><rect x="578" y="619" width="3" height="1"/><rect x="584" y="582" width="3" height="1"/><rect x="584" y="619" width="3" height="1"/><rect x="590" y="582" width="3" height="1"/><rect x="590" y="619" width="3" height="1"/><rect x="596" y="582" width="3" height="1"/><rect x="596" y="619" width="3" height="1"/><rect x="602" y="582" width="3" height="1"/><rect x="602" y="619" width="3" height="1"/><rect x="608" y="582" width="3" height="1"/><rect x="608" y="619" width="3" height="1"/><rect x="614" y="582" width="3" height="1"/><rect x="614" y="619" width="3" height="1"/><rect x="620" y="582" width="3" height="1"/><rect x="620" y="619" width="3" height="1"/><rect x="626" y="582" width="3" height="1"/><rect x="626" y="619" width="3" height="1"/><rect x="632" y="582" width="3" height="1"/><rect x="632" y="619" width="3" height="1"/><rect x="638" y="582" width="3" height="1"/><rect x="638" y="619" width="3" height="1"/><rect x="644" y="582" width="3" height="1"/><rect x="644" y="619" width="3" height="1"/><rect x="650" y="582" width="3" height="1"/><rect x="650" y="619" width="3" height="1"/><rect x="656" y="582" width="3" height="1"/><rect x="656" y="619" width="3" height="1"/><rect x="662" y="582" width="3" height="1"/><rect x="662" y="619" width="3" height="1"/><rect x="668" y="582" width="3" height="1"/><rect x="668" y="619" width="3" height="1"/><rect x="674" y="582" width="3" height="1"/><rect x="674" y="619" width="3" height="1"/><rect x="680" y="582" width="3" height="1"/><rect x="680" y="619" width="3" height="1"/><rect x="686" y="582" width="3" height="1"/><rect x="686" y="619" width="3" height="1"/><rect x="692" y="582" width="3" height="1"/><rect x="692" y="619" width="3" height="1"/><rect x="698" y="582" width="3" height="1"/><rect x="698" y="619" width="3" height="1"/><rect x="704" y="582" width="3" height="1"/><rect x="704" y="619" width="3" height="1"/><rect x="710" y="582" width="3" height="1"/><rect x="710" y="619" width="3" height="1"/><rect x="716" y="582" width="3" height="1"/><rect x="716" y="619" width="3" height="1"/><rect x="722" y="582" width="3" height="1"/><rect x="722" y="619" width="3" height="1"/><rect x="728" y="582" width="3" height="1"/><rect x="728" y="619" width="3" height="1"/><rect x="734" y="582" width="3" height="1"/><rect x="734" y="619" width="3" height="1"/><rect x="740" y="582" width="3" height="1"/><rect x="740" y="619" width="3" height="1"/><rect x="746" y="582" width="3" height="1"/><rect x="746" y="619" width="3" height="1"/><rect x="752" y="582" width="3" height="1"/><rect x="752" y="619" width="3" height="1"/><rect x="758" y="582" width="3" height="1"/><rect x="758" y="619" width="3" height="1"/><rect x="764" y="582" width="3" height="1"/><rect x="764" y="619" width="3" height="1"/><rect x="770" y="582" width="3" height="1"/><rect x="770" y="619" width="3" height="1"/><rect x="776" y="582" width="3" height="1"/><rect x="776" y="619" width="3" height="1"/><rect x="782" y="582" width="3" height="1"/><rect x="782" y="619" width="3" height="1"/><rect x="788" y="582" width="3" height="1"/><rect x="788" y="619" width="3" height="1"/><rect x="794" y="582" width="3" height="1"/><rect x="794" y="619" width="3" height="1"/><rect x="800" y="582" width="3" height="1"/><rect x="800" y="619" width="3" height="1"/><rect x="806" y="582" width="3" height="1"/><rect x="806" y="619" width="3" height="1"/><rect x="812" y="582" width="3" height="1"/><rect x="812" y="619" width="3" height="1"/><rect x="818" y="582" width="3" height="1"/><rect x="818" y="619" width="3" height="1"/><rect x="824" y="582" width="3" height="1"/><rect x="824" y="619" width="3" height="1"/><rect x="830" y="582" width="3" height="1"/><rect x="830" y="619" width="3" height="1"/><rect x="836" y="582" width="3" height="1"/><rect x="836" y="619" width="3" height="1"/><rect x="842" y="582" width="3" height="1"/><rect x="842" y="619" width="3" height="1"/><rect x="848" y="582" width="3" height="1"/><rect x="848" y="619" width="3" height="1"/><rect x="854" y="582" width="3" height="1"/><rect x="854" y="619" width="3" height="1"/><rect x="860" y="582" width="3" height="1"/><rect x="860" y="619" width="3" height="1"/><rect x="866" y="582" width="3" height="1"/><rect x="866" y="619" width="3" height="1"/><rect x="872" y="582" width="3" height="1"/><rect x="872" y="619" width="3" height="1"/><rect x="878" y="582" width="3" height="1"/><rect x="878" y="619" width="3" height="1"/><rect x="884" y="582" width="3" height="1"/><rect x="884" y="619" width="3" height="1"/><rect x="890" y="582" width="3" height="1"/><rect x="890" y="619" width="3" height="1"/><rect x="896" y="582" width="3" height="1"/><rect x="896" y="619" width="3" height="1"/><rect x="902" y="582" width="3" height="1"/><rect x="902" y="619" width="3" height="1"/><rect x="908" y="582" width="3" height="1"/><rect x="908" y="619" width="3" height="1"/><rect x="914" y="582" width="3" height="1"/><rect x="914" y="619" width="3" height="1"/><rect x="920" y="582" width="3" height="1"/><rect x="920" y="619" width="3" height="1"/><rect x="926" y="582" width="3" height="1"/><rect x="926" y="619" width="3" height="1"/><rect x="932" y="582" width="3" height="1"/><rect x="932" y="619" width="3" height="1"/><rect x="938" y="582" width="3" height="1"/><rect x="938" y="619" width="3" height="1"/><rect x="944" y="582" width="3" height="1"/><rect x="944" y="619" width="3" height="1"/><rect x="950" y="582" width="3" height="1"/><rect x="950" y="619" width="3" height="1"/><rect x="956" y="582" width="3" height="1"/><rect x="956" y="619" width="3" height="1"/><rect x="962" y="582" width="3" height="1"/><rect x="962" y="619" width="3" height="1"/><rect x="968" y="582" width="3" height="1"/><rect x="968" y="619" width="3" height="1"/><rect x="974" y="582" width="3" height="1"/><rect x="974" y="619" width="3" height="1"/><rect x="980" y="582" width="3" height="1"/><rect x="980" y="619" width="3" height="1"/><rect x="986" y="582" width="3" height="1"/><rect x="986" y="619" width="3" height="1"/><rect x="992" y="582" width="3" height="1"/><rect x="992" y="619" width="3" height="1"/><rect x="998" y="582" width="3" height="1"/><rect x="998" y="619" width="3" height="1"/><rect x="1004" y="582" width="3" height="1"/><rect x="1004" y="619" width="3" height="1"/><rect x="1010" y="582" width="3" height="1"/><rect x="1010" y="619" width="3" height="1"/><rect x="1016" y="582" width="3" height="1"/><rect x="1016" y="619" width="3" height="1"/><rect x="1022" y="582" width="3" height="1"/><rect x="1022" y="619" width="3" height="1"/><rect x="1028" y="582" width="3" height="1"/><rect x="1028" y="619" width="3" height="1"/><rect x="1034" y="582" width="3" height="1"/><rect x="1034" y="619" width="3" height="1"/><rect x="1040" y="582" width="3" height="1"/><rect x="1040" y="619" width="3" height="1"/><rect x="1046" y="582" width="3" height="1"/><rect x="1046" y="619" width="3" height="1"/><rect x="1052" y="582" width="3" height="1"/><rect x="1052" y="619" width="3" height="1"/><rect x="1058" y="582" width="3" height="1"/><rect x="1058" y="619" width="3" height="1"/><rect x="1064" y="582" width="3" height="1"/><rect x="1064" y="619" width="3" height="1"/><rect x="1070" y="582" width="3" height="1"/><rect x="1070" y="619" width="3" height="1"/><rect x="1076" y="582" width="3" height="1"/><rect x="1076" y="619" width="3" height="1"/><rect x="1082" y="582" width="3" height="1"/><rect x="1082" y="619" width="3" height="1"/><rect x="1088" y="582" width="3" height="1"/><rect x="1088" y="619" width="3" height="1"/><rect x="1094" y="582" width="3" height="1"/><rect x="1094" y="619" width="3" height="1"/><rect x="1100" y="582" width="3" height="1"/><rect x="1100" y="619" width="3" height="1"/><rect x="1106" y="582" width="3" height="1"/><rect x="1106" y="619" width="3" height="1"/><rect x="1112" y="582" width="3" height="1"/><rect x="1112" y="619" width="3" height="1"/><rect x="1118" y="582" width="3" height="1"/><rect x="1118" y="619" width="3" height="1"/><rect x="1124" y="582" width="3" height="1"/><rect x="1124" y="619" width="3" height="1"/><rect x="1130" y="582" width="3" height="1"/><rect x="1130" y="619" width="3" height="1"/><rect x="1136" y="582" width="3" height="1"/><rect x="1136" y="619" width="3" height="1"/><rect x="1142" y="582" width="3" height="1"/><rect x="1142" y="619" width="3" height="1"/><rect x="1148" y="582" width="3" height="1"/><rect x="1148" y="619" width="3" height="1"/><rect x="1154" y="582" width="3" height="1"/><rect x="1154" y="619" width="3" height="1"/><rect x="1160" y="582" width="3" height="1"/><rect x="1160" y="619" width="3" height="1"/><rect x="1166" y="582" width="3" height="1"/><rect x="1166" y="619" width="3" height="1"/><rect x="1172" y="582" width="3" height="1"/><rect x="1172" y="619" width="3" height="1"/><rect x="1178" y="582" width="3" height="1"/><rect x="1178" y="619" width="3" height="1"/><rect x="1184" y="582" width="3" height="1"/><rect x="1184" y="619" width="3" height="1"/><rect x="1190" y="582" width="3" height="1"/><rect x="1190" y="619" width="3" height="1"/><rect x="1196" y="582" width="3" height="1"/><rect x="1196" y="619" width="3" height="1"/><rect x="1202" y="582" width="3" height="1"/><rect x="1202" y="619" width="3" height="1"/><rect x="1208" y="582" width="3" height="1"/><rect x="1208" y="619" width="3" height="1"/><rect x="1214" y="582" width="3" height="1"/><rect x="1214" y="619" width="3" height="1"/><rect x="1220" y="582" width="3" height="1"/><rect x="1220" y="619" width="3" height="1"/><rect x="1226" y="582" width="3" height="1"/><rect x="1226" y="619" width="3" height="1"/><rect x="1232" y="582" width="3" height="1"/><rect x="1232" y="619" width="3" height="1"/><rect x="1238" y="582" width="3" height="1"/><rect x="1238" y="619" width="3" height="1"/><rect x="1244" y="582" width="3" height="1"/><rect x="1244" y="619" width="3" height="1"/><rect x="1250" y="582" width="3" height="1"/><rect x="1250" y="619" width="3" height="1"/><rect x="1256" y="582" width="3" height="1"/><rect x="1256" y="619" width="3" height="1"/><rect x="1262" y="582" width="3" height="1"/><rect x="1262" y="619" width="3" height="1"/><rect x="1268" y="582" width="3" height="1"/><rect x="1268" y="619" width="3" height="1"/><rect x="1274" y="582" width="3" height="1"/><rect x="1274" y="619" width="3" height="1"/><rect x="1280" y="582" width="3" height="1"/><rect x="1280" y="619" width="3" height="1"/><rect x="1286" y="582" width="3" height="1"/><rect x="1286" y="619" width="3" height="1"/><rect x="1292" y="582" width="3" height="1"/><rect x="1292" y="619" width="3" height="1"/><rect x="1298" y="582" width="3" height="1"/><rect x="1298" y="619" width="3" height="1"/><rect x="1304" y="582" width="3" height="1"/><rect x="1304" y="619" width="3" height="1"/><rect x="1310" y="582" width="3" height="1"/><rect x="1310" y="619" width="3" height="1"/><rect x="1316" y="582" width="3" height="1"/><rect x="1316" y="619" width="3" height="1"/><rect x="1322" y="582" width="3" height="1"/><rect x="1322" y="619" width="3" height="1"/><rect x="1328" y="582" width="3" height="1"/><rect x="1328" y="619" width="3" height="1"/><rect x="1334" y="582" width="3" height="1"/><rect x="1334" y="619" width="3" height="1"/><rect x="1340" y="582" width="3" height="1"/><rect x="1340" y="619" width="3" height="1"/><rect x="1346" y="582" width="3" height="1"/><rect x="1346" y="619" width="3" height="1"/><rect x="1352" y="582" width="3" height="1"/><rect x="1352" y="619" width="3" height="1"/><rect x="1358" y="582" width="3" height="1"/><rect x="1358" y="619" width="3" height="1"/><rect x="1364" y="582" width="3" height="1"/><rect x="1364" y="619" width="3" height="1"/><rect x="1370" y="582" width="3" height="1"/><rect x="1370" y="619" width="3" height="1"/><rect x="1376" y="582" width="3" height="1"/><rect x="1376" y="619" width="3" height="1"/><rect x="1382" y="582" width="3" height="1"/><rect x="1382" y="619" width="3" height="1"/><rect x="1388" y="582" width="3" height="1"/><rect x="1388" y="619" width="3" height="1"/><rect x="1394" y="582" width="3" height="1"/><rect x="1394" y="619" width="3" height="1"/><rect x="1400" y="582" width="3" height="1"/><rect x="1400" y="619" width="3" height="1"/><rect x="1406" y="582" width="3" height="1"/><rect x="1406" y="619" width="3" height="1"/><rect x="1412" y="582" width="3" height="1"/><rect x="1412" y="619" width="3" height="1"/><rect x="1418" y="582" width="3" height="1"/><rect x="1418" y="619" width="3" height="1"/><rect x="1424" y="582" width="3" height="1"/><rect x="1424" y="619" width="3" height="1"/><rect x="1430" y="582" width="3" height="1"/><rect x="1430" y="619" width="3" height="1"/><rect x="1436" y="582" width="3" height="1"/><rect x="1436" y="619" width="3" height="1"/><rect x="1442" y="582" width="3" height="1"/><rect x="1442" y="619" width="3" height="1"/><rect x="1448" y="582" width="3" height="1"/><rect x="1448" y="619" width="3" height="1"/><rect x="1454" y="582" width="3" height="1"/><rect x="1454" y="619" width="3" height="1"/><rect x="1460" y="582" width="3" height="1"/><rect x="1460" y="619" width="3" height="1"/><rect x="1466" y="582" width="3" height="1"/><rect x="1466" y="619" width="3" height="1"/><rect x="1472" y="582" width="3" height="1"/><rect x="1472" y="619" width="3" height="1"/><rect x="1478" y="582" width="3" height="1"/><rect x="1478" y="619" width="3" height="1"/><rect x="1484" y="582" width="3" height="1"/><rect x="1484" y="619" width="3" height="1"/><rect x="1490" y="582" width="3" height="1"/><rect x="1490" y="619" width="3" height="1"/><rect x="1496" y="582" width="3" height="1"/><rect x="1496" y="619" width="3" height="1"/><rect x="1502" y="582" width="3" height="1"/><rect x="1502" y="619" width="3" height="1"/><rect x="1508" y="582" width="3" height="1"/><rect x="1508" y="619" width="3" height="1"/><rect x="1514" y="582" width="3" height="1"/><rect x="1514" y="619" width="3" height="1"/><rect x="1520" y="582" width="3" height="1"/><rect x="1520" y="619" width="3" height="1"/><rect x="1526" y="582" width="3" height="1"/><rect x="1526" y="619" width="3" height="1"/><rect x="1532" y="582" width="3" height="1"/><rect x="1532" y="619" width="3" height="1"/><rect x="1538" y="582" width="3" height="1"/><rect x="1538" y="619" width="3" height="1"/><rect x="1544" y="582" width="3" height="1"/><rect x="1544" y="619" width="3" height="1"/><rect x="1550" y="582" width="3" height="1"/><rect x="1550" y="619" width="3" height="1"/><rect x="1556" y="582" width="3" height="1"/><rect x="1556" y="619" width="3" height="1"/><rect x="1562" y="582" width="3" height="1"/><rect x="1562" y="619" width="3" height="1"/><rect x="1568" y="582" width="3" height="1"/><rect x="1568" y="619" width="3" height="1"/><rect x="1574" y="582" width="3" height="1"/><rect x="1574" y="619" width="3" height="1"/></g><g clip-path="url(#cr)"><path d="M1 601h1v1h-1zM2 602h1v1h-1zM3 603h1v1h-1zM4 604h1v1h-1zM5 604h1v2h-1zM6 601h1v3h-1zM7 598h1v3h-1zM8 595h1v3h-1zM9 593h1v2h-1zM10 592h1v1h-1zM11 591h1v1h-1zM12 590h1v1h-1zM13 589h1v1h-1zM14 588h1v1h-1zM15 588h1v1h-1zM16 587h1v1h-1zM17 587h1v1h-1zM18 585h1v2h-1zM19 584h1v1h-1zM20 582h1v2h-1zM21 581h1v1h-1zM22 580h1v1h-1zM23 578h1v2h-1zM24 577h1v1h-1zM25 576h1v1h-1zM26 577h1v1h-1zM27 578h1v1h-1zM28 579h1v1h-1zM29 580h1v1h-1zM30 581h1v1h-1zM31 581h1v1h-1zM32 582h1v1h-1zM33 582h1v2h-1zM34 584h1v3h-1zM35 587h1v2h-1zM36 589h1v3h-1zM37 592h1v2h-1zM38 591h1v2h-1zM39 589h1v2h-1zM40 587h1v2h-1zM41 586h1v1h-1zM42 586h1v1h-1zM43 586h1v1h-1zM44 586h1v1h-1zM45 586h1v1h-1zM46 585h1v1h-1zM47 584h1v1h-1zM48 584h1v1h-1zM49 583h1v1h-1zM50 584h1v1h-1zM51 585h1v2h-1zM52 587h1v1h-1zM53 587h1v2h-1zM54 585h1v2h-1zM55 583h1v2h-1zM56 581h1v2h-1zM57 578h1v3h-1zM58 576h1v2h-1zM59 573h1v3h-1zM60 571h1v2h-1zM61 569h1v2h-1zM62 570h1v1h-1zM63 571h1v1h-1zM64 572h1v1h-1zM65 573h1v1h-1zM66 572h1v1h-1zM67 571h1v1h-1zM68 571h1v1h-1zM69 570h1v1h-1zM70 569h1v1h-1zM71 569h1v1h-1zM72 568h1v1h-1zM73 568h1v1h-1zM74 569h1v2h-1zM75 571h1v1h-1zM76 572h1v2h-1zM77 574h1v1h-1zM78 574h1v1h-1zM79 573h1v1h-1zM80 573h1v1h-1zM81 573h1v1h-1zM82 572h1v1h-1zM83 571h1v1h-1zM84 570h1v1h-1zM85 569h1v1h-1zM86 568h1v1h-1zM87 567h1v1h-1zM88 566h1v1h-1zM89 565h1v1h-1zM90 566h1v1h-1zM91 567h1v1h-1zM92 568h1v1h-1zM93 569h1v1h-1zM94 570h1v2h-1zM95 572h1v2h-1zM96 574h1v2h-1zM97 576h1v1h-1zM98 575h1v1h-1zM99 575h1v1h-1zM100 574h1v1h-1zM101 574h1v1h-1zM102 574h1v1h-1zM103 573h1v1h-1zM104 573h1v1h-1zM105 573h1v1h-1zM106 574h1v1h-1zM107 575h1v1h-1zM108 576h1v1h-1zM109 577h1v1h-1zM110 578h1v2h-1zM111 580h1v2h-1zM112 582h1v2h-1zM113 584h1v3h-1zM114 587h1v3h-1zM115 590h1v3h-1zM116 593h1v3h-1zM117 596h1v2h-1zM118 597h1v1h-1zM119 596h1v1h-1zM120 596h1v1h-1zM121 596h1v1h-1zM122 597h1v1h-1zM123 598h1v2h-1zM124 600h1v1h-1zM125 601h1v1h-1zM126 599h1v2h-1zM127 597h1v2h-1zM128 595h1v2h-1zM129 594h1v1h-1zM130 595h1v1h-1zM131 595h1v1h-1zM132 596h1v1h-1zM133 596h1v1h-1zM134 595h1v1h-1zM135 594h1v1h-1zM136 594h1v1h-1zM137 593h1v1h-1zM138 594h1v1h-1zM139 595h1v1h-1zM140 596h1v1h-1zM141 597h1v1h-1zM142 597h1v1h-1zM143 596h1v1h-1zM144 596h1v1h-1zM145 596h1v1h-1zM146 596h1v1h-1zM147 595h1v1h-1zM148 595h1v1h-1zM149 595h1v1h-1zM150 596h1v1h-1zM151 596h1v1h-1zM152 597h1v1h-1zM153 597h1v1h-1zM154 598h1v2h-1zM155 600h1v1h-1zM156 601h1v2h-1zM157 603h1v1h-1zM158 602h1v1h-1zM159 602h1v1h-1zM160 601h1v1h-1zM161 601h1v1h-1zM162 601h1v1h-1zM163 602h1v1h-1zM164 602h1v1h-1zM165 602h1v1h-1zM166 602h1v1h-1zM167 603h1v1h-1zM168 603h1v1h-1zM169 603h1v1h-1zM170 603h1v1h-1zM171 603h1v1h-1zM172 603h1v1h-1zM173 603h1v1h-1zM174 603h1v1h-1zM175 603h1v1h-1zM176 603h1v1h-1zM177 603h1v1h-1zM178 604h1v1h-1zM179 605h1v1h-1zM180 605h1v1h-1zM181 605h1v2h-1zM182 603h1v2h-1zM183 600h1v3h-1zM184 598h1v2h-1zM185 596h1v2h-1zM186 596h1v1h-1zM187 595h1v1h-1zM188 595h1v1h-1zM189 595h1v1h-1zM190 596h1v1h-1zM191 597h1v2h-1zM192 599h1v1h-1zM193 600h1v1h-1zM194 600h1v1h-1zM195 601h1v1h-1zM196 601h1v1h-1zM197 601h1v1h-1zM198 600h1v1h-1zM199 599h1v1h-1zM200 599h1v1h-1zM201 598h1v1h-1zM202 597h1v1h-1zM203 595h1v2h-1zM204 594h1v1h-1zM205 593h1v1h-1zM206 594h1v1h-1zM207 595h1v1h-1zM208 596h1v1h-1zM209 597h1v1h-1zM210 598h1v1h-1zM211 599h1v1h-1zM212 600h1v1h-1zM213 601h1v1h-1zM214 600h1v1h-1zM215 599h1v1h-1zM216 599h1v1h-1zM217 598h1v1h-1zM218 598h1v1h-1zM219 598h1v1h-1zM220 598h1v1h-1zM221 598h1v1h-1zM222 599h1v1h-1zM223 600h1v1h-1zM224 600h1v1h-1zM225 601h1v1h-1zM226 602h1v1h-1zM227 602h1v1h-1zM228 603h1v1h-1zM229 603h1v1h-1zM230 604h1v1h-1zM231 605h1v1h-1zM232 605h1v1h-1zM233 606h1v1h-1zM234 606h1v1h-1zM235 607h1v1h-1zM236 607h1v1h-1zM237 606h1v2h-1zM238 604h1v2h-1zM239 601h1v3h-1zM240 599h1v2h-1zM241 597h1v2h-1zM242 598h1v1h-1zM243 598h1v1h-1zM244 599h1v1h-1zM245 599h1v1h-1zM246 599h1v1h-1zM247 598h1v1h-1zM248 598h1v1h-1zM249 598h1v1h-1zM250 599h1v1h-1zM251 600h1v1h-1zM252 600h1v1h-1zM253 601h1v1h-1zM254 600h1v1h-1zM255 598h1v2h-1zM256 597h1v1h-1zM257 596h1v1h-1zM258 597h1v2h-1zM259 599h1v2h-1zM260 601h1v2h-1zM261 603h1v2h-1zM262 605h1v1h-1zM263 605h1v1h-1zM264 606h1v1h-1zM265 606h1v1h-1zM266 606h1v1h-1zM267 605h1v1h-1zM268 605h1v1h-1zM269 605h1v1h-1zM270 604h1v1h-1zM271 602h1v2h-1zM272 601h1v1h-1zM273 600h1v1h-1zM274 600h1v1h-1zM275 601h1v1h-1zM276 601h1v1h-1zM277 601h1v1h-1zM278 600h1v1h-1zM279 599h1v1h-1zM280 598h1v1h-1zM281 597h1v1h-1zM282 597h1v1h-1zM283 598h1v1h-1zM284 598h1v1h-1zM285 598h1v1h-1zM286 598h1v1h-1zM287 597h1v1h-1zM288 597h1v1h-1zM289 597h1v1h-1zM290 597h1v1h-1zM291 597h1v1h-1zM292 597h1v1h-1zM293 597h1v1h-1zM294 598h1v2h-1zM295 600h1v2h-1zM296 602h1v2h-1zM297 604h1v1h-1zM298 605h1v1h-1zM299 606h1v1h-1zM300 607h1v1h-1zM301 608h1v1h-1zM302 607h1v1h-1zM303 607h1v1h-1zM304 606h1v1h-1zM305 606h1v1h-1zM306 605h1v1h-1zM307 605h1v1h-1zM308 604h1v1h-1zM309 604h1v1h-1zM310 603h1v1h-1zM311 602h1v1h-1zM312 601h1v1h-1zM313 600h1v1h-1zM314 600h1v1h-1zM315 601h1v1h-1zM316 601h1v1h-1zM317 601h1v1h-1zM318 602h1v1h-1zM319 602h1v1h-1zM320 603h1v1h-1zM321 603h1v1h-1zM322 604h1v2h-1zM323 606h1v2h-1zM324 608h1v2h-1zM325 610h1v1h-1zM326 611h1v1h-1zM327 611h1v1h-1zM328 612h1v1h-1zM329 612h1v1h-1zM330 612h1v1h-1zM331 613h1v1h-1zM332 613h1v1h-1zM333 613h1v1h-1zM334 612h1v1h-1zM335 611h1v1h-1zM336 610h1v1h-1zM337 609h1v1h-1zM338 610h1v1h-1zM339 610h1v1h-1zM340 611h1v1h-1zM341 611h1v1h-1zM342 612h1v2h-1zM343 614h1v2h-1zM344 616h1v2h-1zM345 618h1v1h-1zM346 619h1v1h-1zM347 619h1v1h-1zM348 620h1v1h-1zM349 620h1v1h-1zM350 620h1v1h-1zM351 621h1v1h-1zM352 621h1v1h-1zM353 621h1v1h-1zM354 620h1v1h-1zM355 620h1v1h-1zM356 619h1v1h-1zM357 619h1v1h-1zM358 620h1v1h-1zM359 621h1v1h-1zM360 621h1v1h-1zM361 622h1v1h-1zM362 622h1v1h-1zM363 621h1v1h-1zM364 621h1v1h-1zM365 621h1v1h-1zM366 622h1v1h-1zM367 622h1v1h-1zM368 623h1v1h-1zM369 623h1v1h-1zM370 622h1v1h-1zM371 620h1v2h-1zM372 619h1v1h-1zM373 618h1v1h-1zM374 619h1v1h-1zM375 619h1v1h-1zM376 620h1v1h-1zM377 619h1v2h-1zM378 616h1v3h-1zM379 613h1v3h-1zM380 610h1v3h-1zM381 608h1v2h-1zM382 607h1v1h-1zM383 607h1v1h-1zM384 606h1v1h-1zM385 606h1v1h-1zM386 605h1v1h-1zM387 605h1v1h-1zM388 604h1v1h-1zM389 604h1v1h-1zM390 604h1v1h-1zM391 604h1v1h-1zM392 604h1v1h-1zM393 604h1v1h-1zM394 605h1v1h-1zM395 606h1v1h-1zM396 606h1v1h-1zM397 607h1v1h-1zM398 607h1v1h-1zM399 607h1v1h-1zM400 607h1v1h-1zM401 607h1v1h-1zM402 606h1v1h-1zM403 606h1v1h-1zM404 605h1v1h-1zM405 605h1v1h-1zM406 605h1v1h-1zM407 604h1v1h-1zM408 604h1v1h-1zM409 604h1v1h-1zM410 604h1v1h-1zM411 604h1v1h-1zM412 604h1v1h-1zM413 604h1v1h-1zM414 605h1v1h-1zM415 606h1v1h-1zM416 607h1v1h-1zM417 608h1v1h-1zM418 609h1v1h-1zM419 609h1v1h-1zM420 610h1v1h-1zM421 610h1v1h-1zM422 608h1v2h-1zM423 606h1v2h-1zM424 604h1v2h-1zM425 603h1v1h-1zM426 602h1v1h-1zM427 601h1v1h-1zM428 600h1v1h-1zM429 599h1v1h-1zM430 598h1v1h-1zM431 597h1v1h-1zM432 597h1v1h-1zM433 596h1v1h-1zM434 597h1v1h-1zM435 598h1v1h-1zM436 598h1v1h-1zM437 599h1v1h-1zM438 598h1v1h-1zM439 598h1v1h-1zM440 597h1v1h-1zM441 597h1v1h-1zM442 598h1v1h-1zM443 599h1v2h-1zM444 601h1v1h-1zM445 602h1v1h-1zM446 603h1v1h-1zM447 604h1v1h-1zM448 604h1v1h-1zM449 605h1v1h-1zM450 605h1v1h-1zM451 604h1v1h-1zM452 604h1v1h-1zM453 604h1v1h-1zM454 605h1v1h-1zM455 605h1v1h-1zM456 606h1v1h-1zM457 606h1v1h-1zM458 606h1v1h-1zM459 606h1v1h-1zM460 606h1v1h-1zM461 606h1v1h-1zM462 606h1v1h-1zM463 607h1v1h-1zM464 607h1v1h-1zM465 607h1v1h-1zM466 606h1v1h-1zM467 605h1v1h-1zM468 604h1v1h-1zM469 603h1v1h-1zM470 604h1v1h-1zM471 605h1v1h-1zM472 606h1v1h-1zM473 607h1v1h-1zM474 606h1v1h-1zM475 605h1v1h-1zM476 604h1v1h-1zM477 603h1v1h-1zM478 603h1v1h-1zM479 602h1v1h-1zM480 602h1v1h-1zM481 602h1v1h-1zM482 602h1v1h-1zM483 602h1v1h-1zM484 602h1v1h-1zM485 602h1v1h-1zM486 603h1v1h-1zM487 603h1v1h-1zM488 604h1v1h-1zM489 604h1v1h-1zM490 603h1v1h-1zM491 602h1v1h-1zM492 601h1v1h-1zM493 600h1v1h-1zM494 601h1v2h-1zM495 603h1v2h-1zM496 605h1v2h-1zM497 607h1v2h-1zM498 607h1v1h-1zM499 606h1v1h-1zM500 606h1v1h-1zM501 605h1v1h-1zM502 604h1v1h-1zM503 603h1v1h-1zM504 603h1v1h-1zM505 602h1v1h-1zM506 602h1v1h-1zM507 602h1v1h-1zM508 602h1v1h-1zM509 602h1v1h-1zM510 603h1v1h-1zM511 604h1v1h-1zM512 605h1v1h-1zM513 606h1v1h-1zM514 607h1v2h-1zM515 609h1v1h-1zM516 610h1v2h-1zM517 612h1v1h-1zM518 613h1v1h-1zM519 614h1v1h-1zM520 614h1v1h-1zM521 615h1v1h-1zM522 616h1v1h-1zM523 616h1v1h-1zM524 617h1v1h-1zM525 617h1v1h-1zM526 615h1v2h-1zM527 613h1v2h-1zM528 611h1v2h-1zM529 610h1v1h-1zM530 610h1v1h-1zM531 610h1v1h-1zM532 610h1v1h-1zM533 610h1v1h-1zM534 611h1v1h-1zM535 612h1v1h-1zM536 612h1v1h-1zM537 613h1v1h-1zM538 613h1v1h-1zM539 614h1v1h-1zM540 614h1v1h-1zM541 614h1v1h-1zM542 614h1v1h-1zM543 613h1v1h-1zM544 613h1v1h-1zM545 613h1v1h-1zM546 611h1v2h-1zM547 609h1v2h-1zM548 607h1v2h-1zM549 605h1v2h-1zM550 606h1v1h-1zM551 607h1v2h-1zM552 609h1v1h-1zM553 610h1v1h-1zM554 609h1v1h-1zM555 609h1v1h-1zM556 608h1v1h-1zM557 608h1v1h-1zM558 608h1v1h-1zM559 607h1v1h-1zM560 607h1v1h-1zM561 607h1v1h-1zM562 608h1v1h-1zM563 609h1v1h-1zM564 609h1v1h-1zM565 610h1v1h-1zM566 611h1v2h-1zM567 613h1v2h-1zM568 615h1v2h-1zM569 617h1v1h-1zM570 616h1v1h-1zM571 615h1v1h-1zM572 614h1v1h-1zM573 612h1v2h-1zM574 610h1v2h-1zM575 608h1v2h-1zM576 606h1v2h-1zM577 604h1v2h-1zM578 604h1v1h-1zM579 605h1v1h-1zM580 605h1v1h-1zM581 605h1v1h-1zM582 606h1v1h-1zM583 606h1v1h-1zM584 607h1v1h-1zM585 607h1v1h-1zM586 608h1v1h-1zM587 609h1v1h-1zM588 610h1v1h-1zM589 611h1v1h-1zM590 612h1v1h-1zM591 612h1v1h-1zM592 613h1v1h-1zM593 613h1v1h-1zM594 614h1v1h-1zM595 614h1v1h-1zM596 615h1v1h-1zM597 615h1v1h-1zM598 614h1v1h-1zM599 613h1v1h-1zM600 612h1v1h-1zM601 611h1v1h-1zM602 611h1v1h-1zM603 611h1v1h-1zM604 611h1v1h-1zM605 611h1v1h-1zM606 612h1v1h-1zM607 613h1v1h-1zM608 613h1v1h-1zM609 614h1v1h-1zM610 614h1v1h-1zM611 615h1v1h-1zM612 615h1v1h-1zM613 615h1v1h-1zM614 615h1v1h-1zM615 616h1v1h-1zM616 616h1v1h-1zM617 616h1v1h-1zM618 615h1v1h-1zM619 615h1v1h-1zM620 614h1v1h-1zM621 614h1v1h-1zM622 613h1v1h-1zM623 613h1v1h-1zM624 612h1v1h-1zM625 612h1v1h-1zM626 612h1v1h-1zM627 613h1v1h-1zM628 613h1v1h-1zM629 613h1v1h-1zM630 612h1v1h-1zM631 611h1v1h-1zM632 610h1v1h-1zM633 609h1v1h-1zM634 610h1v1h-1zM635 610h1v1h-1zM636 611h1v1h-1zM637 611h1v1h-1zM638 612h1v1h-1zM639 613h1v1h-1zM640 614h1v1h-1zM641 615h1v1h-1zM642 616h1v1h-1zM643 616h1v1h-1zM644 617h1v1h-1zM645 617h1v1h-1zM646 617h1v1h-1zM647 617h1v1h-1zM648 617h1v1h-1zM649 617h1v1h-1zM650 617h1v1h-1zM651 618h1v1h-1zM652 618h1v1h-1zM653 618h1v1h-1zM654 619h1v1h-1zM655 620h1v1h-1zM656 620h1v1h-1zM657 621h1v1h-1zM658 621h1v1h-1zM659 620h1v1h-1zM660 620h1v1h-1zM661 620h1v1h-1zM662 619h1v1h-1zM663 619h1v1h-1zM664 618h1v1h-1zM665 617h1v2h-1zM666 615h1v2h-1zM667 612h1v3h-1zM668 610h1v2h-1zM669 608h1v2h-1zM670 609h1v1h-1zM671 610h1v1h-1zM672 610h1v1h-1zM673 611h1v1h-1zM674 612h1v1h-1zM675 613h1v1h-1zM676 613h1v1h-1zM677 614h1v1h-1zM678 613h1v1h-1zM679 611h1v2h-1zM680 610h1v1h-1zM681 608h1v2h-1zM682 606h1v2h-1zM683 603h1v3h-1zM684 601h1v2h-1zM685 599h1v2h-1zM686 600h1v1h-1zM687 601h1v1h-1zM688 601h1v1h-1zM689 602h1v1h-1zM690 602h1v1h-1zM691 603h1v1h-1zM692 603h1v1h-1zM693 603h1v1h-1zM694 602h1v1h-1zM695 601h1v1h-1zM696 601h1v1h-1zM697 600h1v1h-1zM698 600h1v1h-1zM699 599h1v1h-1zM700 599h1v1h-1zM701 599h1v1h-1zM702 600h1v1h-1zM703 601h1v1h-1zM704 601h1v1h-1zM705 602h1v1h-1zM706 601h1v1h-1zM707 600h1v1h-1zM708 599h1v1h-1zM709 598h1v1h-1zM710 599h1v1h-1zM711 600h1v1h-1zM712 601h1v1h-1zM713 602h1v1h-1zM714 601h1v1h-1zM715 600h1v1h-1zM716 599h1v1h-1zM717 598h1v1h-1zM718 599h1v1h-1zM719 600h1v1h-1zM720 600h1v1h-1zM721 601h1v1h-1zM722 600h1v1h-1zM723 600h1v1h-1zM724 599h1v1h-1zM725 598h1v2h-1zM726 596h1v2h-1zM727 594h1v2h-1zM728 592h1v2h-1zM729 590h1v2h-1zM730 590h1v1h-1zM731 589h1v1h-1zM732 589h1v1h-1zM733 589h1v1h-1zM734 588h1v1h-1zM735 587h1v1h-1zM736 587h1v1h-1zM737 586h1v1h-1zM738 586h1v1h-1zM739 586h1v1h-1zM740 586h1v1h-1zM741 586h1v1h-1zM742 585h1v1h-1zM743 584h1v1h-1zM744 584h1v1h-1zM745 583h1v1h-1zM746 584h1v1h-1zM747 584h1v1h-1zM748 585h1v1h-1zM749 585h1v1h-1zM750 586h1v1h-1zM751 587h1v1h-1zM752 587h1v1h-1zM753 588h1v1h-1zM754 587h1v1h-1zM755 587h1v1h-1zM756 586h1v1h-1zM757 586h1v2h-1zM758 588h1v2h-1zM759 590h1v2h-1zM760 592h1v2h-1zM761 594h1v2h-1zM762 596h1v1h-1zM763 597h1v1h-1zM764 598h1v1h-1zM765 599h1v1h-1zM766 598h1v1h-1zM767 597h1v1h-1zM768 597h1v1h-1zM769 596h1v1h-1zM770 597h1v1h-1zM771 597h1v1h-1zM772 598h1v1h-1zM773 598h1v1h-1zM774 599h1v1h-1zM775 600h1v1h-1zM776 600h1v1h-1zM777 601h1v1h-1zM778 601h1v1h-1zM779 600h1v1h-1zM780 600h1v1h-1zM781 600h1v1h-1zM782 600h1v1h-1zM783 600h1v1h-1zM784 600h1v1h-1zM785 600h1v1h-1zM786 601h1v1h-1zM787 602h1v2h-1zM788 604h1v1h-1zM789 605h1v2h-1zM790 607h1v2h-1zM791 609h1v2h-1zM792 611h1v2h-1zM793 613h1v2h-1zM794 613h1v1h-1zM795 613h1v1h-1zM796 612h1v1h-1zM797 612h1v1h-1zM798 613h1v1h-1zM799 613h1v1h-1zM800 614h1v1h-1zM801 614h1v1h-1zM802 613h1v1h-1zM803 612h1v1h-1zM804 611h1v1h-1zM805 610h1v1h-1zM806 610h1v1h-1zM807 609h1v1h-1zM808 609h1v1h-1zM809 608h1v2h-1zM810 606h1v2h-1zM811 603h1v3h-1zM812 601h1v2h-1zM813 599h1v2h-1zM814 600h1v1h-1zM815 601h1v2h-1zM816 603h1v1h-1zM817 604h1v1h-1zM818 604h1v1h-1zM819 605h1v1h-1zM820 605h1v1h-1zM821 605h1v1h-1zM822 606h1v1h-1zM823 606h1v1h-1zM824 607h1v1h-1zM825 607h1v1h-1zM826 608h1v1h-1zM827 609h1v1h-1zM828 609h1v1h-1zM829 610h1v1h-1zM830 609h1v1h-1zM831 609h1v1h-1zM832 608h1v1h-1zM833 608h1v1h-1zM834 608h1v1h-1zM835 608h1v1h-1zM836 608h1v1h-1zM837 608h1v1h-1zM838 607h1v1h-1zM839 607h1v1h-1zM840 606h1v1h-1zM841 606h1v1h-1zM842 606h1v1h-1zM843 607h1v1h-1zM844 607h1v1h-1zM845 606h1v2h-1zM846 604h1v2h-1zM847 602h1v2h-1zM848 600h1v2h-1zM849 598h1v2h-1zM850 599h1v1h-1zM851 600h1v2h-1zM852 602h1v1h-1zM853 602h1v2h-1zM854 599h1v3h-1zM855 596h1v3h-1zM856 593h1v3h-1zM857 591h1v2h-1zM858 590h1v1h-1zM859 589h1v1h-1zM860 589h1v1h-1zM861 588h1v1h-1zM862 589h1v1h-1zM863 590h1v1h-1zM864 590h1v1h-1zM865 591h1v1h-1zM866 591h1v1h-1zM867 592h1v1h-1zM868 592h1v1h-1zM869 592h1v1h-1zM870 593h1v1h-1zM871 594h1v2h-1zM872 596h1v1h-1zM873 597h1v2h-1zM874 599h1v3h-1zM875 602h1v3h-1zM876 605h1v3h-1zM877 608h1v2h-1zM878 608h1v1h-1zM879 608h1v1h-1zM880 607h1v1h-1zM881 607h1v1h-1zM882 608h1v1h-1zM883 609h1v2h-1zM884 611h1v1h-1zM885 612h1v1h-1zM886 612h1v1h-1zM887 612h1v1h-1zM888 612h1v1h-1zM889 612h1v1h-1zM890 612h1v1h-1zM891 613h1v1h-1zM892 613h1v1h-1zM893 613h1v1h-1zM894 614h1v1h-1zM895 615h1v1h-1zM896 615h1v1h-1zM897 616h1v1h-1zM898 615h1v1h-1zM899 613h1v2h-1zM900 612h1v1h-1zM901 611h1v1h-1zM902 610h1v1h-1zM903 608h1v2h-1zM904 607h1v1h-1zM905 606h1v1h-1zM906 605h1v1h-1zM907 604h1v1h-1zM908 604h1v1h-1zM909 603h1v1h-1zM910 602h1v1h-1zM911 601h1v1h-1zM912 600h1v1h-1zM913 599h1v1h-1zM914 600h1v1h-1zM915 600h1v1h-1zM916 601h1v1h-1zM917 601h1v1h-1zM918 602h1v1h-1zM919 603h1v2h-1zM920 605h1v1h-1zM921 606h1v1h-1zM922 605h1v1h-1zM923 605h1v1h-1zM924 604h1v1h-1zM925 604h1v1h-1zM926 604h1v1h-1zM927 605h1v1h-1zM928 605h1v1h-1zM929 605h1v1h-1zM930 605h1v1h-1zM931 604h1v1h-1zM932 604h1v1h-1zM933 604h1v1h-1zM934 604h1v1h-1zM935 605h1v1h-1zM936 605h1v1h-1zM937 605h1v1h-1zM938 604h1v1h-1zM939 604h1v1h-1zM940 603h1v1h-1zM941 603h1v1h-1zM942 603h1v1h-1zM943 603h1v1h-1zM944 603h1v1h-1zM945 603h1v1h-1zM946 604h1v1h-1zM947 605h1v2h-1zM948 607h1v1h-1zM949 608h1v1h-1zM950 609h1v1h-1zM951 609h1v1h-1zM952 610h1v1h-1zM953 610h1v1h-1zM954 610h1v1h-1zM955 609h1v1h-1zM956 609h1v1h-1zM957 609h1v1h-1zM958 610h1v1h-1zM959 611h1v1h-1zM960 611h1v1h-1zM961 612h1v1h-1zM962 611h1v1h-1zM963 611h1v1h-1zM964 610h1v1h-1zM965 610h1v1h-1zM966 611h1v1h-1zM967 612h1v1h-1zM968 612h1v1h-1zM969 613h1v1h-1zM970 613h1v1h-1zM971 612h1v1h-1zM972 612h1v1h-1zM973 612h1v1h-1zM974 613h1v1h-1zM975 613h1v1h-1zM976 614h1v1h-1zM977 614h1v1h-1zM978 615h1v1h-1zM979 616h1v2h-1zM980 618h1v1h-1zM981 619h1v1h-1zM982 620h1v1h-1zM983 621h1v1h-1zM984 621h1v1h-1zM985 622h1v1h-1zM986 622h1v1h-1zM987 623h1v1h-1zM988 623h1v1h-1zM989 623h1v1h-1zM990 622h1v1h-1zM991 620h1v2h-1zM992 619h1v1h-1zM993 618h1v1h-1zM994 619h1v1h-1zM995 619h1v1h-1zM996 620h1v1h-1zM997 620h1v1h-1zM998 619h1v1h-1zM999 619h1v1h-1zM1000 618h1v1h-1zM1001 618h1v1h-1zM1002 619h1v1h-1zM1003 620h1v2h-1zM1004 622h1v1h-1zM1005 623h1v1h-1zM1006 621h1v2h-1zM1007 619h1v2h-1zM1008 617h1v2h-1zM1009 615h1v2h-1zM1010 615h1v1h-1zM1011 616h1v1h-1zM1012 616h1v1h-1zM1013 616h1v1h-1zM1014 616h1v1h-1zM1015 615h1v1h-1zM1016 615h1v1h-1zM1017 615h1v1h-1zM1018 616h1v1h-1zM1019 616h1v1h-1zM1020 617h1v1h-1zM1021 617h1v1h-1zM1022 616h1v1h-1zM1023 615h1v1h-1zM1024 615h1v1h-1zM1025 614h1v1h-1zM1026 615h1v1h-1zM1027 615h1v1h-1zM1028 616h1v1h-1zM1029 616h1v1h-1zM1030 614h1v2h-1zM1031 613h1v1h-1zM1032 611h1v2h-1zM1033 610h1v1h-1zM1034 609h1v1h-1zM1035 609h1v1h-1zM1036 608h1v1h-1zM1037 608h1v1h-1zM1038 606h1v2h-1zM1039 604h1v2h-1zM1040 602h1v2h-1zM1041 600h1v2h-1zM1042 599h1v1h-1zM1043 597h1v2h-1zM1044 596h1v1h-1zM1045 595h1v1h-1zM1046 596h1v2h-1zM1047 598h1v1h-1zM1048 599h1v2h-1zM1049 601h1v1h-1zM1050 602h1v1h-1zM1051 602h1v1h-1zM1052 603h1v1h-1zM1053 603h1v1h-1zM1054 603h1v1h-1zM1055 603h1v1h-1zM1056 603h1v1h-1zM1057 603h1v1h-1zM1058 602h1v1h-1zM1059 602h1v1h-1zM1060 601h1v1h-1zM1061 601h1v1h-1zM1062 602h1v1h-1zM1063 603h1v1h-1zM1064 604h1v1h-1zM1065 605h1v1h-1zM1066 606h1v1h-1zM1067 607h1v1h-1zM1068 608h1v1h-1zM1069 609h1v1h-1zM1070 610h1v1h-1zM1071 610h1v1h-1zM1072 611h1v1h-1zM1073 611h1v1h-1zM1074 611h1v1h-1zM1075 612h1v1h-1zM1076 612h1v1h-1zM1077 612h1v1h-1zM1078 611h1v1h-1zM1079 611h1v1h-1zM1080 610h1v1h-1zM1081 610h1v1h-1zM1082 610h1v1h-1zM1083 609h1v1h-1zM1084 609h1v1h-1zM1085 609h1v1h-1zM1086 610h1v1h-1zM1087 611h1v1h-1zM1088 612h1v1h-1zM1089 613h1v1h-1zM1090 612h1v1h-1zM1091 611h1v1h-1zM1092 611h1v1h-1zM1093 610h1v1h-1zM1094 611h1v1h-1zM1095 611h1v1h-1zM1096 612h1v1h-1zM1097 612h1v1h-1zM1098 611h1v1h-1zM1099 610h1v1h-1zM1100 610h1v1h-1zM1101 608h1v2h-1zM1102 606h1v2h-1zM1103 603h1v3h-1zM1104 601h1v2h-1zM1105 599h1v2h-1zM1106 600h1v1h-1zM1107 601h1v1h-1zM1108 602h1v1h-1zM1109 603h1v1h-1zM1110 604h1v1h-1zM1111 605h1v1h-1zM1112 606h1v1h-1zM1113 607h1v1h-1zM1114 608h1v1h-1zM1115 609h1v2h-1zM1116 611h1v1h-1zM1117 611h1v2h-1zM1118 609h1v2h-1zM1119 606h1v3h-1zM1120 604h1v2h-1zM1121 602h1v2h-1zM1122 603h1v1h-1zM1123 603h1v1h-1zM1124 604h1v1h-1zM1125 604h1v1h-1zM1126 603h1v1h-1zM1127 602h1v1h-1zM1128 602h1v1h-1zM1129 601h1v1h-1zM1130 602h1v1h-1zM1131 603h1v1h-1zM1132 603h1v1h-1zM1133 604h1v1h-1zM1134 605h1v2h-1zM1135 607h1v1h-1zM1136 608h1v2h-1zM1137 610h1v1h-1zM1138 610h1v1h-1zM1139 611h1v1h-1zM1140 611h1v1h-1zM1141 611h1v1h-1zM1142 609h1v2h-1zM1143 607h1v2h-1zM1144 605h1v2h-1zM1145 603h1v2h-1zM1146 603h1v1h-1zM1147 602h1v1h-1zM1148 602h1v1h-1zM1149 602h1v1h-1zM1150 601h1v1h-1zM1151 601h1v1h-1zM1152 600h1v1h-1zM1153 600h1v1h-1zM1154 601h1v1h-1zM1155 602h1v1h-1zM1156 602h1v1h-1zM1157 603h1v1h-1zM1158 602h1v1h-1zM1159 600h1v2h-1zM1160 599h1v1h-1zM1161 598h1v1h-1zM1162 597h1v1h-1zM1163 597h1v1h-1zM1164 596h1v1h-1zM1165 596h1v1h-1zM1166 597h1v1h-1zM1167 598h1v1h-1zM1168 598h1v1h-1zM1169 599h1v1h-1zM1170 598h1v1h-1zM1171 597h1v1h-1zM1172 597h1v1h-1zM1173 596h1v1h-1zM1174 595h1v1h-1zM1175 595h1v1h-1zM1176 594h1v1h-1zM1177 594h1v1h-1zM1178 594h1v1h-1zM1179 595h1v1h-1zM1180 595h1v1h-1zM1181 595h1v1h-1zM1182 596h1v1h-1zM1183 597h1v1h-1zM1184 598h1v1h-1zM1185 599h1v1h-1zM1186 598h1v1h-1zM1187 596h1v2h-1zM1188 595h1v1h-1zM1189 594h1v1h-1zM1190 595h1v2h-1zM1191 597h1v1h-1zM1192 598h1v2h-1zM1193 600h1v1h-1zM1194 600h1v1h-1zM1195 601h1v1h-1zM1196 601h1v1h-1zM1197 601h1v1h-1zM1198 601h1v1h-1zM1199 602h1v1h-1zM1200 602h1v1h-1zM1201 602h1v1h-1zM1202 603h1v1h-1zM1203 604h1v1h-1zM1204 604h1v1h-1zM1205 605h1v1h-1zM1206 606h1v1h-1zM1207 607h1v1h-1zM1208 607h1v1h-1zM1209 608h1v1h-1zM1210 608h1v1h-1zM1211 607h1v1h-1zM1212 607h1v1h-1zM1213 607h1v1h-1zM1214 606h1v1h-1zM1215 606h1v1h-1zM1216 605h1v1h-1zM1217 605h1v1h-1zM1218 605h1v1h-1zM1219 606h1v1h-1zM1220 606h1v1h-1zM1221 606h1v1h-1zM1222 607h1v1h-1zM1223 608h1v2h-1zM1224 610h1v1h-1zM1225 611h1v1h-1zM1226 610h1v1h-1zM1227 608h1v2h-1zM1228 607h1v1h-1zM1229 606h1v1h-1zM1230 605h1v1h-1zM1231 603h1v2h-1zM1232 602h1v1h-1zM1233 601h1v1h-1zM1234 602h1v1h-1zM1235 602h1v1h-1zM1236 603h1v1h-1zM1237 603h1v1h-1zM1238 604h1v2h-1zM1239 606h1v2h-1zM1240 608h1v2h-1zM1241 610h1v2h-1zM1242 611h1v1h-1zM1243 610h1v1h-1zM1244 610h1v1h-1zM1245 610h1v1h-1zM1246 610h1v1h-1zM1247 610h1v1h-1zM1248 610h1v1h-1zM1249 610h1v1h-1zM1250 610h1v1h-1zM1251 611h1v1h-1zM1252 611h1v1h-1zM1253 611h1v1h-1z" fill="#1e90ff" shape-rendering="crispEdges"/></g><rect x="5" y="553" width="33" height="12" fill="#fff"/><rect x="40" y="553" width="33" height="12" fill="#fff"/><text x="5.3" y="565" font-size="9.5" fill="#000" stroke="#000" stroke-width="0.15" textLength="31.8" lengthAdjust="spacingAndGlyphs">RSI(14)</text><text x="40.3" y="565" font-size="9.5" fill="#000" stroke="#000" stroke-width="0.15" textLength="32.2" lengthAdjust="spacingAndGlyphs">38.6432</text><text x="1580.5" y="563" font-size="9.5" fill="#000" stroke="#000" stroke-width="0.15" textLength="15.0" lengthAdjust="spacingAndGlyphs">100</text><text x="1580.5" y="586" font-size="9.5" fill="#000" stroke="#000" stroke-width="0.15" textLength="10.0" lengthAdjust="spacingAndGlyphs">70</text><text x="1580.5" y="623" font-size="9.5" fill="#000" stroke="#000" stroke-width="0.15" textLength="10.0" lengthAdjust="spacingAndGlyphs">30</text><text x="1580.5" y="645" font-size="9.5" fill="#000" stroke="#000" stroke-width="0.15" textLength="5.0" lengthAdjust="spacingAndGlyphs">0</text><rect x="1578" y="554" width="2" height="1" fill="#000"/><rect x="1578" y="647" width="2" height="1" fill="#000"/><g clip-path="url(#cd)" shape-rendering="crispEdges" fill="#c0c0c0"><rect x="1" y="707" width="1" height="6"/><rect x="5" y="708" width="1" height="5"/><rect x="9" y="708" width="1" height="5"/><rect x="13" y="708" width="1" height="5"/><rect x="17" y="708" width="1" height="5"/><rect x="21" y="707" width="1" height="6"/><rect x="25" y="705" width="1" height="8"/><rect x="29" y="704" width="1" height="9"/><rect x="33" y="703" width="1" height="10"/><rect x="37" y="704" width="1" height="9"/><rect x="41" y="703" width="1" height="10"/><rect x="45" y="703" width="1" height="10"/><rect x="49" y="703" width="1" height="10"/><rect x="53" y="703" width="1" height="10"/><rect x="57" y="701" width="1" height="12"/><rect x="61" y="696" width="1" height="17"/><rect x="65" y="693" width="1" height="20"/><rect x="69" y="689" width="1" height="24"/><rect x="73" y="684" width="1" height="29"/><rect x="77" y="682" width="1" height="31"/><rect x="81" y="679" width="1" height="34"/><rect x="85" y="675" width="1" height="38"/><rect x="89" y="667" width="1" height="46"/><rect x="93" y="662" width="1" height="51"/><rect x="97" y="660" width="1" height="53"/><rect x="101" y="658" width="1" height="55"/><rect x="105" y="656" width="1" height="57"/><rect x="109" y="655" width="1" height="58"/><rect x="113" y="658" width="1" height="55"/><rect x="117" y="665" width="1" height="48"/><rect x="121" y="670" width="1" height="43"/><rect x="125" y="677" width="1" height="36"/><rect x="129" y="679" width="1" height="34"/><rect x="133" y="682" width="1" height="31"/><rect x="137" y="683" width="1" height="30"/><rect x="141" y="686" width="1" height="27"/><rect x="145" y="688" width="1" height="25"/><rect x="149" y="689" width="1" height="24"/><rect x="153" y="691" width="1" height="22"/><rect x="157" y="696" width="1" height="17"/><rect x="161" y="698" width="1" height="15"/><rect x="165" y="701" width="1" height="12"/><rect x="169" y="704" width="1" height="9"/><rect x="173" y="706" width="1" height="7"/><rect x="177" y="708" width="1" height="5"/><rect x="181" y="710" width="1" height="3"/><rect x="185" y="709" width="1" height="4"/><rect x="189" y="707" width="1" height="6"/><rect x="193" y="708" width="1" height="5"/><rect x="197" y="709" width="1" height="4"/><rect x="201" y="708" width="1" height="5"/><rect x="205" y="706" width="1" height="7"/><rect x="209" y="706" width="1" height="7"/><rect x="213" y="707" width="1" height="6"/><rect x="217" y="707" width="1" height="6"/><rect x="221" y="707" width="1" height="6"/><rect x="225" y="708" width="1" height="5"/><rect x="229" y="709" width="1" height="4"/><rect x="233" y="711" width="1" height="2"/><rect x="237" y="713" width="1" height="1"/><rect x="241" y="712" width="1" height="1"/><rect x="245" y="711" width="1" height="2"/><rect x="249" y="711" width="1" height="2"/><rect x="253" y="711" width="1" height="2"/><rect x="257" y="710" width="1" height="3"/><rect x="261" y="711" width="1" height="2"/><rect x="265" y="713" width="1" height="1"/><rect x="269" y="713" width="1" height="1"/><rect x="273" y="713" width="1" height="1"/><rect x="277" y="713" width="1" height="1"/><rect x="281" y="712" width="1" height="1"/><rect x="285" y="711" width="1" height="2"/><rect x="289" y="711" width="1" height="2"/><rect x="293" y="710" width="1" height="3"/><rect x="297" y="711" width="1" height="2"/><rect x="301" y="713" width="1" height="1"/><rect x="305" y="713" width="1" height="2"/><rect x="309" y="713" width="1" height="2"/><rect x="313" y="713" width="1" height="2"/><rect x="317" y="713" width="1" height="1"/><rect x="321" y="713" width="1" height="2"/><rect x="325" y="713" width="1" height="4"/><rect x="329" y="713" width="1" height="6"/><rect x="333" y="713" width="1" height="8"/><rect x="337" y="713" width="1" height="9"/><rect x="341" y="713" width="1" height="10"/><rect x="345" y="713" width="1" height="13"/><rect x="349" y="713" width="1" height="17"/><rect x="353" y="713" width="1" height="20"/><rect x="357" y="713" width="1" height="22"/><rect x="361" y="713" width="1" height="24"/><rect x="365" y="713" width="1" height="25"/><rect x="369" y="713" width="1" height="27"/><rect x="373" y="713" width="1" height="27"/><rect x="377" y="713" width="1" height="28"/><rect x="381" y="713" width="1" height="25"/><rect x="385" y="713" width="1" height="22"/><rect x="389" y="713" width="1" height="20"/><rect x="393" y="713" width="1" height="17"/><rect x="397" y="713" width="1" height="16"/><rect x="401" y="713" width="1" height="15"/><rect x="405" y="713" width="1" height="13"/><rect x="409" y="713" width="1" height="12"/><rect x="413" y="713" width="1" height="10"/><rect x="417" y="713" width="1" height="10"/><rect x="421" y="713" width="1" height="10"/><rect x="425" y="713" width="1" height="9"/><rect x="429" y="713" width="1" height="7"/><rect x="433" y="713" width="1" height="4"/><rect x="437" y="713" width="1" height="3"/><rect x="441" y="713" width="1" height="2"/><rect x="445" y="713" width="1" height="1"/><rect x="449" y="713" width="1" height="2"/><rect x="453" y="713" width="1" height="2"/><rect x="457" y="713" width="1" height="2"/><rect x="461" y="713" width="1" height="3"/><rect x="465" y="713" width="1" height="3"/><rect x="469" y="713" width="1" height="3"/><rect x="473" y="713" width="1" height="3"/><rect x="477" y="713" width="1" height="3"/><rect x="481" y="713" width="1" height="3"/><rect x="485" y="713" width="1" height="2"/><rect x="489" y="713" width="1" height="2"/><rect x="493" y="713" width="1" height="1"/><rect x="497" y="713" width="1" height="2"/><rect x="501" y="713" width="1" height="2"/><rect x="505" y="713" width="1" height="2"/><rect x="509" y="713" width="1" height="2"/><rect x="513" y="713" width="1" height="2"/><rect x="517" y="713" width="1" height="4"/><rect x="521" y="713" width="1" height="5"/><rect x="525" y="713" width="1" height="7"/><rect x="529" y="713" width="1" height="8"/><rect x="533" y="713" width="1" height="8"/><rect x="537" y="713" width="1" height="9"/><rect x="541" y="713" width="1" height="9"/><rect x="545" y="713" width="1" height="10"/><rect x="549" y="713" width="1" height="9"/><rect x="553" y="713" width="1" height="9"/><rect x="557" y="713" width="1" height="9"/><rect x="561" y="713" width="1" height="8"/><rect x="565" y="713" width="1" height="8"/><rect x="569" y="713" width="1" height="10"/><rect x="573" y="713" width="1" height="10"/><rect x="577" y="713" width="1" height="9"/><rect x="581" y="713" width="1" height="8"/><rect x="585" y="713" width="1" height="8"/><rect x="589" y="713" width="1" height="9"/><rect x="593" y="713" width="1" height="9"/><rect x="597" y="713" width="1" height="11"/><rect x="601" y="713" width="1" height="11"/><rect x="605" y="713" width="1" height="11"/><rect x="609" y="713" width="1" height="11"/><rect x="613" y="713" width="1" height="12"/><rect x="617" y="713" width="1" height="12"/><rect x="621" y="713" width="1" height="13"/><rect x="625" y="713" width="1" height="12"/><rect x="629" y="713" width="1" height="12"/><rect x="633" y="713" width="1" height="11"/><rect x="637" y="713" width="1" height="11"/><rect x="641" y="713" width="1" height="11"/><rect x="645" y="713" width="1" height="11"/><rect x="649" y="713" width="1" height="12"/><rect x="653" y="713" width="1" height="12"/><rect x="657" y="713" width="1" height="13"/><rect x="661" y="713" width="1" height="13"/><rect x="665" y="713" width="1" height="13"/><rect x="669" y="713" width="1" height="12"/><rect x="673" y="713" width="1" height="12"/><rect x="677" y="713" width="1" height="12"/><rect x="681" y="713" width="1" height="11"/><rect x="685" y="713" width="1" height="9"/><rect x="689" y="713" width="1" height="7"/><rect x="693" y="713" width="1" height="6"/><rect x="697" y="713" width="1" height="5"/><rect x="701" y="713" width="1" height="4"/><rect x="705" y="713" width="1" height="3"/><rect x="709" y="713" width="1" height="2"/><rect x="713" y="713" width="1" height="2"/><rect x="717" y="713" width="1" height="1"/><rect x="721" y="713" width="1" height="1"/><rect x="725" y="713" width="1" height="1"/><rect x="729" y="711" width="1" height="2"/><rect x="733" y="709" width="1" height="4"/><rect x="737" y="707" width="1" height="6"/><rect x="741" y="705" width="1" height="8"/><rect x="745" y="703" width="1" height="10"/><rect x="749" y="702" width="1" height="11"/><rect x="753" y="702" width="1" height="11"/><rect x="757" y="701" width="1" height="12"/><rect x="761" y="702" width="1" height="11"/><rect x="765" y="703" width="1" height="10"/><rect x="769" y="704" width="1" height="9"/><rect x="773" y="705" width="1" height="8"/><rect x="777" y="706" width="1" height="7"/><rect x="781" y="707" width="1" height="6"/><rect x="785" y="707" width="1" height="6"/><rect x="789" y="709" width="1" height="4"/><rect x="793" y="711" width="1" height="2"/><rect x="797" y="713" width="1" height="1"/><rect x="801" y="713" width="1" height="2"/><rect x="805" y="713" width="1" height="3"/><rect x="809" y="713" width="1" height="4"/><rect x="813" y="713" width="1" height="3"/><rect x="817" y="713" width="1" height="3"/><rect x="821" y="713" width="1" height="3"/><rect x="825" y="713" width="1" height="3"/><rect x="829" y="713" width="1" height="4"/><rect x="833" y="713" width="1" height="4"/><rect x="837" y="713" width="1" height="5"/><rect x="841" y="713" width="1" height="4"/><rect x="845" y="713" width="1" height="4"/><rect x="849" y="713" width="1" height="3"/><rect x="853" y="713" width="1" height="3"/><rect x="857" y="713" width="1" height="1"/><rect x="861" y="711" width="1" height="2"/><rect x="865" y="709" width="1" height="4"/><rect x="869" y="708" width="1" height="5"/><rect x="873" y="708" width="1" height="5"/><rect x="877" y="710" width="1" height="3"/><rect x="881" y="712" width="1" height="1"/><rect x="885" y="713" width="1" height="1"/><rect x="889" y="713" width="1" height="4"/><rect x="893" y="713" width="1" height="5"/><rect x="897" y="713" width="1" height="7"/><rect x="901" y="713" width="1" height="8"/><rect x="905" y="713" width="1" height="8"/><rect x="909" y="713" width="1" height="7"/><rect x="913" y="713" width="1" height="5"/><rect x="917" y="713" width="1" height="4"/><rect x="921" y="713" width="1" height="5"/><rect x="925" y="713" width="1" height="4"/><rect x="929" y="713" width="1" height="4"/><rect x="933" y="713" width="1" height="4"/><rect x="937" y="713" width="1" height="4"/><rect x="941" y="713" width="1" height="4"/><rect x="945" y="713" width="1" height="3"/><rect x="949" y="713" width="1" height="4"/><rect x="953" y="713" width="1" height="5"/><rect x="957" y="713" width="1" height="5"/><rect x="961" y="713" width="1" height="6"/><rect x="965" y="713" width="1" height="6"/><rect x="969" y="713" width="1" height="7"/><rect x="973" y="713" width="1" height="7"/><rect x="977" y="713" width="1" height="8"/><rect x="981" y="713" width="1" height="9"/><rect x="985" y="713" width="1" height="11"/><rect x="989" y="713" width="1" height="13"/><rect x="993" y="713" width="1" height="13"/><rect x="997" y="713" width="1" height="14"/><rect x="1001" y="713" width="1" height="14"/><rect x="1005" y="713" width="1" height="15"/><rect x="1009" y="713" width="1" height="15"/><rect x="1013" y="713" width="1" height="15"/><rect x="1017" y="713" width="1" height="15"/><rect x="1021" y="713" width="1" height="15"/><rect x="1025" y="713" width="1" height="14"/><rect x="1029" y="713" width="1" height="14"/><rect x="1033" y="713" width="1" height="13"/><rect x="1037" y="713" width="1" height="12"/><rect x="1041" y="713" width="1" height="10"/><rect x="1045" y="713" width="1" height="7"/><rect x="1049" y="713" width="1" height="6"/><rect x="1053" y="713" width="1" height="5"/><rect x="1057" y="713" width="1" height="5"/><rect x="1061" y="713" width="1" height="4"/><rect x="1065" y="713" width="1" height="4"/><rect x="1069" y="713" width="1" height="4"/><rect x="1073" y="713" width="1" height="5"/><rect x="1077" y="713" width="1" height="6"/><rect x="1081" y="713" width="1" height="6"/><rect x="1085" y="713" width="1" height="6"/><rect x="1089" y="713" width="1" height="7"/><rect x="1093" y="713" width="1" height="7"/><rect x="1097" y="713" width="1" height="7"/><rect x="1101" y="713" width="1" height="7"/><rect x="1105" y="713" width="1" height="6"/><rect x="1109" y="713" width="1" height="5"/><rect x="1113" y="713" width="1" height="5"/><rect x="1117" y="713" width="1" height="6"/><rect x="1121" y="713" width="1" height="5"/><rect x="1125" y="713" width="1" height="5"/><rect x="1129" y="713" width="1" height="4"/><rect x="1133" y="713" width="1" height="4"/><rect x="1137" y="713" width="1" height="5"/><rect x="1141" y="713" width="1" height="6"/><rect x="1145" y="713" width="1" height="5"/><rect x="1149" y="713" width="1" height="4"/><rect x="1153" y="713" width="1" height="3"/><rect x="1157" y="713" width="1" height="3"/><rect x="1161" y="713" width="1" height="2"/><rect x="1165" y="713" width="1" height="1"/><rect x="1169" y="713" width="1" height="1"/><rect x="1173" y="712" width="1" height="1"/><rect x="1177" y="711" width="1" height="2"/><rect x="1181" y="710" width="1" height="3"/><rect x="1185" y="710" width="1" height="3"/><rect x="1189" y="709" width="1" height="4"/><rect x="1193" y="709" width="1" height="4"/><rect x="1197" y="710" width="1" height="3"/><rect x="1201" y="710" width="1" height="3"/><rect x="1205" y="711" width="1" height="2"/><rect x="1209" y="713" width="1" height="1"/><rect x="1213" y="713" width="1" height="1"/><rect x="1217" y="713" width="1" height="1"/><rect x="1221" y="713" width="1" height="1"/><rect x="1225" y="713" width="1" height="2"/><rect x="1229" y="713" width="1" height="3"/><rect x="1233" y="713" width="1" height="2"/><rect x="1237" y="713" width="1" height="2"/><rect x="1241" y="713" width="1" height="3"/><rect x="1245" y="713" width="1" height="4"/><rect x="1249" y="713" width="1" height="5"/><rect x="1253" y="713" width="1" height="5"/></g><g clip-path="url(#cd)"><path d="M1 706h1v1h-1zM2 706h1v1h-1zM3 706h1v1h-1zM7 706h1v1h-1zM8 706h1v1h-1zM9 706h1v1h-1zM13 707h1v1h-1zM14 707h1v1h-1zM15 707h1v1h-1zM19 707h1v1h-1zM20 707h1v1h-1zM21 707h1v1h-1zM25 707h1v1h-1zM26 707h1v1h-1zM27 707h1v1h-1zM31 706h1v1h-1zM32 706h1v1h-1zM33 706h1v1h-1zM37 706h1v1h-1zM38 706h1v1h-1zM39 706h1v1h-1zM43 705h1v1h-1zM44 705h1v1h-1zM45 705h1v1h-1zM49 704h1v1h-1zM50 704h1v1h-1zM51 704h1v1h-1zM55 703h1v1h-1zM56 703h1v1h-1zM57 703h1v1h-1zM61 702h1v1h-1zM62 702h1v1h-1zM63 701h1v1h-1zM67 700h1v1h-1zM68 699h1v1h-1zM69 699h1v1h-1zM73 697h1v1h-1zM74 696h1v1h-1zM75 696h1v1h-1zM79 693h1v1h-1zM80 693h1v1h-1zM81 692h1v1h-1zM85 689h1v1h-1zM86 688h1v1h-1zM87 687h1v1h-1zM91 683h1v1h-1zM92 682h1v1h-1zM93 681h1v1h-1zM97 677h1v1h-1zM98 676h1v1h-1zM99 675h1v1h-1zM103 671h1v1h-1zM104 670h1v1h-1zM105 669h1v1h-1zM109 666h1v1h-1zM110 665h1v1h-1zM111 664h1v1h-1zM115 662h1v1h-1zM116 662h1v1h-1zM117 662h1v1h-1zM121 661h1v1h-1zM122 661h1v1h-1zM123 662h1v1h-1zM127 663h1v1h-1zM128 664h1v1h-1zM129 664h1v1h-1zM133 667h1v1h-1zM134 668h1v1h-1zM135 668h1v1h-1zM139 671h1v1h-1zM140 672h1v1h-1zM141 673h1v1h-1zM145 676h1v1h-1zM146 677h1v1h-1zM147 678h1v1h-1zM151 682h1v1h-1zM152 682h1v1h-1zM153 683h1v1h-1zM157 686h1v1h-1zM158 687h1v1h-1zM159 687h1v1h-1zM163 689h1v1h-1zM164 690h1v1h-1zM165 690h1v1h-1zM169 693h1v1h-1zM170 694h1v1h-1zM171 694h1v1h-1zM175 697h1v1h-1zM176 697h1v1h-1zM177 698h1v1h-1zM181 700h1v1h-1zM182 701h1v1h-1zM183 702h1v1h-1zM187 704h1v1h-1zM188 704h1v1h-1zM189 704h1v1h-1zM193 706h1v1h-1zM194 706h1v1h-1zM195 707h1v1h-1zM199 708h1v1h-1zM200 708h1v1h-1zM201 708h1v1h-1zM205 708h1v1h-1zM206 708h1v1h-1zM207 708h1v1h-1zM211 708h1v1h-1zM212 708h1v1h-1zM213 708h1v1h-1zM217 707h1v1h-1zM218 707h1v1h-1zM219 707h1v1h-1zM223 707h1v1h-1zM224 707h1v1h-1zM225 707h1v1h-1zM229 707h1v1h-1zM230 707h1v1h-1zM231 708h1v1h-1zM235 708h1v1h-1zM236 708h1v1h-1zM237 708h1v1h-1zM241 709h1v1h-1zM242 709h1v1h-1zM243 709h1v1h-1zM247 710h1v1h-1zM248 710h1v1h-1zM249 710h1v1h-1zM253 710h1v1h-1zM254 710h1v1h-1zM255 711h1v1h-1zM259 711h1v1h-1zM260 711h1v1h-1zM261 711h1v1h-1zM265 711h1v1h-1zM266 711h1v1h-1zM267 712h1v1h-1zM271 712h1v1h-1zM272 712h1v1h-1zM273 712h1v1h-1zM277 712h1v1h-1zM278 712h1v1h-1zM279 712h1v1h-1zM283 712h1v1h-1zM284 712h1v1h-1zM285 712h1v1h-1zM289 712h1v1h-1zM290 712h1v1h-1zM291 712h1v1h-1zM295 712h1v1h-1zM296 712h1v1h-1zM297 712h1v1h-1zM301 712h1v1h-1zM302 712h1v1h-1zM303 712h1v1h-1zM307 713h1v1h-1zM308 713h1v1h-1zM309 713h1v1h-1zM313 713h1v1h-1zM314 713h1v1h-1zM315 713h1v1h-1zM319 713h1v1h-1zM320 713h1v1h-1zM321 713h1v1h-1zM325 714h1v1h-1zM326 714h1v1h-1zM327 715h1v1h-1zM331 716h1v1h-1zM332 716h1v1h-1zM333 716h1v1h-1zM337 717h1v1h-1zM338 717h1v1h-1zM339 718h1v1h-1zM343 719h1v1h-1zM344 719h1v1h-1zM345 719h1v1h-1zM349 721h1v1h-1zM350 722h1v1h-1zM351 722h1v1h-1zM355 724h1v1h-1zM356 725h1v1h-1zM357 725h1v1h-1zM361 727h1v1h-1zM362 728h1v1h-1zM363 728h1v1h-1zM367 731h1v1h-1zM368 731h1v1h-1zM369 732h1v1h-1zM373 734h1v1h-1zM374 735h1v1h-1zM375 735h1v1h-1zM379 737h1v1h-1zM380 737h1v1h-1zM381 737h1v1h-1zM385 737h1v1h-1zM386 737h1v1h-1zM387 737h1v1h-1zM391 737h1v1h-1zM392 737h1v1h-1zM393 737h1v1h-1zM397 736h1v1h-1zM398 736h1v1h-1zM399 735h1v1h-1zM403 734h1v1h-1zM404 733h1v1h-1zM405 733h1v1h-1zM409 732h1v1h-1zM410 731h1v1h-1zM411 731h1v1h-1zM415 729h1v1h-1zM416 728h1v1h-1zM417 728h1v1h-1zM421 727h1v1h-1zM422 726h1v1h-1zM423 726h1v1h-1zM427 724h1v1h-1zM428 724h1v1h-1zM429 724h1v1h-1zM433 723h1v1h-1zM434 723h1v1h-1zM435 722h1v1h-1zM439 721h1v1h-1zM440 720h1v1h-1zM441 720h1v1h-1zM445 719h1v1h-1zM446 719h1v1h-1zM447 718h1v1h-1zM451 717h1v1h-1zM452 717h1v1h-1zM453 717h1v1h-1zM457 717h1v1h-1zM458 717h1v1h-1zM459 716h1v1h-1zM463 716h1v1h-1zM464 716h1v1h-1zM465 716h1v1h-1zM469 715h1v1h-1zM470 715h1v1h-1zM471 715h1v1h-1zM475 716h1v1h-1zM476 716h1v1h-1zM477 716h1v1h-1zM481 716h1v1h-1zM482 716h1v1h-1zM483 716h1v1h-1zM487 716h1v1h-1zM488 716h1v1h-1zM489 716h1v1h-1zM493 716h1v1h-1zM494 716h1v1h-1zM495 716h1v1h-1zM499 715h1v1h-1zM500 715h1v1h-1zM501 715h1v1h-1zM505 715h1v1h-1zM506 715h1v1h-1zM507 715h1v1h-1zM511 715h1v1h-1zM512 715h1v1h-1zM513 715h1v1h-1zM517 715h1v1h-1zM518 715h1v1h-1zM519 716h1v1h-1zM523 716h1v1h-1zM524 716h1v1h-1zM525 716h1v1h-1zM529 717h1v1h-1zM530 717h1v1h-1zM531 717h1v1h-1zM535 718h1v1h-1zM536 718h1v1h-1zM537 718h1v1h-1zM541 719h1v1h-1zM542 719h1v1h-1zM543 720h1v1h-1zM547 721h1v1h-1zM548 721h1v1h-1zM549 721h1v1h-1zM553 721h1v1h-1zM554 721h1v1h-1zM555 722h1v1h-1zM559 722h1v1h-1zM560 722h1v1h-1zM561 722h1v1h-1zM565 722h1v1h-1zM566 722h1v1h-1zM567 722h1v1h-1zM571 722h1v1h-1zM572 722h1v1h-1zM573 722h1v1h-1zM577 722h1v1h-1zM578 722h1v1h-1zM579 722h1v1h-1zM583 722h1v1h-1zM584 722h1v1h-1zM585 722h1v1h-1zM589 722h1v1h-1zM590 722h1v1h-1zM591 722h1v1h-1zM595 722h1v1h-1zM596 722h1v1h-1zM597 722h1v1h-1zM601 722h1v1h-1zM602 722h1v1h-1zM603 723h1v1h-1zM607 723h1v1h-1zM608 723h1v1h-1zM609 723h1v1h-1zM613 723h1v1h-1zM614 723h1v1h-1zM615 723h1v1h-1zM619 724h1v1h-1zM620 724h1v1h-1zM621 724h1v1h-1zM625 724h1v1h-1zM626 724h1v1h-1zM627 725h1v1h-1zM631 725h1v1h-1zM632 725h1v1h-1zM633 725h1v1h-1zM637 725h1v1h-1zM638 725h1v1h-1zM639 725h1v1h-1zM643 725h1v1h-1zM644 725h1v1h-1zM645 725h1v1h-1zM649 725h1v1h-1zM650 725h1v1h-1zM651 725h1v1h-1zM655 725h1v1h-1zM656 725h1v1h-1zM657 725h1v1h-1zM661 725h1v1h-1zM662 725h1v1h-1zM663 725h1v1h-1zM667 725h1v1h-1zM668 725h1v1h-1zM669 725h1v1h-1zM673 725h1v1h-1zM674 725h1v1h-1zM675 725h1v1h-1zM679 725h1v1h-1zM680 725h1v1h-1zM681 725h1v1h-1zM685 725h1v1h-1zM686 725h1v1h-1zM687 724h1v1h-1zM691 724h1v1h-1zM692 724h1v1h-1zM693 724h1v1h-1zM697 723h1v1h-1zM698 723h1v1h-1zM699 722h1v1h-1zM703 721h1v1h-1zM704 721h1v1h-1zM705 721h1v1h-1zM709 719h1v1h-1zM710 719h1v1h-1zM711 718h1v1h-1zM715 717h1v1h-1zM716 717h1v1h-1zM717 717h1v1h-1zM721 716h1v1h-1zM722 716h1v1h-1zM723 715h1v1h-1zM727 715h1v1h-1zM728 715h1v1h-1zM729 715h1v1h-1zM733 714h1v1h-1zM734 713h1v1h-1zM735 713h1v1h-1zM739 711h1v1h-1zM740 711h1v1h-1zM741 711h1v1h-1zM745 710h1v1h-1zM746 710h1v1h-1zM747 709h1v1h-1zM751 708h1v1h-1zM752 707h1v1h-1zM753 707h1v1h-1zM757 706h1v1h-1zM758 706h1v1h-1zM759 705h1v1h-1zM763 704h1v1h-1zM764 704h1v1h-1zM765 704h1v1h-1zM769 703h1v1h-1zM770 703h1v1h-1zM771 703h1v1h-1zM775 703h1v1h-1zM776 703h1v1h-1zM777 703h1v1h-1zM781 703h1v1h-1zM782 703h1v1h-1zM783 704h1v1h-1zM787 705h1v1h-1zM788 705h1v1h-1zM789 705h1v1h-1zM793 706h1v1h-1zM794 706h1v1h-1zM795 707h1v1h-1zM799 708h1v1h-1zM800 709h1v1h-1zM801 709h1v1h-1zM805 710h1v1h-1zM806 710h1v1h-1zM807 711h1v1h-1zM811 712h1v1h-1zM812 712h1v1h-1zM813 712h1v1h-1zM817 713h1v1h-1zM818 713h1v1h-1zM819 714h1v1h-1zM823 715h1v1h-1zM824 715h1v1h-1zM825 715h1v1h-1zM829 716h1v1h-1zM830 716h1v1h-1zM831 716h1v1h-1zM835 716h1v1h-1zM836 716h1v1h-1zM837 716h1v1h-1zM841 717h1v1h-1zM842 717h1v1h-1zM843 717h1v1h-1zM847 717h1v1h-1zM848 717h1v1h-1zM849 717h1v1h-1zM853 717h1v1h-1zM854 717h1v1h-1zM855 716h1v1h-1zM859 716h1v1h-1zM860 716h1v1h-1zM861 716h1v1h-1zM865 715h1v1h-1zM866 715h1v1h-1zM867 714h1v1h-1zM871 713h1v1h-1zM872 713h1v1h-1zM873 713h1v1h-1zM877 712h1v1h-1zM878 712h1v1h-1zM879 711h1v1h-1zM883 711h1v1h-1zM884 711h1v1h-1zM885 711h1v1h-1zM889 711h1v1h-1zM890 711h1v1h-1zM891 712h1v1h-1zM895 713h1v1h-1zM896 713h1v1h-1zM897 713h1v1h-1zM901 714h1v1h-1zM902 715h1v1h-1zM903 715h1v1h-1zM907 717h1v1h-1zM908 717h1v1h-1zM909 717h1v1h-1zM913 718h1v1h-1zM914 718h1v1h-1zM915 719h1v1h-1zM919 719h1v1h-1zM920 719h1v1h-1zM921 719h1v1h-1zM925 719h1v1h-1zM926 719h1v1h-1zM927 719h1v1h-1zM931 719h1v1h-1zM932 719h1v1h-1zM933 719h1v1h-1zM937 718h1v1h-1zM938 718h1v1h-1zM939 718h1v1h-1zM943 717h1v1h-1zM944 717h1v1h-1zM945 717h1v1h-1zM949 717h1v1h-1zM950 717h1v1h-1zM951 717h1v1h-1zM955 717h1v1h-1zM956 717h1v1h-1zM957 717h1v1h-1zM961 717h1v1h-1zM962 717h1v1h-1zM963 717h1v1h-1zM967 718h1v1h-1zM968 718h1v1h-1zM969 718h1v1h-1zM973 718h1v1h-1zM974 718h1v1h-1zM975 719h1v1h-1zM979 719h1v1h-1zM980 719h1v1h-1zM981 719h1v1h-1zM985 720h1v1h-1zM986 720h1v1h-1zM987 721h1v1h-1zM991 722h1v1h-1zM992 722h1v1h-1zM993 722h1v1h-1zM997 723h1v1h-1zM998 723h1v1h-1zM999 724h1v1h-1zM1003 725h1v1h-1zM1004 725h1v1h-1zM1005 725h1v1h-1zM1009 726h1v1h-1zM1010 726h1v1h-1zM1011 726h1v1h-1zM1015 727h1v1h-1zM1016 727h1v1h-1zM1017 727h1v1h-1zM1021 727h1v1h-1zM1022 727h1v1h-1zM1023 728h1v1h-1zM1027 728h1v1h-1zM1028 728h1v1h-1zM1029 728h1v1h-1zM1033 728h1v1h-1zM1034 728h1v1h-1zM1035 727h1v1h-1zM1039 727h1v1h-1zM1040 727h1v1h-1zM1041 727h1v1h-1zM1045 726h1v1h-1zM1046 726h1v1h-1zM1047 725h1v1h-1zM1051 724h1v1h-1zM1052 724h1v1h-1zM1053 724h1v1h-1zM1057 723h1v1h-1zM1058 723h1v1h-1zM1059 722h1v1h-1zM1063 721h1v1h-1zM1064 720h1v1h-1zM1065 720h1v1h-1zM1069 719h1v1h-1zM1070 719h1v1h-1zM1071 719h1v1h-1zM1075 718h1v1h-1zM1076 718h1v1h-1zM1077 718h1v1h-1zM1081 718h1v1h-1zM1082 718h1v1h-1zM1083 718h1v1h-1zM1087 718h1v1h-1zM1088 718h1v1h-1zM1089 718h1v1h-1zM1093 718h1v1h-1zM1094 718h1v1h-1zM1095 719h1v1h-1zM1099 719h1v1h-1zM1100 719h1v1h-1zM1101 719h1v1h-1zM1105 719h1v1h-1zM1106 719h1v1h-1zM1107 719h1v1h-1zM1111 719h1v1h-1zM1112 719h1v1h-1zM1113 719h1v1h-1zM1117 719h1v1h-1zM1118 719h1v1h-1zM1119 719h1v1h-1zM1123 719h1v1h-1zM1124 719h1v1h-1zM1125 719h1v1h-1zM1129 719h1v1h-1zM1130 719h1v1h-1zM1131 718h1v1h-1zM1135 718h1v1h-1zM1136 718h1v1h-1zM1137 718h1v1h-1zM1141 718h1v1h-1zM1142 718h1v1h-1zM1143 718h1v1h-1zM1147 718h1v1h-1zM1148 718h1v1h-1zM1149 718h1v1h-1zM1153 718h1v1h-1zM1154 718h1v1h-1zM1155 717h1v1h-1zM1159 717h1v1h-1zM1160 717h1v1h-1zM1161 717h1v1h-1zM1165 717h1v1h-1zM1166 717h1v1h-1zM1167 716h1v1h-1zM1171 716h1v1h-1zM1172 716h1v1h-1zM1173 716h1v1h-1zM1177 715h1v1h-1zM1178 715h1v1h-1zM1179 714h1v1h-1zM1183 713h1v1h-1zM1184 713h1v1h-1zM1185 713h1v1h-1zM1189 712h1v1h-1zM1190 712h1v1h-1zM1191 711h1v1h-1zM1195 711h1v1h-1zM1196 711h1v1h-1zM1197 711h1v1h-1zM1201 710h1v1h-1zM1202 710h1v1h-1zM1203 710h1v1h-1zM1207 710h1v1h-1zM1208 710h1v1h-1zM1209 710h1v1h-1zM1213 711h1v1h-1zM1214 711h1v1h-1zM1215 711h1v1h-1zM1219 712h1v1h-1zM1220 712h1v1h-1zM1221 712h1v1h-1zM1225 712h1v1h-1zM1226 712h1v1h-1zM1227 713h1v1h-1zM1231 714h1v1h-1zM1232 714h1v1h-1zM1233 714h1v1h-1zM1237 714h1v1h-1zM1238 714h1v1h-1zM1239 715h1v1h-1zM1243 715h1v1h-1zM1244 715h1v1h-1zM1245 715h1v1h-1zM1249 716h1v1h-1zM1250 716h1v1h-1zM1251 716h1v1h-1z" fill="#ff0000" shape-rendering="crispEdges"/></g><rect x="5" y="651" width="66" height="12" fill="#fff"/><rect x="73" y="651" width="42" height="12" fill="#fff"/><rect x="118" y="651" width="41" height="12" fill="#fff"/><text x="5.3" y="663" font-size="9.5" fill="#000" stroke="#000" stroke-width="0.15" textLength="65.1" lengthAdjust="spacingAndGlyphs">MACD(12,26,9)</text><text x="73.6" y="663" font-size="9.5" fill="#000" stroke="#000" stroke-width="0.15" textLength="40.9" lengthAdjust="spacingAndGlyphs">-0.003582</text><text x="118" y="663" font-size="9.5" fill="#000" stroke="#000" stroke-width="0.15" textLength="40.5" lengthAdjust="spacingAndGlyphs">-0.002403</text><text x="1581" y="661" font-size="9.5" fill="#000" stroke="#000" stroke-width="0.15" textLength="38.0" lengthAdjust="spacingAndGlyphs">0.032972</text><text x="1581" y="716" font-size="9.5" fill="#000" stroke="#000" stroke-width="0.15" textLength="17.7" lengthAdjust="spacingAndGlyphs">0.00</text><text x="1581" y="743" font-size="9.5" fill="#000" stroke="#000" stroke-width="0.15" textLength="42.0" lengthAdjust="spacingAndGlyphs">-0.018154</text><rect x="1578" y="652" width="2" height="1" fill="#000"/><rect x="1578" y="712" width="2" height="1" fill="#000"/><rect x="1578" y="745" width="2" height="1" fill="#000"/><rect x="1" y="747" width="1" height="3" fill="#000"/><text x="0" y="759" font-size="9.3" fill="#000" stroke="#000" stroke-width="0.15">21 Feb 2020</text><rect x="65" y="747" width="1" height="3" fill="#000"/><text x="64" y="759" font-size="9.3" fill="#000" stroke="#000" stroke-width="0.15">11 Mar 2020</text><rect x="129" y="747" width="1" height="3" fill="#000"/><text x="128" y="759" font-size="9.3" fill="#000" stroke="#000" stroke-width="0.15">30 Mar 2020</text><rect x="193" y="747" width="1" height="3" fill="#000"/><text x="192" y="759" font-size="9.3" fill="#000" stroke="#000" stroke-width="0.15">17 Apr 2020</text><rect x="257" y="747" width="1" height="3" fill="#000"/><text x="256" y="759" font-size="9.3" fill="#000" stroke="#000" stroke-width="0.15">6 May 2020</text><rect x="321" y="747" width="1" height="3" fill="#000"/><text x="320" y="759" font-size="9.3" fill="#000" stroke="#000" stroke-width="0.15">25 May 2020</text><rect x="385" y="747" width="1" height="3" fill="#000"/><text x="384" y="759" font-size="9.3" fill="#000" stroke="#000" stroke-width="0.15">12 Jun 2020</text><rect x="449" y="747" width="1" height="3" fill="#000"/><text x="448" y="759" font-size="9.3" fill="#000" stroke="#000" stroke-width="0.15">1 Jul 2020</text><rect x="513" y="747" width="1" height="3" fill="#000"/><text x="512" y="759" font-size="9.3" fill="#000" stroke="#000" stroke-width="0.15">20 Jul 2020</text><rect x="577" y="747" width="1" height="3" fill="#000"/><text x="576" y="759" font-size="9.3" fill="#000" stroke="#000" stroke-width="0.15">7 Aug 2020</text><rect x="641" y="747" width="1" height="3" fill="#000"/><text x="640" y="759" font-size="9.3" fill="#000" stroke="#000" stroke-width="0.15">26 Aug 2020</text><rect x="705" y="747" width="1" height="3" fill="#000"/><text x="704" y="759" font-size="9.3" fill="#000" stroke="#000" stroke-width="0.15">14 Sep 2020</text><rect x="769" y="747" width="1" height="3" fill="#000"/><text x="768" y="759" font-size="9.3" fill="#000" stroke="#000" stroke-width="0.15">2 Oct 2020</text><rect x="833" y="747" width="1" height="3" fill="#000"/><text x="832" y="759" font-size="9.3" fill="#000" stroke="#000" stroke-width="0.15">21 Oct 2020</text><rect x="897" y="747" width="1" height="3" fill="#000"/><text x="896" y="759" font-size="9.3" fill="#000" stroke="#000" stroke-width="0.15">9 Nov 2020</text><rect x="961" y="747" width="1" height="3" fill="#000"/><text x="960" y="759" font-size="9.3" fill="#000" stroke="#000" stroke-width="0.15">27 Nov 2020</text><rect x="1025" y="747" width="1" height="3" fill="#000"/><text x="1024" y="759" font-size="9.3" fill="#000" stroke="#000" stroke-width="0.15">16 Dec 2020</text><rect x="1089" y="747" width="1" height="3" fill="#000"/><text x="1088" y="759" font-size="9.3" fill="#000" stroke="#000" stroke-width="0.15">6 Jan 2021</text><rect x="1153" y="747" width="1" height="3" fill="#000"/><text x="1152" y="759" font-size="9.3" fill="#000" stroke="#000" stroke-width="0.15">25 Jan 2021</text><rect x="1217" y="747" width="1" height="3" fill="#000"/><text x="1216" y="759" font-size="9.3" fill="#000" stroke="#000" stroke-width="0.15">12 Feb 2021</text><rect x="0" y="767" width="1620" height="1" fill="#e3e3e3"/><rect x="0" y="768" width="1620" height="1" fill="#ffffff"/><rect x="0" y="769" width="1620" height="1" fill="#000"/><rect x="0" y="770" width="1620" height="19" fill="#f0f0f0"/><rect x="0" y="789" width="1620" height="1" fill="#ffffff"/><rect x="0" y="790" width="1620" height="2" fill="#f0f0f0"/><rect x="106" y="772" width="1" height="14" fill="#6a6a6a"/><rect x="206" y="772" width="1" height="14" fill="#6a6a6a"/><rect x="518" y="772" width="1" height="14" fill="#6a6a6a"/><rect x="622" y="772" width="1" height="14" fill="#6a6a6a"/><rect x="714" y="772" width="1" height="14" fill="#6a6a6a"/><rect x="818" y="772" width="1" height="14" fill="#6a6a6a"/><rect x="890" y="772" width="1" height="14" fill="#6a6a6a"/><rect x="970" y="772" width="1" height="14" fill="#6a6a6a"/><rect x="1050" y="772" width="1" height="14" fill="#6a6a6a"/><rect x="1130" y="772" width="1" height="14" fill="#6a6a6a"/><rect x="1206" y="772" width="1" height="14" fill="#6a6a6a"/><rect x="1306" y="772" width="1" height="14" fill="#6a6a6a"/><rect x="1390" y="772" width="1" height="14" fill="#6a6a6a"/><rect x="1470" y="772" width="1" height="14" fill="#6a6a6a"/><rect x="1570" y="772" width="1" height="14" fill="#6a6a6a"/><rect x="310" y="770" width="104" height="18" fill="#fff"/><rect x="310" y="769" width="1" height="19" fill="#000"/><rect x="413" y="769" width="1" height="19" fill="#000"/><rect x="310" y="787" width="104" height="1" fill="#000"/><text x="14.5" y="784" font-size="12" fill="#6d6d6d" stroke="#6d6d6d" stroke-width="0.15" textLength="79.5" lengthAdjust="spacingAndGlyphs">EURUSD,Daily</text><text x="116.4" y="784" font-size="12" fill="#6d6d6d" stroke="#6d6d6d" stroke-width="0.15" textLength="78.6" lengthAdjust="spacingAndGlyphs">USDCHF,Daily</text><text x="217" y="784" font-size="12" fill="#6d6d6d" stroke="#6d6d6d" stroke-width="0.15" textLength="82.0" lengthAdjust="spacingAndGlyphs">AUDUSD,Daily</text><text x="321.5" y="784" font-size="12" fill="#000" stroke="#000" stroke-width="0.15" textLength="80.5" lengthAdjust="spacingAndGlyphs">USDCAD,Daily</text><text x="424" y="784" font-size="12" fill="#6d6d6d" stroke="#6d6d6d" stroke-width="0.15" textLength="83.0" lengthAdjust="spacingAndGlyphs">USDCNH,Daily</text><text x="530" y="784" font-size="12" fill="#6d6d6d" stroke="#6d6d6d" stroke-width="0.15" textLength="80.0" lengthAdjust="spacingAndGlyphs">EURUSD,Daily</text><text x="634" y="784" font-size="12" fill="#6d6d6d" stroke="#6d6d6d" stroke-width="0.15" textLength="68.0" lengthAdjust="spacingAndGlyphs">GBPUSD,H4</text><text x="725" y="784" font-size="12" fill="#6d6d6d" stroke="#6d6d6d" stroke-width="0.15" textLength="81.0" lengthAdjust="spacingAndGlyphs">XAUUSD,Daily</text><text x="829" y="784" font-size="12" fill="#6d6d6d" stroke="#6d6d6d" stroke-width="0.15" textLength="49.5" lengthAdjust="spacingAndGlyphs">HK50,H1</text><text x="901" y="784" font-size="12" fill="#6d6d6d" stroke="#6d6d6d" stroke-width="0.15" textLength="56.6" lengthAdjust="spacingAndGlyphs">UK100,H1</text><text x="981" y="784" font-size="12" fill="#6d6d6d" stroke="#6d6d6d" stroke-width="0.15" textLength="56.6" lengthAdjust="spacingAndGlyphs">UK100,H1</text><text x="1061" y="784" font-size="12" fill="#6d6d6d" stroke="#6d6d6d" stroke-width="0.15" textLength="56.6" lengthAdjust="spacingAndGlyphs">GER30,H1</text><text x="1141" y="784" font-size="12" fill="#6d6d6d" stroke="#6d6d6d" stroke-width="0.15" textLength="54.0" lengthAdjust="spacingAndGlyphs">FRA40,H1</text><text x="1217" y="784" font-size="12" fill="#6d6d6d" stroke="#6d6d6d" stroke-width="0.15" textLength="77.0" lengthAdjust="spacingAndGlyphs">USOil,Weekly</text><text x="1316" y="784" font-size="12" fill="#6d6d6d" stroke="#6d6d6d" stroke-width="0.15" textLength="62.5" lengthAdjust="spacingAndGlyphs">USDJPY,H1</text><text x="1400" y="784" font-size="12" fill="#6d6d6d" stroke="#6d6d6d" stroke-width="0.15" textLength="59.0" lengthAdjust="spacingAndGlyphs">DJ30,Daily</text><text x="1480" y="784" font-size="12" fill="#6d6d6d" stroke="#6d6d6d" stroke-width="0.15" textLength="78.7" lengthAdjust="spacingAndGlyphs">CHINA300,H1</text><text x="1581" y="784" font-size="12" fill="#6d6d6d" stroke="#6d6d6d" stroke-width="0.15" textLength="6.0" lengthAdjust="spacingAndGlyphs">U</text><path d="M1593 778 L1596 775 L1596 781 Z" fill="#a0a0a0"/><path d="M1612 775 L1615 778 L1612 781 Z" fill="#000"/></svg></body></html>
